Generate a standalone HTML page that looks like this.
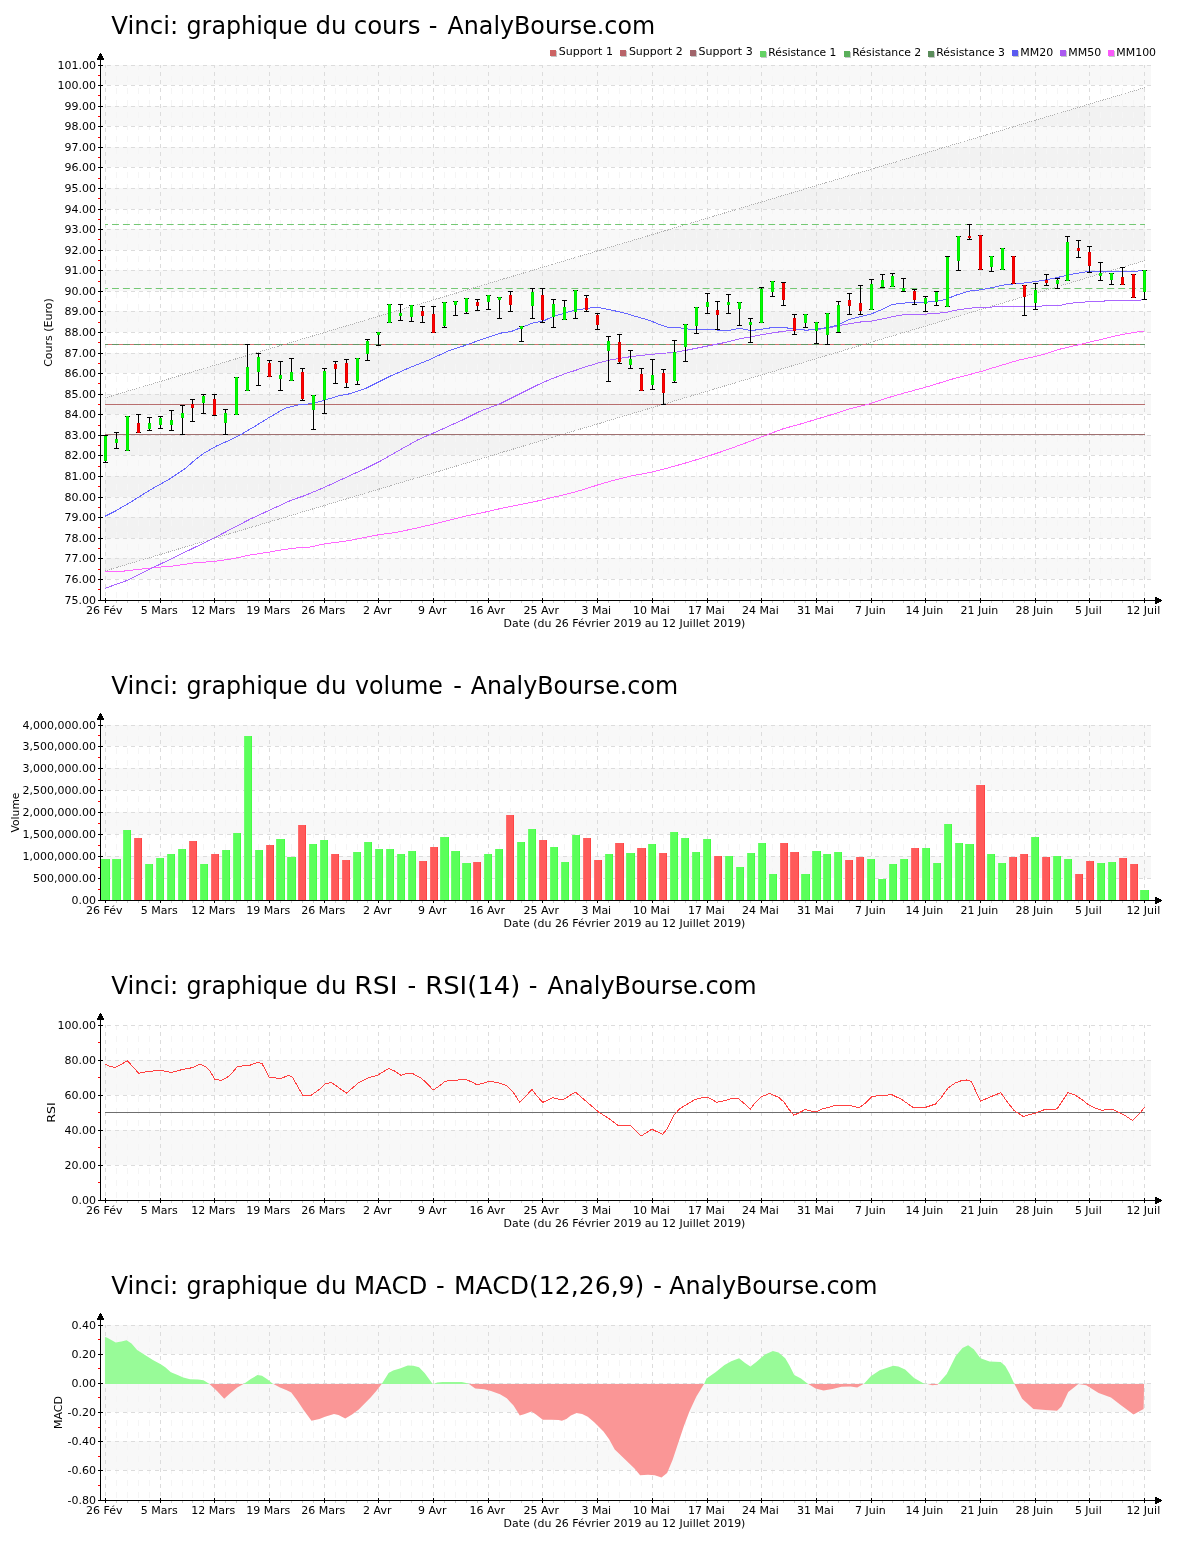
<!DOCTYPE html>
<html><head><meta charset="utf-8"><style>html,body{margin:0;padding:0;background:#fff;}svg{display:block;}</style></head><body>
<svg style="will-change:transform" width="1200" height="1550" viewBox="0 0 1200 1550" font-family="'DejaVu Sans', 'Liberation Sans', sans-serif">
<rect width="1200" height="1550" fill="#fff"/>
<text x="111.25" y="34" font-size="24" fill="#000" textLength="67.00" lengthAdjust="spacingAndGlyphs">Vinci:</text>
<text x="186.51" y="34" font-size="24" fill="#000" textLength="121.13" lengthAdjust="spacingAndGlyphs">graphique</text>
<text x="315.48" y="34" font-size="24" fill="#000" textLength="30.99" lengthAdjust="spacingAndGlyphs">du</text>
<text x="353.68" y="34" font-size="24" fill="#000" textLength="66.80" lengthAdjust="spacingAndGlyphs">cours</text>
<text x="428.75" y="34" font-size="24" fill="#000">-</text>
<text x="447.50" y="34" font-size="24" fill="#000" textLength="207.58" lengthAdjust="spacingAndGlyphs">AnalyBourse.com</text>
<rect x="101" y="558" width="1050" height="21" fill="#f8f8f8"/>
<rect x="101" y="517" width="1050" height="21" fill="#f8f8f8"/>
<rect x="101" y="476" width="1050" height="21" fill="#f8f8f8"/>
<rect x="101" y="435" width="1050" height="20" fill="#f8f8f8"/>
<rect x="101" y="394" width="1050" height="20" fill="#f8f8f8"/>
<rect x="101" y="353" width="1050" height="20" fill="#f8f8f8"/>
<rect x="101" y="311" width="1050" height="21" fill="#f8f8f8"/>
<rect x="101" y="270" width="1050" height="21" fill="#f8f8f8"/>
<rect x="101" y="229" width="1050" height="21" fill="#f8f8f8"/>
<rect x="101" y="188" width="1050" height="21" fill="#f8f8f8"/>
<rect x="101" y="147" width="1050" height="20" fill="#f8f8f8"/>
<rect x="101" y="106" width="1050" height="20" fill="#f8f8f8"/>
<rect x="101" y="65" width="1050" height="20" fill="#f8f8f8"/>
<polygon points="105,397.95 1145,87.51 1145,260.51 105,570.95" fill="#000" fill-opacity="0.025"/>
<line x1="116.5" y1="65" x2="116.5" y2="600" stroke="#f5f5f5" stroke-width="1" stroke-dasharray="6,6" stroke-dashoffset="1"/>
<line x1="127.5" y1="65" x2="127.5" y2="600" stroke="#f5f5f5" stroke-width="1" stroke-dasharray="6,6" stroke-dashoffset="1"/>
<line x1="138.5" y1="65" x2="138.5" y2="600" stroke="#f5f5f5" stroke-width="1" stroke-dasharray="6,6" stroke-dashoffset="1"/>
<line x1="149.5" y1="65" x2="149.5" y2="600" stroke="#f5f5f5" stroke-width="1" stroke-dasharray="6,6" stroke-dashoffset="1"/>
<line x1="171.5" y1="65" x2="171.5" y2="600" stroke="#f5f5f5" stroke-width="1" stroke-dasharray="6,6" stroke-dashoffset="1"/>
<line x1="182.5" y1="65" x2="182.5" y2="600" stroke="#f5f5f5" stroke-width="1" stroke-dasharray="6,6" stroke-dashoffset="1"/>
<line x1="192.5" y1="65" x2="192.5" y2="600" stroke="#f5f5f5" stroke-width="1" stroke-dasharray="6,6" stroke-dashoffset="1"/>
<line x1="203.5" y1="65" x2="203.5" y2="600" stroke="#f5f5f5" stroke-width="1" stroke-dasharray="6,6" stroke-dashoffset="1"/>
<line x1="225.5" y1="65" x2="225.5" y2="600" stroke="#f5f5f5" stroke-width="1" stroke-dasharray="6,6" stroke-dashoffset="1"/>
<line x1="236.5" y1="65" x2="236.5" y2="600" stroke="#f5f5f5" stroke-width="1" stroke-dasharray="6,6" stroke-dashoffset="1"/>
<line x1="247.5" y1="65" x2="247.5" y2="600" stroke="#f5f5f5" stroke-width="1" stroke-dasharray="6,6" stroke-dashoffset="1"/>
<line x1="258.5" y1="65" x2="258.5" y2="600" stroke="#f5f5f5" stroke-width="1" stroke-dasharray="6,6" stroke-dashoffset="1"/>
<line x1="280.5" y1="65" x2="280.5" y2="600" stroke="#f5f5f5" stroke-width="1" stroke-dasharray="6,6" stroke-dashoffset="1"/>
<line x1="291.5" y1="65" x2="291.5" y2="600" stroke="#f5f5f5" stroke-width="1" stroke-dasharray="6,6" stroke-dashoffset="1"/>
<line x1="302.5" y1="65" x2="302.5" y2="600" stroke="#f5f5f5" stroke-width="1" stroke-dasharray="6,6" stroke-dashoffset="1"/>
<line x1="313.5" y1="65" x2="313.5" y2="600" stroke="#f5f5f5" stroke-width="1" stroke-dasharray="6,6" stroke-dashoffset="1"/>
<line x1="335.5" y1="65" x2="335.5" y2="600" stroke="#f5f5f5" stroke-width="1" stroke-dasharray="6,6" stroke-dashoffset="1"/>
<line x1="346.5" y1="65" x2="346.5" y2="600" stroke="#f5f5f5" stroke-width="1" stroke-dasharray="6,6" stroke-dashoffset="1"/>
<line x1="357.5" y1="65" x2="357.5" y2="600" stroke="#f5f5f5" stroke-width="1" stroke-dasharray="6,6" stroke-dashoffset="1"/>
<line x1="367.5" y1="65" x2="367.5" y2="600" stroke="#f5f5f5" stroke-width="1" stroke-dasharray="6,6" stroke-dashoffset="1"/>
<line x1="389.5" y1="65" x2="389.5" y2="600" stroke="#f5f5f5" stroke-width="1" stroke-dasharray="6,6" stroke-dashoffset="1"/>
<line x1="400.5" y1="65" x2="400.5" y2="600" stroke="#f5f5f5" stroke-width="1" stroke-dasharray="6,6" stroke-dashoffset="1"/>
<line x1="411.5" y1="65" x2="411.5" y2="600" stroke="#f5f5f5" stroke-width="1" stroke-dasharray="6,6" stroke-dashoffset="1"/>
<line x1="422.5" y1="65" x2="422.5" y2="600" stroke="#f5f5f5" stroke-width="1" stroke-dasharray="6,6" stroke-dashoffset="1"/>
<line x1="444.5" y1="65" x2="444.5" y2="600" stroke="#f5f5f5" stroke-width="1" stroke-dasharray="6,6" stroke-dashoffset="1"/>
<line x1="455.5" y1="65" x2="455.5" y2="600" stroke="#f5f5f5" stroke-width="1" stroke-dasharray="6,6" stroke-dashoffset="1"/>
<line x1="466.5" y1="65" x2="466.5" y2="600" stroke="#f5f5f5" stroke-width="1" stroke-dasharray="6,6" stroke-dashoffset="1"/>
<line x1="477.5" y1="65" x2="477.5" y2="600" stroke="#f5f5f5" stroke-width="1" stroke-dasharray="6,6" stroke-dashoffset="1"/>
<line x1="499.5" y1="65" x2="499.5" y2="600" stroke="#f5f5f5" stroke-width="1" stroke-dasharray="6,6" stroke-dashoffset="1"/>
<line x1="510.5" y1="65" x2="510.5" y2="600" stroke="#f5f5f5" stroke-width="1" stroke-dasharray="6,6" stroke-dashoffset="1"/>
<line x1="521.5" y1="65" x2="521.5" y2="600" stroke="#f5f5f5" stroke-width="1" stroke-dasharray="6,6" stroke-dashoffset="1"/>
<line x1="532.5" y1="65" x2="532.5" y2="600" stroke="#f5f5f5" stroke-width="1" stroke-dasharray="6,6" stroke-dashoffset="1"/>
<line x1="553.5" y1="65" x2="553.5" y2="600" stroke="#f5f5f5" stroke-width="1" stroke-dasharray="6,6" stroke-dashoffset="1"/>
<line x1="564.5" y1="65" x2="564.5" y2="600" stroke="#f5f5f5" stroke-width="1" stroke-dasharray="6,6" stroke-dashoffset="1"/>
<line x1="575.5" y1="65" x2="575.5" y2="600" stroke="#f5f5f5" stroke-width="1" stroke-dasharray="6,6" stroke-dashoffset="1"/>
<line x1="586.5" y1="65" x2="586.5" y2="600" stroke="#f5f5f5" stroke-width="1" stroke-dasharray="6,6" stroke-dashoffset="1"/>
<line x1="608.5" y1="65" x2="608.5" y2="600" stroke="#f5f5f5" stroke-width="1" stroke-dasharray="6,6" stroke-dashoffset="1"/>
<line x1="619.5" y1="65" x2="619.5" y2="600" stroke="#f5f5f5" stroke-width="1" stroke-dasharray="6,6" stroke-dashoffset="1"/>
<line x1="630.5" y1="65" x2="630.5" y2="600" stroke="#f5f5f5" stroke-width="1" stroke-dasharray="6,6" stroke-dashoffset="1"/>
<line x1="641.5" y1="65" x2="641.5" y2="600" stroke="#f5f5f5" stroke-width="1" stroke-dasharray="6,6" stroke-dashoffset="1"/>
<line x1="663.5" y1="65" x2="663.5" y2="600" stroke="#f5f5f5" stroke-width="1" stroke-dasharray="6,6" stroke-dashoffset="1"/>
<line x1="674.5" y1="65" x2="674.5" y2="600" stroke="#f5f5f5" stroke-width="1" stroke-dasharray="6,6" stroke-dashoffset="1"/>
<line x1="685.5" y1="65" x2="685.5" y2="600" stroke="#f5f5f5" stroke-width="1" stroke-dasharray="6,6" stroke-dashoffset="1"/>
<line x1="696.5" y1="65" x2="696.5" y2="600" stroke="#f5f5f5" stroke-width="1" stroke-dasharray="6,6" stroke-dashoffset="1"/>
<line x1="717.5" y1="65" x2="717.5" y2="600" stroke="#f5f5f5" stroke-width="1" stroke-dasharray="6,6" stroke-dashoffset="1"/>
<line x1="728.5" y1="65" x2="728.5" y2="600" stroke="#f5f5f5" stroke-width="1" stroke-dasharray="6,6" stroke-dashoffset="1"/>
<line x1="739.5" y1="65" x2="739.5" y2="600" stroke="#f5f5f5" stroke-width="1" stroke-dasharray="6,6" stroke-dashoffset="1"/>
<line x1="750.5" y1="65" x2="750.5" y2="600" stroke="#f5f5f5" stroke-width="1" stroke-dasharray="6,6" stroke-dashoffset="1"/>
<line x1="772.5" y1="65" x2="772.5" y2="600" stroke="#f5f5f5" stroke-width="1" stroke-dasharray="6,6" stroke-dashoffset="1"/>
<line x1="783.5" y1="65" x2="783.5" y2="600" stroke="#f5f5f5" stroke-width="1" stroke-dasharray="6,6" stroke-dashoffset="1"/>
<line x1="794.5" y1="65" x2="794.5" y2="600" stroke="#f5f5f5" stroke-width="1" stroke-dasharray="6,6" stroke-dashoffset="1"/>
<line x1="805.5" y1="65" x2="805.5" y2="600" stroke="#f5f5f5" stroke-width="1" stroke-dasharray="6,6" stroke-dashoffset="1"/>
<line x1="827.5" y1="65" x2="827.5" y2="600" stroke="#f5f5f5" stroke-width="1" stroke-dasharray="6,6" stroke-dashoffset="1"/>
<line x1="838.5" y1="65" x2="838.5" y2="600" stroke="#f5f5f5" stroke-width="1" stroke-dasharray="6,6" stroke-dashoffset="1"/>
<line x1="849.5" y1="65" x2="849.5" y2="600" stroke="#f5f5f5" stroke-width="1" stroke-dasharray="6,6" stroke-dashoffset="1"/>
<line x1="860.5" y1="65" x2="860.5" y2="600" stroke="#f5f5f5" stroke-width="1" stroke-dasharray="6,6" stroke-dashoffset="1"/>
<line x1="882.5" y1="65" x2="882.5" y2="600" stroke="#f5f5f5" stroke-width="1" stroke-dasharray="6,6" stroke-dashoffset="1"/>
<line x1="892.5" y1="65" x2="892.5" y2="600" stroke="#f5f5f5" stroke-width="1" stroke-dasharray="6,6" stroke-dashoffset="1"/>
<line x1="903.5" y1="65" x2="903.5" y2="600" stroke="#f5f5f5" stroke-width="1" stroke-dasharray="6,6" stroke-dashoffset="1"/>
<line x1="914.5" y1="65" x2="914.5" y2="600" stroke="#f5f5f5" stroke-width="1" stroke-dasharray="6,6" stroke-dashoffset="1"/>
<line x1="936.5" y1="65" x2="936.5" y2="600" stroke="#f5f5f5" stroke-width="1" stroke-dasharray="6,6" stroke-dashoffset="1"/>
<line x1="947.5" y1="65" x2="947.5" y2="600" stroke="#f5f5f5" stroke-width="1" stroke-dasharray="6,6" stroke-dashoffset="1"/>
<line x1="958.5" y1="65" x2="958.5" y2="600" stroke="#f5f5f5" stroke-width="1" stroke-dasharray="6,6" stroke-dashoffset="1"/>
<line x1="969.5" y1="65" x2="969.5" y2="600" stroke="#f5f5f5" stroke-width="1" stroke-dasharray="6,6" stroke-dashoffset="1"/>
<line x1="991.5" y1="65" x2="991.5" y2="600" stroke="#f5f5f5" stroke-width="1" stroke-dasharray="6,6" stroke-dashoffset="1"/>
<line x1="1002.5" y1="65" x2="1002.5" y2="600" stroke="#f5f5f5" stroke-width="1" stroke-dasharray="6,6" stroke-dashoffset="1"/>
<line x1="1013.5" y1="65" x2="1013.5" y2="600" stroke="#f5f5f5" stroke-width="1" stroke-dasharray="6,6" stroke-dashoffset="1"/>
<line x1="1024.5" y1="65" x2="1024.5" y2="600" stroke="#f5f5f5" stroke-width="1" stroke-dasharray="6,6" stroke-dashoffset="1"/>
<line x1="1046.5" y1="65" x2="1046.5" y2="600" stroke="#f5f5f5" stroke-width="1" stroke-dasharray="6,6" stroke-dashoffset="1"/>
<line x1="1057.5" y1="65" x2="1057.5" y2="600" stroke="#f5f5f5" stroke-width="1" stroke-dasharray="6,6" stroke-dashoffset="1"/>
<line x1="1067.5" y1="65" x2="1067.5" y2="600" stroke="#f5f5f5" stroke-width="1" stroke-dasharray="6,6" stroke-dashoffset="1"/>
<line x1="1078.5" y1="65" x2="1078.5" y2="600" stroke="#f5f5f5" stroke-width="1" stroke-dasharray="6,6" stroke-dashoffset="1"/>
<line x1="1100.5" y1="65" x2="1100.5" y2="600" stroke="#f5f5f5" stroke-width="1" stroke-dasharray="6,6" stroke-dashoffset="1"/>
<line x1="1111.5" y1="65" x2="1111.5" y2="600" stroke="#f5f5f5" stroke-width="1" stroke-dasharray="6,6" stroke-dashoffset="1"/>
<line x1="1122.5" y1="65" x2="1122.5" y2="600" stroke="#f5f5f5" stroke-width="1" stroke-dasharray="6,6" stroke-dashoffset="1"/>
<line x1="1133.5" y1="65" x2="1133.5" y2="600" stroke="#f5f5f5" stroke-width="1" stroke-dasharray="6,6" stroke-dashoffset="1"/>
<line x1="105.5" y1="65" x2="105.5" y2="600" stroke="#dcdcdc" stroke-width="1" stroke-dasharray="4,4" stroke-dashoffset="1"/>
<line x1="160.5" y1="65" x2="160.5" y2="600" stroke="#dcdcdc" stroke-width="1" stroke-dasharray="4,4" stroke-dashoffset="1"/>
<line x1="214.5" y1="65" x2="214.5" y2="600" stroke="#dcdcdc" stroke-width="1" stroke-dasharray="4,4" stroke-dashoffset="1"/>
<line x1="269.5" y1="65" x2="269.5" y2="600" stroke="#dcdcdc" stroke-width="1" stroke-dasharray="4,4" stroke-dashoffset="1"/>
<line x1="324.5" y1="65" x2="324.5" y2="600" stroke="#dcdcdc" stroke-width="1" stroke-dasharray="4,4" stroke-dashoffset="1"/>
<line x1="378.5" y1="65" x2="378.5" y2="600" stroke="#dcdcdc" stroke-width="1" stroke-dasharray="4,4" stroke-dashoffset="1"/>
<line x1="433.5" y1="65" x2="433.5" y2="600" stroke="#dcdcdc" stroke-width="1" stroke-dasharray="4,4" stroke-dashoffset="1"/>
<line x1="488.5" y1="65" x2="488.5" y2="600" stroke="#dcdcdc" stroke-width="1" stroke-dasharray="4,4" stroke-dashoffset="1"/>
<line x1="542.5" y1="65" x2="542.5" y2="600" stroke="#dcdcdc" stroke-width="1" stroke-dasharray="4,4" stroke-dashoffset="1"/>
<line x1="597.5" y1="65" x2="597.5" y2="600" stroke="#dcdcdc" stroke-width="1" stroke-dasharray="4,4" stroke-dashoffset="1"/>
<line x1="652.5" y1="65" x2="652.5" y2="600" stroke="#dcdcdc" stroke-width="1" stroke-dasharray="4,4" stroke-dashoffset="1"/>
<line x1="707.5" y1="65" x2="707.5" y2="600" stroke="#dcdcdc" stroke-width="1" stroke-dasharray="4,4" stroke-dashoffset="1"/>
<line x1="761.5" y1="65" x2="761.5" y2="600" stroke="#dcdcdc" stroke-width="1" stroke-dasharray="4,4" stroke-dashoffset="1"/>
<line x1="816.5" y1="65" x2="816.5" y2="600" stroke="#dcdcdc" stroke-width="1" stroke-dasharray="4,4" stroke-dashoffset="1"/>
<line x1="871.5" y1="65" x2="871.5" y2="600" stroke="#dcdcdc" stroke-width="1" stroke-dasharray="4,4" stroke-dashoffset="1"/>
<line x1="925.5" y1="65" x2="925.5" y2="600" stroke="#dcdcdc" stroke-width="1" stroke-dasharray="4,4" stroke-dashoffset="1"/>
<line x1="980.5" y1="65" x2="980.5" y2="600" stroke="#dcdcdc" stroke-width="1" stroke-dasharray="4,4" stroke-dashoffset="1"/>
<line x1="1035.5" y1="65" x2="1035.5" y2="600" stroke="#dcdcdc" stroke-width="1" stroke-dasharray="4,4" stroke-dashoffset="1"/>
<line x1="1089.5" y1="65" x2="1089.5" y2="600" stroke="#dcdcdc" stroke-width="1" stroke-dasharray="4,4" stroke-dashoffset="1"/>
<line x1="1144.5" y1="65" x2="1144.5" y2="600" stroke="#dcdcdc" stroke-width="1" stroke-dasharray="4,4" stroke-dashoffset="1"/>
<line x1="101" y1="600.5" x2="1151" y2="600.5" stroke="#dcdcdc" stroke-width="1" stroke-dasharray="4,4" stroke-dashoffset="2"/>
<line x1="101" y1="579.5" x2="1151" y2="579.5" stroke="#dcdcdc" stroke-width="1" stroke-dasharray="4,4" stroke-dashoffset="2"/>
<line x1="101" y1="558.5" x2="1151" y2="558.5" stroke="#dcdcdc" stroke-width="1" stroke-dasharray="4,4" stroke-dashoffset="2"/>
<line x1="101" y1="538.5" x2="1151" y2="538.5" stroke="#dcdcdc" stroke-width="1" stroke-dasharray="4,4" stroke-dashoffset="2"/>
<line x1="101" y1="517.5" x2="1151" y2="517.5" stroke="#dcdcdc" stroke-width="1" stroke-dasharray="4,4" stroke-dashoffset="2"/>
<line x1="101" y1="497.5" x2="1151" y2="497.5" stroke="#dcdcdc" stroke-width="1" stroke-dasharray="4,4" stroke-dashoffset="2"/>
<line x1="101" y1="476.5" x2="1151" y2="476.5" stroke="#dcdcdc" stroke-width="1" stroke-dasharray="4,4" stroke-dashoffset="2"/>
<line x1="101" y1="455.5" x2="1151" y2="455.5" stroke="#dcdcdc" stroke-width="1" stroke-dasharray="4,4" stroke-dashoffset="2"/>
<line x1="101" y1="435.5" x2="1151" y2="435.5" stroke="#dcdcdc" stroke-width="1" stroke-dasharray="4,4" stroke-dashoffset="2"/>
<line x1="101" y1="414.5" x2="1151" y2="414.5" stroke="#dcdcdc" stroke-width="1" stroke-dasharray="4,4" stroke-dashoffset="2"/>
<line x1="101" y1="394.5" x2="1151" y2="394.5" stroke="#dcdcdc" stroke-width="1" stroke-dasharray="4,4" stroke-dashoffset="2"/>
<line x1="101" y1="373.5" x2="1151" y2="373.5" stroke="#dcdcdc" stroke-width="1" stroke-dasharray="4,4" stroke-dashoffset="2"/>
<line x1="101" y1="353.5" x2="1151" y2="353.5" stroke="#dcdcdc" stroke-width="1" stroke-dasharray="4,4" stroke-dashoffset="2"/>
<line x1="101" y1="332.5" x2="1151" y2="332.5" stroke="#dcdcdc" stroke-width="1" stroke-dasharray="4,4" stroke-dashoffset="2"/>
<line x1="101" y1="311.5" x2="1151" y2="311.5" stroke="#dcdcdc" stroke-width="1" stroke-dasharray="4,4" stroke-dashoffset="2"/>
<line x1="101" y1="291.5" x2="1151" y2="291.5" stroke="#dcdcdc" stroke-width="1" stroke-dasharray="4,4" stroke-dashoffset="2"/>
<line x1="101" y1="270.5" x2="1151" y2="270.5" stroke="#dcdcdc" stroke-width="1" stroke-dasharray="4,4" stroke-dashoffset="2"/>
<line x1="101" y1="250.5" x2="1151" y2="250.5" stroke="#dcdcdc" stroke-width="1" stroke-dasharray="4,4" stroke-dashoffset="2"/>
<line x1="101" y1="229.5" x2="1151" y2="229.5" stroke="#dcdcdc" stroke-width="1" stroke-dasharray="4,4" stroke-dashoffset="2"/>
<line x1="101" y1="209.5" x2="1151" y2="209.5" stroke="#dcdcdc" stroke-width="1" stroke-dasharray="4,4" stroke-dashoffset="2"/>
<line x1="101" y1="188.5" x2="1151" y2="188.5" stroke="#dcdcdc" stroke-width="1" stroke-dasharray="4,4" stroke-dashoffset="2"/>
<line x1="101" y1="167.5" x2="1151" y2="167.5" stroke="#dcdcdc" stroke-width="1" stroke-dasharray="4,4" stroke-dashoffset="2"/>
<line x1="101" y1="147.5" x2="1151" y2="147.5" stroke="#dcdcdc" stroke-width="1" stroke-dasharray="4,4" stroke-dashoffset="2"/>
<line x1="101" y1="126.5" x2="1151" y2="126.5" stroke="#dcdcdc" stroke-width="1" stroke-dasharray="4,4" stroke-dashoffset="2"/>
<line x1="101" y1="106.5" x2="1151" y2="106.5" stroke="#dcdcdc" stroke-width="1" stroke-dasharray="4,4" stroke-dashoffset="2"/>
<line x1="101" y1="85.5" x2="1151" y2="85.5" stroke="#dcdcdc" stroke-width="1" stroke-dasharray="4,4" stroke-dashoffset="2"/>
<line x1="101" y1="65.5" x2="1151" y2="65.5" stroke="#dcdcdc" stroke-width="1" stroke-dasharray="4,4" stroke-dashoffset="2"/>
<line x1="105" y1="397.95" x2="1145" y2="87.51" stroke="#b0b0b0" stroke-width="1" stroke-dasharray="1,1" shape-rendering="crispEdges"/>
<line x1="105" y1="570.95" x2="1145" y2="260.51" stroke="#b0b0b0" stroke-width="1" stroke-dasharray="1,1" shape-rendering="crispEdges"/>
<line x1="105" y1="344.5" x2="1145" y2="344.5" stroke="#d87070" stroke-width="1"/>
<line x1="105" y1="344.5" x2="1145" y2="344.5" stroke="#649664" stroke-width="1" stroke-dasharray="6.937,4" stroke-dashoffset="3.937"/>
<line x1="105" y1="404.5" x2="1145" y2="404.5" stroke="#b86e6e" stroke-width="1"/>
<line x1="105" y1="434.5" x2="1145" y2="434.5" stroke="#a07070" stroke-width="1"/>
<line x1="105" y1="224.5" x2="1145" y2="224.5" stroke="#74c874" stroke-width="1" stroke-dasharray="6.937,4" stroke-dashoffset="3.937"/>
<line x1="105" y1="288.5" x2="1145" y2="288.5" stroke="#74c874" stroke-width="1" stroke-dasharray="6.937,4" stroke-dashoffset="3.937"/>
<polyline points="105.00,571.33 121.67,571.33 133.33,570.00 155.00,567.50 175.00,565.83 193.33,563.00 215.00,561.33 233.33,558.67 250.00,555.00 266.67,552.50 283.33,549.67 300.00,547.50 310.00,547.00 325.00,543.75 345.00,541.25 365.00,537.50 380.00,534.50 390.00,533.30 400.00,531.67 416.67,528.00 433.33,524.17 450.00,520.00 466.67,515.83 483.33,512.50 500.00,508.67 516.67,505.33 533.33,502.00 550.00,498.00 566.67,494.17 583.33,489.67 600.00,484.17 616.67,479.50 633.33,475.50 650.00,472.50 666.67,468.33 683.33,463.67 700.00,458.67 716.67,453.33 733.33,447.50 750.00,441.33 766.67,435.00 783.33,428.67 800.00,424.17 816.67,419.17 833.33,414.17 850.00,408.67 866.67,404.67 883.33,399.17 900.00,394.17 916.67,389.67 933.33,385.00 950.00,379.67 966.67,375.33 983.33,370.83 990.00,368.71 1004.17,364.46 1018.33,360.21 1032.50,357.09 1046.67,353.55 1060.83,348.88 1075.00,345.62 1089.17,342.22 1103.33,338.96 1117.50,335.42 1131.67,332.87 1144.42,330.88" fill="none" stroke="#ff66ff" stroke-width="1" shape-rendering="crispEdges"/>
<polyline points="105.00,588.33 128.33,580.00 155.00,566.67 183.33,553.00 213.33,538.33 250.00,519.17 291.67,500.00 305.00,495.50 320.00,489.25 335.00,482.50 350.00,475.50 365.00,468.75 380.00,461.25 417.50,440.00 437.50,431.25 462.50,420.00 480.00,411.25 500.00,403.75 512.50,397.50 525.00,391.25 537.50,385.00 550.00,379.50 565.00,373.75 575.00,370.50 587.50,366.25 600.00,362.50 612.50,359.50 625.00,357.50 637.50,355.75 650.00,354.50 662.50,353.25 675.00,352.50 687.50,350.00 700.00,347.50 712.50,345.00 725.00,342.50 737.50,339.25 750.00,337.00 762.50,334.50 775.00,332.50 787.50,330.75 800.00,329.25 806.00,330.17 817.00,329.43 828.00,328.33 839.00,325.58 850.00,323.75 861.00,321.92 872.00,321.00 883.00,318.80 894.00,316.42 905.00,314.58 916.00,314.03 927.00,314.03 945.00,312.58 956.00,310.20 968.83,308.37 981.67,307.08 990.00,307.08 1004.17,306.38 1039.58,306.38 1046.67,305.38 1060.83,305.38 1067.92,303.54 1082.08,302.12 1103.33,301.42 1106.17,300.43 1138.75,300.43 1144.80,299.40" fill="none" stroke="#aa66ff" stroke-width="1" shape-rendering="crispEdges"/>
<polyline points="105.00,516.25 115.00,511.25 130.00,502.50 150.00,490.00 170.00,478.75 185.00,468.75 195.00,460.00 205.00,452.50 217.50,445.50 230.00,440.00 240.00,435.00 255.00,426.25 270.00,417.00 285.00,408.25 300.00,404.50 312.50,403.75 325.00,400.00 340.00,395.50 350.00,393.75 365.00,388.75 380.00,381.25 390.00,376.25 410.00,367.50 430.00,359.50 447.50,351.25 465.00,345.50 480.00,340.00 500.00,333.25 511.67,331.33 532.33,323.17 543.33,320.97 552.50,316.75 561.67,314.00 572.67,310.70 583.67,308.87 596.50,307.22 603.83,308.50 616.67,311.25 627.67,314.00 638.67,317.30 649.67,320.42 660.67,325.00 668.00,327.20 679.00,327.75 690.00,329.22 701.00,329.58 712.00,329.58 723.00,330.50 730.33,330.13 740.00,328.33 751.00,330.53 762.00,329.25 773.00,327.42 784.00,327.42 795.00,329.25 806.00,330.17 817.00,329.25 828.00,327.42 839.00,324.67 850.00,319.17 861.00,316.42 872.00,313.67 883.00,309.08 892.17,304.50 905.00,303.03 916.00,302.67 927.00,302.12 945.00,299.75 956.00,295.17 968.83,291.13 981.67,289.67 992.67,287.47 1003.67,285.08 1014.67,283.80 1025.67,282.88 1036.67,281.42 1047.67,279.58 1058.67,277.20 1069.67,274.63 1080.67,272.80 1088.00,271.33 1100.83,271.33 1113.67,271.33 1124.67,271.33 1135.67,271.33 1144.83,270.05" fill="none" stroke="#6666ff" stroke-width="1" shape-rendering="crispEdges"/>
<rect x="105" y="435" width="1" height="28" fill="#000"/>
<rect x="103" y="435" width="5" height="1" fill="#000"/>
<rect x="103" y="462" width="5" height="1" fill="#000"/>
<rect x="104" y="436" width="3" height="25" fill="#00e600"/>
<rect x="105" y="437" width="1" height="23" fill="#00ff00"/>
<rect x="116" y="432" width="1" height="17" fill="#000"/>
<rect x="114" y="432" width="5" height="1" fill="#000"/>
<rect x="114" y="448" width="5" height="1" fill="#000"/>
<rect x="115" y="439" width="3" height="4" fill="#00e600"/>
<rect x="116" y="440" width="1" height="2" fill="#00ff00"/>
<rect x="127" y="416" width="1" height="35" fill="#000"/>
<rect x="125" y="416" width="5" height="1" fill="#000"/>
<rect x="125" y="450" width="5" height="1" fill="#000"/>
<rect x="126" y="416" width="3" height="35" fill="#00e600"/>
<rect x="127" y="417" width="1" height="33" fill="#00ff00"/>
<rect x="138" y="414" width="1" height="19" fill="#000"/>
<rect x="136" y="414" width="5" height="1" fill="#000"/>
<rect x="136" y="432" width="5" height="1" fill="#000"/>
<rect x="137" y="423" width="3" height="10" fill="#e60000"/>
<rect x="138" y="424" width="1" height="8" fill="#ff0000"/>
<rect x="149" y="417" width="1" height="14" fill="#000"/>
<rect x="147" y="417" width="5" height="1" fill="#000"/>
<rect x="147" y="430" width="5" height="1" fill="#000"/>
<rect x="148" y="423" width="3" height="6" fill="#00e600"/>
<rect x="149" y="424" width="1" height="4" fill="#00ff00"/>
<rect x="160" y="416" width="1" height="13" fill="#000"/>
<rect x="158" y="416" width="5" height="1" fill="#000"/>
<rect x="158" y="428" width="5" height="1" fill="#000"/>
<rect x="159" y="418" width="3" height="7" fill="#00e600"/>
<rect x="160" y="419" width="1" height="5" fill="#00ff00"/>
<rect x="171" y="410" width="1" height="21" fill="#000"/>
<rect x="169" y="410" width="5" height="1" fill="#000"/>
<rect x="169" y="430" width="5" height="1" fill="#000"/>
<rect x="170" y="420" width="3" height="5" fill="#00e600"/>
<rect x="171" y="421" width="1" height="3" fill="#00ff00"/>
<rect x="182" y="405" width="1" height="30" fill="#000"/>
<rect x="180" y="405" width="5" height="1" fill="#000"/>
<rect x="180" y="434" width="5" height="1" fill="#000"/>
<rect x="181" y="413" width="3" height="5" fill="#00e600"/>
<rect x="182" y="414" width="1" height="3" fill="#00ff00"/>
<rect x="192" y="399" width="1" height="23" fill="#000"/>
<rect x="190" y="399" width="5" height="1" fill="#000"/>
<rect x="190" y="421" width="5" height="1" fill="#000"/>
<rect x="191" y="404" width="3" height="4" fill="#e60000"/>
<rect x="192" y="405" width="1" height="2" fill="#ff0000"/>
<rect x="203" y="394" width="1" height="20" fill="#000"/>
<rect x="201" y="394" width="5" height="1" fill="#000"/>
<rect x="201" y="413" width="5" height="1" fill="#000"/>
<rect x="202" y="396" width="3" height="7" fill="#00e600"/>
<rect x="203" y="397" width="1" height="5" fill="#00ff00"/>
<rect x="214" y="394" width="1" height="22" fill="#000"/>
<rect x="212" y="394" width="5" height="1" fill="#000"/>
<rect x="212" y="415" width="5" height="1" fill="#000"/>
<rect x="213" y="399" width="3" height="16" fill="#e60000"/>
<rect x="214" y="400" width="1" height="14" fill="#ff0000"/>
<rect x="225" y="409" width="1" height="26" fill="#000"/>
<rect x="223" y="409" width="5" height="1" fill="#000"/>
<rect x="223" y="434" width="5" height="1" fill="#000"/>
<rect x="224" y="413" width="3" height="10" fill="#00e600"/>
<rect x="225" y="414" width="1" height="8" fill="#00ff00"/>
<rect x="236" y="377" width="1" height="38" fill="#000"/>
<rect x="234" y="377" width="5" height="1" fill="#000"/>
<rect x="234" y="414" width="5" height="1" fill="#000"/>
<rect x="235" y="377" width="3" height="38" fill="#00e600"/>
<rect x="236" y="378" width="1" height="36" fill="#00ff00"/>
<rect x="247" y="344" width="1" height="47" fill="#000"/>
<rect x="245" y="344" width="5" height="1" fill="#000"/>
<rect x="245" y="390" width="5" height="1" fill="#000"/>
<rect x="246" y="367" width="3" height="24" fill="#00e600"/>
<rect x="247" y="368" width="1" height="22" fill="#00ff00"/>
<rect x="258" y="353" width="1" height="33" fill="#000"/>
<rect x="256" y="353" width="5" height="1" fill="#000"/>
<rect x="256" y="385" width="5" height="1" fill="#000"/>
<rect x="257" y="357" width="3" height="15" fill="#00e600"/>
<rect x="258" y="358" width="1" height="13" fill="#00ff00"/>
<rect x="269" y="360" width="1" height="17" fill="#000"/>
<rect x="267" y="360" width="5" height="1" fill="#000"/>
<rect x="267" y="376" width="5" height="1" fill="#000"/>
<rect x="268" y="363" width="3" height="14" fill="#e60000"/>
<rect x="269" y="364" width="1" height="12" fill="#ff0000"/>
<rect x="280" y="361" width="1" height="30" fill="#000"/>
<rect x="278" y="361" width="5" height="1" fill="#000"/>
<rect x="278" y="390" width="5" height="1" fill="#000"/>
<rect x="279" y="375" width="3" height="4" fill="#00e600"/>
<rect x="280" y="376" width="1" height="2" fill="#00ff00"/>
<rect x="291" y="358" width="1" height="23" fill="#000"/>
<rect x="289" y="358" width="5" height="1" fill="#000"/>
<rect x="289" y="380" width="5" height="1" fill="#000"/>
<rect x="290" y="372" width="3" height="9" fill="#00e600"/>
<rect x="291" y="373" width="1" height="7" fill="#00ff00"/>
<rect x="302" y="368" width="1" height="33" fill="#000"/>
<rect x="300" y="368" width="5" height="1" fill="#000"/>
<rect x="300" y="400" width="5" height="1" fill="#000"/>
<rect x="301" y="372" width="3" height="27" fill="#e60000"/>
<rect x="302" y="373" width="1" height="25" fill="#ff0000"/>
<rect x="313" y="395" width="1" height="35" fill="#000"/>
<rect x="311" y="395" width="5" height="1" fill="#000"/>
<rect x="311" y="429" width="5" height="1" fill="#000"/>
<rect x="312" y="395" width="3" height="15" fill="#00e600"/>
<rect x="313" y="396" width="1" height="13" fill="#00ff00"/>
<rect x="324" y="368" width="1" height="46" fill="#000"/>
<rect x="322" y="368" width="5" height="1" fill="#000"/>
<rect x="322" y="413" width="5" height="1" fill="#000"/>
<rect x="323" y="371" width="3" height="29" fill="#00e600"/>
<rect x="324" y="372" width="1" height="27" fill="#00ff00"/>
<rect x="335" y="361" width="1" height="23" fill="#000"/>
<rect x="333" y="361" width="5" height="1" fill="#000"/>
<rect x="333" y="383" width="5" height="1" fill="#000"/>
<rect x="334" y="364" width="3" height="5" fill="#e60000"/>
<rect x="335" y="365" width="1" height="3" fill="#ff0000"/>
<rect x="346" y="359" width="1" height="29" fill="#000"/>
<rect x="344" y="359" width="5" height="1" fill="#000"/>
<rect x="344" y="387" width="5" height="1" fill="#000"/>
<rect x="345" y="363" width="3" height="20" fill="#e60000"/>
<rect x="346" y="364" width="1" height="18" fill="#ff0000"/>
<rect x="357" y="358" width="1" height="27" fill="#000"/>
<rect x="355" y="358" width="5" height="1" fill="#000"/>
<rect x="355" y="384" width="5" height="1" fill="#000"/>
<rect x="356" y="358" width="3" height="23" fill="#00e600"/>
<rect x="357" y="359" width="1" height="21" fill="#00ff00"/>
<rect x="367" y="339" width="1" height="22" fill="#000"/>
<rect x="365" y="339" width="5" height="1" fill="#000"/>
<rect x="365" y="360" width="5" height="1" fill="#000"/>
<rect x="366" y="341" width="3" height="13" fill="#00e600"/>
<rect x="367" y="342" width="1" height="11" fill="#00ff00"/>
<rect x="378" y="332" width="1" height="14" fill="#000"/>
<rect x="376" y="332" width="5" height="1" fill="#000"/>
<rect x="376" y="345" width="5" height="1" fill="#000"/>
<rect x="377" y="332" width="3" height="3" fill="#00e600"/>
<rect x="378" y="333" width="1" height="1" fill="#00ff00"/>
<rect x="389" y="304" width="1" height="19" fill="#000"/>
<rect x="387" y="304" width="5" height="1" fill="#000"/>
<rect x="387" y="322" width="5" height="1" fill="#000"/>
<rect x="388" y="304" width="3" height="19" fill="#00e600"/>
<rect x="389" y="305" width="1" height="17" fill="#00ff00"/>
<rect x="400" y="304" width="1" height="17" fill="#000"/>
<rect x="398" y="304" width="5" height="1" fill="#000"/>
<rect x="398" y="320" width="5" height="1" fill="#000"/>
<rect x="399" y="313" width="3" height="3" fill="#00e600"/>
<rect x="400" y="314" width="1" height="1" fill="#00ff00"/>
<rect x="411" y="305" width="1" height="17" fill="#000"/>
<rect x="409" y="305" width="5" height="1" fill="#000"/>
<rect x="409" y="321" width="5" height="1" fill="#000"/>
<rect x="410" y="305" width="3" height="12" fill="#00e600"/>
<rect x="411" y="306" width="1" height="10" fill="#00ff00"/>
<rect x="422" y="306" width="1" height="17" fill="#000"/>
<rect x="420" y="306" width="5" height="1" fill="#000"/>
<rect x="420" y="322" width="5" height="1" fill="#000"/>
<rect x="421" y="311" width="3" height="5" fill="#e60000"/>
<rect x="422" y="312" width="1" height="3" fill="#ff0000"/>
<rect x="433" y="306" width="1" height="27" fill="#000"/>
<rect x="431" y="306" width="5" height="1" fill="#000"/>
<rect x="431" y="332" width="5" height="1" fill="#000"/>
<rect x="432" y="314" width="3" height="19" fill="#e60000"/>
<rect x="433" y="315" width="1" height="17" fill="#ff0000"/>
<rect x="444" y="302" width="1" height="26" fill="#000"/>
<rect x="442" y="302" width="5" height="1" fill="#000"/>
<rect x="442" y="327" width="5" height="1" fill="#000"/>
<rect x="443" y="302" width="3" height="24" fill="#00e600"/>
<rect x="444" y="303" width="1" height="22" fill="#00ff00"/>
<rect x="455" y="301" width="1" height="15" fill="#000"/>
<rect x="453" y="301" width="5" height="1" fill="#000"/>
<rect x="453" y="315" width="5" height="1" fill="#000"/>
<rect x="454" y="301" width="3" height="4" fill="#00e600"/>
<rect x="455" y="302" width="1" height="2" fill="#00ff00"/>
<rect x="466" y="298" width="1" height="16" fill="#000"/>
<rect x="464" y="298" width="5" height="1" fill="#000"/>
<rect x="464" y="313" width="5" height="1" fill="#000"/>
<rect x="465" y="298" width="3" height="14" fill="#00e600"/>
<rect x="466" y="299" width="1" height="12" fill="#00ff00"/>
<rect x="477" y="299" width="1" height="12" fill="#000"/>
<rect x="475" y="299" width="5" height="1" fill="#000"/>
<rect x="475" y="310" width="5" height="1" fill="#000"/>
<rect x="476" y="302" width="3" height="4" fill="#e60000"/>
<rect x="477" y="303" width="1" height="2" fill="#ff0000"/>
<rect x="488" y="295" width="1" height="15" fill="#000"/>
<rect x="486" y="295" width="5" height="1" fill="#000"/>
<rect x="486" y="309" width="5" height="1" fill="#000"/>
<rect x="487" y="295" width="3" height="7" fill="#00e600"/>
<rect x="488" y="296" width="1" height="5" fill="#00ff00"/>
<rect x="499" y="297" width="1" height="22" fill="#000"/>
<rect x="497" y="297" width="5" height="1" fill="#000"/>
<rect x="497" y="318" width="5" height="1" fill="#000"/>
<rect x="498" y="297" width="3" height="3" fill="#00e600"/>
<rect x="499" y="298" width="1" height="1" fill="#00ff00"/>
<rect x="510" y="291" width="1" height="21" fill="#000"/>
<rect x="508" y="291" width="5" height="1" fill="#000"/>
<rect x="508" y="311" width="5" height="1" fill="#000"/>
<rect x="509" y="295" width="3" height="10" fill="#e60000"/>
<rect x="510" y="296" width="1" height="8" fill="#ff0000"/>
<rect x="521" y="326" width="1" height="16" fill="#000"/>
<rect x="519" y="326" width="5" height="1" fill="#000"/>
<rect x="519" y="341" width="5" height="1" fill="#000"/>
<rect x="520" y="326" width="3" height="3" fill="#00e600"/>
<rect x="521" y="327" width="1" height="1" fill="#00ff00"/>
<rect x="532" y="288" width="1" height="31" fill="#000"/>
<rect x="530" y="288" width="5" height="1" fill="#000"/>
<rect x="530" y="318" width="5" height="1" fill="#000"/>
<rect x="531" y="292" width="3" height="14" fill="#00e600"/>
<rect x="532" y="293" width="1" height="12" fill="#00ff00"/>
<rect x="542" y="288" width="1" height="35" fill="#000"/>
<rect x="540" y="288" width="5" height="1" fill="#000"/>
<rect x="540" y="322" width="5" height="1" fill="#000"/>
<rect x="541" y="295" width="3" height="25" fill="#e60000"/>
<rect x="542" y="296" width="1" height="23" fill="#ff0000"/>
<rect x="553" y="299" width="1" height="29" fill="#000"/>
<rect x="551" y="299" width="5" height="1" fill="#000"/>
<rect x="551" y="327" width="5" height="1" fill="#000"/>
<rect x="552" y="304" width="3" height="13" fill="#00e600"/>
<rect x="553" y="305" width="1" height="11" fill="#00ff00"/>
<rect x="564" y="300" width="1" height="20" fill="#000"/>
<rect x="562" y="300" width="5" height="1" fill="#000"/>
<rect x="562" y="319" width="5" height="1" fill="#000"/>
<rect x="563" y="307" width="3" height="13" fill="#00e600"/>
<rect x="564" y="308" width="1" height="11" fill="#00ff00"/>
<rect x="575" y="290" width="1" height="29" fill="#000"/>
<rect x="573" y="290" width="5" height="1" fill="#000"/>
<rect x="573" y="318" width="5" height="1" fill="#000"/>
<rect x="574" y="290" width="3" height="22" fill="#00e600"/>
<rect x="575" y="291" width="1" height="20" fill="#00ff00"/>
<rect x="586" y="295" width="1" height="17" fill="#000"/>
<rect x="584" y="295" width="5" height="1" fill="#000"/>
<rect x="584" y="311" width="5" height="1" fill="#000"/>
<rect x="585" y="298" width="3" height="12" fill="#e60000"/>
<rect x="586" y="299" width="1" height="10" fill="#ff0000"/>
<rect x="597" y="313" width="1" height="17" fill="#000"/>
<rect x="595" y="313" width="5" height="1" fill="#000"/>
<rect x="595" y="329" width="5" height="1" fill="#000"/>
<rect x="596" y="315" width="3" height="10" fill="#e60000"/>
<rect x="597" y="316" width="1" height="8" fill="#ff0000"/>
<rect x="608" y="336" width="1" height="46" fill="#000"/>
<rect x="606" y="336" width="5" height="1" fill="#000"/>
<rect x="606" y="381" width="5" height="1" fill="#000"/>
<rect x="607" y="341" width="3" height="10" fill="#00e600"/>
<rect x="608" y="342" width="1" height="8" fill="#00ff00"/>
<rect x="619" y="334" width="1" height="30" fill="#000"/>
<rect x="617" y="334" width="5" height="1" fill="#000"/>
<rect x="617" y="363" width="5" height="1" fill="#000"/>
<rect x="618" y="342" width="3" height="20" fill="#e60000"/>
<rect x="619" y="343" width="1" height="18" fill="#ff0000"/>
<rect x="630" y="350" width="1" height="19" fill="#000"/>
<rect x="628" y="350" width="5" height="1" fill="#000"/>
<rect x="628" y="368" width="5" height="1" fill="#000"/>
<rect x="629" y="359" width="3" height="6" fill="#00e600"/>
<rect x="630" y="360" width="1" height="4" fill="#00ff00"/>
<rect x="641" y="368" width="1" height="23" fill="#000"/>
<rect x="639" y="368" width="5" height="1" fill="#000"/>
<rect x="639" y="390" width="5" height="1" fill="#000"/>
<rect x="640" y="374" width="3" height="17" fill="#e60000"/>
<rect x="641" y="375" width="1" height="15" fill="#ff0000"/>
<rect x="652" y="359" width="1" height="31" fill="#000"/>
<rect x="650" y="359" width="5" height="1" fill="#000"/>
<rect x="650" y="389" width="5" height="1" fill="#000"/>
<rect x="651" y="375" width="3" height="10" fill="#00e600"/>
<rect x="652" y="376" width="1" height="8" fill="#00ff00"/>
<rect x="663" y="369" width="1" height="36" fill="#000"/>
<rect x="661" y="369" width="5" height="1" fill="#000"/>
<rect x="661" y="404" width="5" height="1" fill="#000"/>
<rect x="662" y="373" width="3" height="20" fill="#e60000"/>
<rect x="663" y="374" width="1" height="18" fill="#ff0000"/>
<rect x="674" y="340" width="1" height="43" fill="#000"/>
<rect x="672" y="340" width="5" height="1" fill="#000"/>
<rect x="672" y="382" width="5" height="1" fill="#000"/>
<rect x="673" y="352" width="3" height="29" fill="#00e600"/>
<rect x="674" y="353" width="1" height="27" fill="#00ff00"/>
<rect x="685" y="324" width="1" height="38" fill="#000"/>
<rect x="683" y="324" width="5" height="1" fill="#000"/>
<rect x="683" y="361" width="5" height="1" fill="#000"/>
<rect x="684" y="324" width="3" height="23" fill="#00e600"/>
<rect x="685" y="325" width="1" height="21" fill="#00ff00"/>
<rect x="696" y="307" width="1" height="27" fill="#000"/>
<rect x="694" y="307" width="5" height="1" fill="#000"/>
<rect x="694" y="333" width="5" height="1" fill="#000"/>
<rect x="695" y="307" width="3" height="19" fill="#00e600"/>
<rect x="696" y="308" width="1" height="17" fill="#00ff00"/>
<rect x="707" y="293" width="1" height="21" fill="#000"/>
<rect x="705" y="293" width="5" height="1" fill="#000"/>
<rect x="705" y="313" width="5" height="1" fill="#000"/>
<rect x="706" y="302" width="3" height="5" fill="#00e600"/>
<rect x="707" y="303" width="1" height="3" fill="#00ff00"/>
<rect x="717" y="301" width="1" height="29" fill="#000"/>
<rect x="715" y="301" width="5" height="1" fill="#000"/>
<rect x="715" y="329" width="5" height="1" fill="#000"/>
<rect x="716" y="310" width="3" height="5" fill="#e60000"/>
<rect x="717" y="311" width="1" height="3" fill="#ff0000"/>
<rect x="728" y="294" width="1" height="20" fill="#000"/>
<rect x="726" y="294" width="5" height="1" fill="#000"/>
<rect x="726" y="313" width="5" height="1" fill="#000"/>
<rect x="727" y="302" width="3" height="3" fill="#00e600"/>
<rect x="728" y="303" width="1" height="1" fill="#00ff00"/>
<rect x="739" y="302" width="1" height="24" fill="#000"/>
<rect x="737" y="302" width="5" height="1" fill="#000"/>
<rect x="737" y="325" width="5" height="1" fill="#000"/>
<rect x="738" y="302" width="3" height="7" fill="#00e600"/>
<rect x="739" y="303" width="1" height="5" fill="#00ff00"/>
<rect x="750" y="318" width="1" height="25" fill="#000"/>
<rect x="748" y="318" width="5" height="1" fill="#000"/>
<rect x="748" y="342" width="5" height="1" fill="#000"/>
<rect x="749" y="322" width="3" height="3" fill="#00e600"/>
<rect x="750" y="323" width="1" height="1" fill="#00ff00"/>
<rect x="761" y="287" width="1" height="36" fill="#000"/>
<rect x="759" y="287" width="5" height="1" fill="#000"/>
<rect x="759" y="322" width="5" height="1" fill="#000"/>
<rect x="760" y="289" width="3" height="34" fill="#00e600"/>
<rect x="761" y="290" width="1" height="32" fill="#00ff00"/>
<rect x="772" y="281" width="1" height="16" fill="#000"/>
<rect x="770" y="281" width="5" height="1" fill="#000"/>
<rect x="770" y="296" width="5" height="1" fill="#000"/>
<rect x="771" y="281" width="3" height="11" fill="#00e600"/>
<rect x="772" y="282" width="1" height="9" fill="#00ff00"/>
<rect x="783" y="282" width="1" height="24" fill="#000"/>
<rect x="781" y="282" width="5" height="1" fill="#000"/>
<rect x="781" y="305" width="5" height="1" fill="#000"/>
<rect x="782" y="283" width="3" height="17" fill="#e60000"/>
<rect x="783" y="284" width="1" height="15" fill="#ff0000"/>
<rect x="794" y="314" width="1" height="21" fill="#000"/>
<rect x="792" y="314" width="5" height="1" fill="#000"/>
<rect x="792" y="334" width="5" height="1" fill="#000"/>
<rect x="793" y="318" width="3" height="13" fill="#e60000"/>
<rect x="794" y="319" width="1" height="11" fill="#ff0000"/>
<rect x="805" y="314" width="1" height="14" fill="#000"/>
<rect x="803" y="314" width="5" height="1" fill="#000"/>
<rect x="803" y="327" width="5" height="1" fill="#000"/>
<rect x="804" y="314" width="3" height="9" fill="#00e600"/>
<rect x="805" y="315" width="1" height="7" fill="#00ff00"/>
<rect x="816" y="322" width="1" height="22" fill="#000"/>
<rect x="814" y="322" width="5" height="1" fill="#000"/>
<rect x="814" y="343" width="5" height="1" fill="#000"/>
<rect x="815" y="322" width="3" height="9" fill="#00e600"/>
<rect x="816" y="323" width="1" height="7" fill="#00ff00"/>
<rect x="827" y="313" width="1" height="32" fill="#000"/>
<rect x="825" y="313" width="5" height="1" fill="#000"/>
<rect x="825" y="344" width="5" height="1" fill="#000"/>
<rect x="826" y="313" width="3" height="22" fill="#00e600"/>
<rect x="827" y="314" width="1" height="20" fill="#00ff00"/>
<rect x="838" y="301" width="1" height="32" fill="#000"/>
<rect x="836" y="301" width="5" height="1" fill="#000"/>
<rect x="836" y="332" width="5" height="1" fill="#000"/>
<rect x="837" y="305" width="3" height="27" fill="#00e600"/>
<rect x="838" y="306" width="1" height="25" fill="#00ff00"/>
<rect x="849" y="293" width="1" height="22" fill="#000"/>
<rect x="847" y="293" width="5" height="1" fill="#000"/>
<rect x="847" y="314" width="5" height="1" fill="#000"/>
<rect x="848" y="300" width="3" height="6" fill="#e60000"/>
<rect x="849" y="301" width="1" height="4" fill="#ff0000"/>
<rect x="860" y="285" width="1" height="30" fill="#000"/>
<rect x="858" y="285" width="5" height="1" fill="#000"/>
<rect x="858" y="314" width="5" height="1" fill="#000"/>
<rect x="859" y="303" width="3" height="8" fill="#e60000"/>
<rect x="860" y="304" width="1" height="6" fill="#ff0000"/>
<rect x="871" y="279" width="1" height="31" fill="#000"/>
<rect x="869" y="279" width="5" height="1" fill="#000"/>
<rect x="869" y="309" width="5" height="1" fill="#000"/>
<rect x="870" y="284" width="3" height="26" fill="#00e600"/>
<rect x="871" y="285" width="1" height="24" fill="#00ff00"/>
<rect x="882" y="274" width="1" height="14" fill="#000"/>
<rect x="880" y="274" width="5" height="1" fill="#000"/>
<rect x="880" y="287" width="5" height="1" fill="#000"/>
<rect x="881" y="280" width="3" height="7" fill="#00e600"/>
<rect x="882" y="281" width="1" height="5" fill="#00ff00"/>
<rect x="892" y="273" width="1" height="14" fill="#000"/>
<rect x="890" y="273" width="5" height="1" fill="#000"/>
<rect x="890" y="286" width="5" height="1" fill="#000"/>
<rect x="891" y="276" width="3" height="11" fill="#00e600"/>
<rect x="892" y="277" width="1" height="9" fill="#00ff00"/>
<rect x="903" y="278" width="1" height="14" fill="#000"/>
<rect x="901" y="278" width="5" height="1" fill="#000"/>
<rect x="901" y="291" width="5" height="1" fill="#000"/>
<rect x="902" y="288" width="3" height="3" fill="#00e600"/>
<rect x="903" y="289" width="1" height="1" fill="#00ff00"/>
<rect x="914" y="289" width="1" height="16" fill="#000"/>
<rect x="912" y="289" width="5" height="1" fill="#000"/>
<rect x="912" y="304" width="5" height="1" fill="#000"/>
<rect x="913" y="291" width="3" height="9" fill="#e60000"/>
<rect x="914" y="292" width="1" height="7" fill="#ff0000"/>
<rect x="925" y="296" width="1" height="16" fill="#000"/>
<rect x="923" y="296" width="5" height="1" fill="#000"/>
<rect x="923" y="311" width="5" height="1" fill="#000"/>
<rect x="924" y="298" width="3" height="6" fill="#00e600"/>
<rect x="925" y="299" width="1" height="4" fill="#00ff00"/>
<rect x="936" y="291" width="1" height="15" fill="#000"/>
<rect x="934" y="291" width="5" height="1" fill="#000"/>
<rect x="934" y="305" width="5" height="1" fill="#000"/>
<rect x="935" y="292" width="3" height="10" fill="#00e600"/>
<rect x="936" y="293" width="1" height="8" fill="#00ff00"/>
<rect x="947" y="256" width="1" height="51" fill="#000"/>
<rect x="945" y="256" width="5" height="1" fill="#000"/>
<rect x="945" y="306" width="5" height="1" fill="#000"/>
<rect x="946" y="257" width="3" height="50" fill="#00e600"/>
<rect x="947" y="258" width="1" height="48" fill="#00ff00"/>
<rect x="958" y="236" width="1" height="35" fill="#000"/>
<rect x="956" y="236" width="5" height="1" fill="#000"/>
<rect x="956" y="270" width="5" height="1" fill="#000"/>
<rect x="957" y="236" width="3" height="25" fill="#00e600"/>
<rect x="958" y="237" width="1" height="23" fill="#00ff00"/>
<rect x="969" y="224" width="1" height="16" fill="#000"/>
<rect x="967" y="224" width="5" height="1" fill="#000"/>
<rect x="967" y="239" width="5" height="1" fill="#000"/>
<rect x="968" y="236" width="3" height="2" fill="#e60000"/>
<rect x="980" y="235" width="1" height="35" fill="#000"/>
<rect x="978" y="235" width="5" height="1" fill="#000"/>
<rect x="978" y="269" width="5" height="1" fill="#000"/>
<rect x="979" y="235" width="3" height="35" fill="#e60000"/>
<rect x="980" y="236" width="1" height="33" fill="#ff0000"/>
<rect x="991" y="256" width="1" height="16" fill="#000"/>
<rect x="989" y="256" width="5" height="1" fill="#000"/>
<rect x="989" y="271" width="5" height="1" fill="#000"/>
<rect x="990" y="256" width="3" height="11" fill="#00e600"/>
<rect x="991" y="257" width="1" height="9" fill="#00ff00"/>
<rect x="1002" y="248" width="1" height="22" fill="#000"/>
<rect x="1000" y="248" width="5" height="1" fill="#000"/>
<rect x="1000" y="269" width="5" height="1" fill="#000"/>
<rect x="1001" y="248" width="3" height="22" fill="#00e600"/>
<rect x="1002" y="249" width="1" height="20" fill="#00ff00"/>
<rect x="1013" y="256" width="1" height="28" fill="#000"/>
<rect x="1011" y="256" width="5" height="1" fill="#000"/>
<rect x="1011" y="283" width="5" height="1" fill="#000"/>
<rect x="1012" y="256" width="3" height="28" fill="#e60000"/>
<rect x="1013" y="257" width="1" height="26" fill="#ff0000"/>
<rect x="1024" y="285" width="1" height="31" fill="#000"/>
<rect x="1022" y="285" width="5" height="1" fill="#000"/>
<rect x="1022" y="315" width="5" height="1" fill="#000"/>
<rect x="1023" y="285" width="3" height="12" fill="#e60000"/>
<rect x="1024" y="286" width="1" height="10" fill="#ff0000"/>
<rect x="1035" y="283" width="1" height="27" fill="#000"/>
<rect x="1033" y="283" width="5" height="1" fill="#000"/>
<rect x="1033" y="309" width="5" height="1" fill="#000"/>
<rect x="1034" y="290" width="3" height="13" fill="#00e600"/>
<rect x="1035" y="291" width="1" height="11" fill="#00ff00"/>
<rect x="1046" y="274" width="1" height="12" fill="#000"/>
<rect x="1044" y="274" width="5" height="1" fill="#000"/>
<rect x="1044" y="285" width="5" height="1" fill="#000"/>
<rect x="1045" y="280" width="3" height="3" fill="#e60000"/>
<rect x="1046" y="281" width="1" height="1" fill="#ff0000"/>
<rect x="1057" y="278" width="1" height="11" fill="#000"/>
<rect x="1055" y="278" width="5" height="1" fill="#000"/>
<rect x="1055" y="288" width="5" height="1" fill="#000"/>
<rect x="1056" y="280" width="3" height="4" fill="#00e600"/>
<rect x="1057" y="281" width="1" height="2" fill="#00ff00"/>
<rect x="1067" y="236" width="1" height="45" fill="#000"/>
<rect x="1065" y="236" width="5" height="1" fill="#000"/>
<rect x="1065" y="280" width="5" height="1" fill="#000"/>
<rect x="1066" y="242" width="3" height="39" fill="#00e600"/>
<rect x="1067" y="243" width="1" height="37" fill="#00ff00"/>
<rect x="1078" y="240" width="1" height="18" fill="#000"/>
<rect x="1076" y="240" width="5" height="1" fill="#000"/>
<rect x="1076" y="257" width="5" height="1" fill="#000"/>
<rect x="1077" y="248" width="3" height="3" fill="#e60000"/>
<rect x="1078" y="249" width="1" height="1" fill="#ff0000"/>
<rect x="1089" y="246" width="1" height="27" fill="#000"/>
<rect x="1087" y="246" width="5" height="1" fill="#000"/>
<rect x="1087" y="272" width="5" height="1" fill="#000"/>
<rect x="1088" y="252" width="3" height="14" fill="#e60000"/>
<rect x="1089" y="253" width="1" height="12" fill="#ff0000"/>
<rect x="1100" y="262" width="1" height="19" fill="#000"/>
<rect x="1098" y="262" width="5" height="1" fill="#000"/>
<rect x="1098" y="280" width="5" height="1" fill="#000"/>
<rect x="1099" y="273" width="3" height="3" fill="#00e600"/>
<rect x="1100" y="274" width="1" height="1" fill="#00ff00"/>
<rect x="1111" y="273" width="1" height="12" fill="#000"/>
<rect x="1109" y="273" width="5" height="1" fill="#000"/>
<rect x="1109" y="284" width="5" height="1" fill="#000"/>
<rect x="1110" y="273" width="3" height="7" fill="#00e600"/>
<rect x="1111" y="274" width="1" height="5" fill="#00ff00"/>
<rect x="1122" y="267" width="1" height="18" fill="#000"/>
<rect x="1120" y="267" width="5" height="1" fill="#000"/>
<rect x="1120" y="284" width="5" height="1" fill="#000"/>
<rect x="1121" y="277" width="3" height="8" fill="#e60000"/>
<rect x="1122" y="278" width="1" height="6" fill="#ff0000"/>
<rect x="1133" y="274" width="1" height="24" fill="#000"/>
<rect x="1131" y="274" width="5" height="1" fill="#000"/>
<rect x="1131" y="297" width="5" height="1" fill="#000"/>
<rect x="1132" y="274" width="3" height="24" fill="#e60000"/>
<rect x="1133" y="275" width="1" height="22" fill="#ff0000"/>
<rect x="1144" y="270" width="1" height="30" fill="#000"/>
<rect x="1142" y="270" width="5" height="1" fill="#000"/>
<rect x="1142" y="299" width="5" height="1" fill="#000"/>
<rect x="1143" y="270" width="3" height="22" fill="#00e600"/>
<rect x="1144" y="271" width="1" height="20" fill="#00ff00"/>
<rect x="100" y="58" width="1" height="543" fill="#000"/>
<path d="M100 53h1v1h1v2h1v2h1v2h-7v-2h1v-2h1v-2h1z" fill="#000"/>
<rect x="100" y="600" width="1062" height="1" fill="#000"/>
<path d="M1155 597h2v1h2v1h2v1h1v1h-1v1h-2v1h-2v1h-2z" fill="#000"/>
<rect x="98" y="600" width="5" height="1" fill="#000"/>
<text x="96" y="604" font-size="11" text-anchor="end" fill="#000">75.00</text>
<rect x="98" y="589" width="2" height="1" fill="#f00"/>
<rect x="98" y="579" width="5" height="1" fill="#000"/>
<text x="96" y="583" font-size="11" text-anchor="end" fill="#000">76.00</text>
<rect x="98" y="569" width="2" height="1" fill="#f00"/>
<rect x="98" y="558" width="5" height="1" fill="#000"/>
<text x="96" y="562" font-size="11" text-anchor="end" fill="#000">77.00</text>
<rect x="98" y="548" width="2" height="1" fill="#f00"/>
<rect x="98" y="538" width="5" height="1" fill="#000"/>
<text x="96" y="542" font-size="11" text-anchor="end" fill="#000">78.00</text>
<rect x="98" y="527" width="2" height="1" fill="#f00"/>
<rect x="98" y="517" width="5" height="1" fill="#000"/>
<text x="96" y="521" font-size="11" text-anchor="end" fill="#000">79.00</text>
<rect x="98" y="507" width="2" height="1" fill="#f00"/>
<rect x="98" y="497" width="5" height="1" fill="#000"/>
<text x="96" y="501" font-size="11" text-anchor="end" fill="#000">80.00</text>
<rect x="98" y="486" width="2" height="1" fill="#f00"/>
<rect x="98" y="476" width="5" height="1" fill="#000"/>
<text x="96" y="480" font-size="11" text-anchor="end" fill="#000">81.00</text>
<rect x="98" y="466" width="2" height="1" fill="#f00"/>
<rect x="98" y="455" width="5" height="1" fill="#000"/>
<text x="96" y="459" font-size="11" text-anchor="end" fill="#000">82.00</text>
<rect x="98" y="445" width="2" height="1" fill="#f00"/>
<rect x="98" y="435" width="5" height="1" fill="#000"/>
<text x="96" y="439" font-size="11" text-anchor="end" fill="#000">83.00</text>
<rect x="98" y="425" width="2" height="1" fill="#f00"/>
<rect x="98" y="414" width="5" height="1" fill="#000"/>
<text x="96" y="418" font-size="11" text-anchor="end" fill="#000">84.00</text>
<rect x="98" y="404" width="2" height="1" fill="#f00"/>
<rect x="98" y="394" width="5" height="1" fill="#000"/>
<text x="96" y="398" font-size="11" text-anchor="end" fill="#000">85.00</text>
<rect x="98" y="383" width="2" height="1" fill="#f00"/>
<rect x="98" y="373" width="5" height="1" fill="#000"/>
<text x="96" y="377" font-size="11" text-anchor="end" fill="#000">86.00</text>
<rect x="98" y="363" width="2" height="1" fill="#f00"/>
<rect x="98" y="353" width="5" height="1" fill="#000"/>
<text x="96" y="357" font-size="11" text-anchor="end" fill="#000">87.00</text>
<rect x="98" y="342" width="2" height="1" fill="#f00"/>
<rect x="98" y="332" width="5" height="1" fill="#000"/>
<text x="96" y="336" font-size="11" text-anchor="end" fill="#000">88.00</text>
<rect x="98" y="322" width="2" height="1" fill="#f00"/>
<rect x="98" y="311" width="5" height="1" fill="#000"/>
<text x="96" y="315" font-size="11" text-anchor="end" fill="#000">89.00</text>
<rect x="98" y="301" width="2" height="1" fill="#f00"/>
<rect x="98" y="291" width="5" height="1" fill="#000"/>
<text x="96" y="295" font-size="11" text-anchor="end" fill="#000">90.00</text>
<rect x="98" y="281" width="2" height="1" fill="#f00"/>
<rect x="98" y="270" width="5" height="1" fill="#000"/>
<text x="96" y="274" font-size="11" text-anchor="end" fill="#000">91.00</text>
<rect x="98" y="260" width="2" height="1" fill="#f00"/>
<rect x="98" y="250" width="5" height="1" fill="#000"/>
<text x="96" y="254" font-size="11" text-anchor="end" fill="#000">92.00</text>
<rect x="98" y="239" width="2" height="1" fill="#f00"/>
<rect x="98" y="229" width="5" height="1" fill="#000"/>
<text x="96" y="233" font-size="11" text-anchor="end" fill="#000">93.00</text>
<rect x="98" y="219" width="2" height="1" fill="#f00"/>
<rect x="98" y="209" width="5" height="1" fill="#000"/>
<text x="96" y="213" font-size="11" text-anchor="end" fill="#000">94.00</text>
<rect x="98" y="198" width="2" height="1" fill="#f00"/>
<rect x="98" y="188" width="5" height="1" fill="#000"/>
<text x="96" y="192" font-size="11" text-anchor="end" fill="#000">95.00</text>
<rect x="98" y="178" width="2" height="1" fill="#f00"/>
<rect x="98" y="167" width="5" height="1" fill="#000"/>
<text x="96" y="171" font-size="11" text-anchor="end" fill="#000">96.00</text>
<rect x="98" y="157" width="2" height="1" fill="#f00"/>
<rect x="98" y="147" width="5" height="1" fill="#000"/>
<text x="96" y="151" font-size="11" text-anchor="end" fill="#000">97.00</text>
<rect x="98" y="137" width="2" height="1" fill="#f00"/>
<rect x="98" y="126" width="5" height="1" fill="#000"/>
<text x="96" y="130" font-size="11" text-anchor="end" fill="#000">98.00</text>
<rect x="98" y="116" width="2" height="1" fill="#f00"/>
<rect x="98" y="106" width="5" height="1" fill="#000"/>
<text x="96" y="110" font-size="11" text-anchor="end" fill="#000">99.00</text>
<rect x="98" y="95" width="2" height="1" fill="#f00"/>
<rect x="98" y="85" width="5" height="1" fill="#000"/>
<text x="96" y="89" font-size="11" text-anchor="end" fill="#000">100.00</text>
<rect x="98" y="75" width="2" height="1" fill="#f00"/>
<rect x="98" y="65" width="5" height="1" fill="#000"/>
<text x="96" y="69" font-size="11" text-anchor="end" fill="#000">101.00</text>
<rect x="105" y="598" width="1" height="5" fill="#000"/>
<text x="104.3" y="613.5" font-size="11" text-anchor="middle" fill="#000">26 Fév</text>
<rect x="116" y="601" width="1" height="2" fill="#c8c8c8"/>
<rect x="127" y="601" width="1" height="2" fill="#c8c8c8"/>
<rect x="138" y="601" width="1" height="2" fill="#c8c8c8"/>
<rect x="149" y="601" width="1" height="2" fill="#c8c8c8"/>
<rect x="160" y="598" width="1" height="5" fill="#000"/>
<text x="159.3" y="613.5" font-size="11" text-anchor="middle" fill="#000">5 Mars</text>
<rect x="171" y="601" width="1" height="2" fill="#c8c8c8"/>
<rect x="182" y="601" width="1" height="2" fill="#c8c8c8"/>
<rect x="192" y="601" width="1" height="2" fill="#c8c8c8"/>
<rect x="203" y="601" width="1" height="2" fill="#c8c8c8"/>
<rect x="214" y="598" width="1" height="5" fill="#000"/>
<text x="213.3" y="613.5" font-size="11" text-anchor="middle" fill="#000">12 Mars</text>
<rect x="225" y="601" width="1" height="2" fill="#c8c8c8"/>
<rect x="236" y="601" width="1" height="2" fill="#c8c8c8"/>
<rect x="247" y="601" width="1" height="2" fill="#c8c8c8"/>
<rect x="258" y="601" width="1" height="2" fill="#c8c8c8"/>
<rect x="269" y="598" width="1" height="5" fill="#000"/>
<text x="268.3" y="613.5" font-size="11" text-anchor="middle" fill="#000">19 Mars</text>
<rect x="280" y="601" width="1" height="2" fill="#c8c8c8"/>
<rect x="291" y="601" width="1" height="2" fill="#c8c8c8"/>
<rect x="302" y="601" width="1" height="2" fill="#c8c8c8"/>
<rect x="313" y="601" width="1" height="2" fill="#c8c8c8"/>
<rect x="324" y="598" width="1" height="5" fill="#000"/>
<text x="323.3" y="613.5" font-size="11" text-anchor="middle" fill="#000">26 Mars</text>
<rect x="335" y="601" width="1" height="2" fill="#c8c8c8"/>
<rect x="346" y="601" width="1" height="2" fill="#c8c8c8"/>
<rect x="357" y="601" width="1" height="2" fill="#c8c8c8"/>
<rect x="367" y="601" width="1" height="2" fill="#c8c8c8"/>
<rect x="378" y="598" width="1" height="5" fill="#000"/>
<text x="377.3" y="613.5" font-size="11" text-anchor="middle" fill="#000">2 Avr</text>
<rect x="389" y="601" width="1" height="2" fill="#c8c8c8"/>
<rect x="400" y="601" width="1" height="2" fill="#c8c8c8"/>
<rect x="411" y="601" width="1" height="2" fill="#c8c8c8"/>
<rect x="422" y="601" width="1" height="2" fill="#c8c8c8"/>
<rect x="433" y="598" width="1" height="5" fill="#000"/>
<text x="432.3" y="613.5" font-size="11" text-anchor="middle" fill="#000">9 Avr</text>
<rect x="444" y="601" width="1" height="2" fill="#c8c8c8"/>
<rect x="455" y="601" width="1" height="2" fill="#c8c8c8"/>
<rect x="466" y="601" width="1" height="2" fill="#c8c8c8"/>
<rect x="477" y="601" width="1" height="2" fill="#c8c8c8"/>
<rect x="488" y="598" width="1" height="5" fill="#000"/>
<text x="487.3" y="613.5" font-size="11" text-anchor="middle" fill="#000">16 Avr</text>
<rect x="499" y="601" width="1" height="2" fill="#c8c8c8"/>
<rect x="510" y="601" width="1" height="2" fill="#c8c8c8"/>
<rect x="521" y="601" width="1" height="2" fill="#c8c8c8"/>
<rect x="532" y="601" width="1" height="2" fill="#c8c8c8"/>
<rect x="542" y="598" width="1" height="5" fill="#000"/>
<text x="541.3" y="613.5" font-size="11" text-anchor="middle" fill="#000">25 Avr</text>
<rect x="553" y="601" width="1" height="2" fill="#c8c8c8"/>
<rect x="564" y="601" width="1" height="2" fill="#c8c8c8"/>
<rect x="575" y="601" width="1" height="2" fill="#c8c8c8"/>
<rect x="586" y="601" width="1" height="2" fill="#c8c8c8"/>
<rect x="597" y="598" width="1" height="5" fill="#000"/>
<text x="596.3" y="613.5" font-size="11" text-anchor="middle" fill="#000">3 Mai</text>
<rect x="608" y="601" width="1" height="2" fill="#c8c8c8"/>
<rect x="619" y="601" width="1" height="2" fill="#c8c8c8"/>
<rect x="630" y="601" width="1" height="2" fill="#c8c8c8"/>
<rect x="641" y="601" width="1" height="2" fill="#c8c8c8"/>
<rect x="652" y="598" width="1" height="5" fill="#000"/>
<text x="651.3" y="613.5" font-size="11" text-anchor="middle" fill="#000">10 Mai</text>
<rect x="663" y="601" width="1" height="2" fill="#c8c8c8"/>
<rect x="674" y="601" width="1" height="2" fill="#c8c8c8"/>
<rect x="685" y="601" width="1" height="2" fill="#c8c8c8"/>
<rect x="696" y="601" width="1" height="2" fill="#c8c8c8"/>
<rect x="707" y="598" width="1" height="5" fill="#000"/>
<text x="706.3" y="613.5" font-size="11" text-anchor="middle" fill="#000">17 Mai</text>
<rect x="717" y="601" width="1" height="2" fill="#c8c8c8"/>
<rect x="728" y="601" width="1" height="2" fill="#c8c8c8"/>
<rect x="739" y="601" width="1" height="2" fill="#c8c8c8"/>
<rect x="750" y="601" width="1" height="2" fill="#c8c8c8"/>
<rect x="761" y="598" width="1" height="5" fill="#000"/>
<text x="760.3" y="613.5" font-size="11" text-anchor="middle" fill="#000">24 Mai</text>
<rect x="772" y="601" width="1" height="2" fill="#c8c8c8"/>
<rect x="783" y="601" width="1" height="2" fill="#c8c8c8"/>
<rect x="794" y="601" width="1" height="2" fill="#c8c8c8"/>
<rect x="805" y="601" width="1" height="2" fill="#c8c8c8"/>
<rect x="816" y="598" width="1" height="5" fill="#000"/>
<text x="815.3" y="613.5" font-size="11" text-anchor="middle" fill="#000">31 Mai</text>
<rect x="827" y="601" width="1" height="2" fill="#c8c8c8"/>
<rect x="838" y="601" width="1" height="2" fill="#c8c8c8"/>
<rect x="849" y="601" width="1" height="2" fill="#c8c8c8"/>
<rect x="860" y="601" width="1" height="2" fill="#c8c8c8"/>
<rect x="871" y="598" width="1" height="5" fill="#000"/>
<text x="870.3" y="613.5" font-size="11" text-anchor="middle" fill="#000">7 Juin</text>
<rect x="882" y="601" width="1" height="2" fill="#c8c8c8"/>
<rect x="892" y="601" width="1" height="2" fill="#c8c8c8"/>
<rect x="903" y="601" width="1" height="2" fill="#c8c8c8"/>
<rect x="914" y="601" width="1" height="2" fill="#c8c8c8"/>
<rect x="925" y="598" width="1" height="5" fill="#000"/>
<text x="924.3" y="613.5" font-size="11" text-anchor="middle" fill="#000">14 Juin</text>
<rect x="936" y="601" width="1" height="2" fill="#c8c8c8"/>
<rect x="947" y="601" width="1" height="2" fill="#c8c8c8"/>
<rect x="958" y="601" width="1" height="2" fill="#c8c8c8"/>
<rect x="969" y="601" width="1" height="2" fill="#c8c8c8"/>
<rect x="980" y="598" width="1" height="5" fill="#000"/>
<text x="979.3" y="613.5" font-size="11" text-anchor="middle" fill="#000">21 Juin</text>
<rect x="991" y="601" width="1" height="2" fill="#c8c8c8"/>
<rect x="1002" y="601" width="1" height="2" fill="#c8c8c8"/>
<rect x="1013" y="601" width="1" height="2" fill="#c8c8c8"/>
<rect x="1024" y="601" width="1" height="2" fill="#c8c8c8"/>
<rect x="1035" y="598" width="1" height="5" fill="#000"/>
<text x="1034.3" y="613.5" font-size="11" text-anchor="middle" fill="#000">28 Juin</text>
<rect x="1046" y="601" width="1" height="2" fill="#c8c8c8"/>
<rect x="1057" y="601" width="1" height="2" fill="#c8c8c8"/>
<rect x="1067" y="601" width="1" height="2" fill="#c8c8c8"/>
<rect x="1078" y="601" width="1" height="2" fill="#c8c8c8"/>
<rect x="1089" y="598" width="1" height="5" fill="#000"/>
<text x="1088.3" y="613.5" font-size="11" text-anchor="middle" fill="#000">5 Juil</text>
<rect x="1100" y="601" width="1" height="2" fill="#c8c8c8"/>
<rect x="1111" y="601" width="1" height="2" fill="#c8c8c8"/>
<rect x="1122" y="601" width="1" height="2" fill="#c8c8c8"/>
<rect x="1133" y="601" width="1" height="2" fill="#c8c8c8"/>
<rect x="1144" y="598" width="1" height="5" fill="#000"/>
<text x="1143.3" y="613.5" font-size="11" text-anchor="middle" fill="#000">12 Juil</text>
<text x="503.6" y="626.5" font-size="11" fill="#000" textLength="241.8" lengthAdjust="spacingAndGlyphs">Date (du 26 Février 2019 au 12 Juillet 2019)</text>
<text transform="translate(52,332.5) rotate(-90)" font-size="11" text-anchor="middle" fill="#000">Cours (Euro)</text>
<rect x="551" y="51" width="6" height="6" fill="#c4c8c8"/>
<rect x="550" y="50" width="6" height="6" fill="#cd6464"/>
<text x="558.80" y="54.6" font-size="11" fill="#000" textLength="54.19" lengthAdjust="spacingAndGlyphs">Support 1</text>
<rect x="621" y="51" width="6" height="6" fill="#c4c8c8"/>
<rect x="620" y="50" width="6" height="6" fill="#b96469"/>
<text x="628.90" y="54.6" font-size="11" fill="#000" textLength="53.88" lengthAdjust="spacingAndGlyphs">Support 2</text>
<rect x="691" y="51" width="6" height="6" fill="#c4c8c8"/>
<rect x="690" y="50" width="6" height="6" fill="#a0646a"/>
<text x="698.50" y="54.6" font-size="11" fill="#000" textLength="54.19" lengthAdjust="spacingAndGlyphs">Support 3</text>
<rect x="761" y="52" width="6" height="6" fill="#c4c8c8"/>
<rect x="760" y="51" width="6" height="6" fill="#64d264"/>
<text x="768.32" y="56.3" font-size="11" fill="#000" textLength="68.14" lengthAdjust="spacingAndGlyphs">Résistance 1</text>
<rect x="845" y="52" width="6" height="6" fill="#c4c8c8"/>
<rect x="844" y="51" width="6" height="6" fill="#5aaf5a"/>
<text x="852.31" y="56.3" font-size="11" fill="#000" textLength="68.96" lengthAdjust="spacingAndGlyphs">Résistance 2</text>
<rect x="929" y="52" width="6" height="6" fill="#c4c8c8"/>
<rect x="928" y="51" width="6" height="6" fill="#5a8c5a"/>
<text x="936.32" y="56.3" font-size="11" fill="#000" textLength="68.65" lengthAdjust="spacingAndGlyphs">Résistance 3</text>
<rect x="1013" y="51" width="6" height="6" fill="#c4c8c8"/>
<rect x="1012" y="50" width="6" height="6" fill="#5a5af0"/>
<text x="1020.30" y="55.5" font-size="11" fill="#000" textLength="32.88" lengthAdjust="spacingAndGlyphs">MM20</text>
<rect x="1061" y="51" width="6" height="6" fill="#c4c8c8"/>
<rect x="1060" y="50" width="6" height="6" fill="#aa5af0"/>
<text x="1068.30" y="55.5" font-size="11" fill="#000" textLength="32.88" lengthAdjust="spacingAndGlyphs">MM50</text>
<rect x="1109" y="51" width="6" height="6" fill="#c4c8c8"/>
<rect x="1108" y="50" width="6" height="6" fill="#fa5afa"/>
<text x="1116.31" y="55.5" font-size="11" fill="#000" textLength="39.77" lengthAdjust="spacingAndGlyphs">MM100</text>
<text x="111.25" y="694" font-size="24" fill="#000" textLength="67.00" lengthAdjust="spacingAndGlyphs">Vinci:</text>
<text x="186.51" y="694" font-size="24" fill="#000" textLength="121.13" lengthAdjust="spacingAndGlyphs">graphique</text>
<text x="315.48" y="694" font-size="24" fill="#000" textLength="30.99" lengthAdjust="spacingAndGlyphs">du</text>
<text x="355.00" y="694" font-size="24" fill="#000" textLength="87.92" lengthAdjust="spacingAndGlyphs">volume</text>
<text x="453.30" y="694" font-size="24" fill="#000">-</text>
<text x="470.70" y="694" font-size="24" fill="#000" textLength="207.38" lengthAdjust="spacingAndGlyphs">AnalyBourse.com</text>
<rect x="101" y="856" width="1050" height="22" fill="#f8f8f8"/>
<rect x="101" y="812" width="1050" height="22" fill="#f8f8f8"/>
<rect x="101" y="768" width="1050" height="22" fill="#f8f8f8"/>
<rect x="101" y="725" width="1050" height="21" fill="#f8f8f8"/>
<line x1="116.5" y1="725" x2="116.5" y2="900" stroke="#f5f5f5" stroke-width="1" stroke-dasharray="6,6" stroke-dashoffset="1"/>
<line x1="127.5" y1="725" x2="127.5" y2="900" stroke="#f5f5f5" stroke-width="1" stroke-dasharray="6,6" stroke-dashoffset="1"/>
<line x1="138.5" y1="725" x2="138.5" y2="900" stroke="#f5f5f5" stroke-width="1" stroke-dasharray="6,6" stroke-dashoffset="1"/>
<line x1="149.5" y1="725" x2="149.5" y2="900" stroke="#f5f5f5" stroke-width="1" stroke-dasharray="6,6" stroke-dashoffset="1"/>
<line x1="171.5" y1="725" x2="171.5" y2="900" stroke="#f5f5f5" stroke-width="1" stroke-dasharray="6,6" stroke-dashoffset="1"/>
<line x1="182.5" y1="725" x2="182.5" y2="900" stroke="#f5f5f5" stroke-width="1" stroke-dasharray="6,6" stroke-dashoffset="1"/>
<line x1="192.5" y1="725" x2="192.5" y2="900" stroke="#f5f5f5" stroke-width="1" stroke-dasharray="6,6" stroke-dashoffset="1"/>
<line x1="203.5" y1="725" x2="203.5" y2="900" stroke="#f5f5f5" stroke-width="1" stroke-dasharray="6,6" stroke-dashoffset="1"/>
<line x1="225.5" y1="725" x2="225.5" y2="900" stroke="#f5f5f5" stroke-width="1" stroke-dasharray="6,6" stroke-dashoffset="1"/>
<line x1="236.5" y1="725" x2="236.5" y2="900" stroke="#f5f5f5" stroke-width="1" stroke-dasharray="6,6" stroke-dashoffset="1"/>
<line x1="247.5" y1="725" x2="247.5" y2="900" stroke="#f5f5f5" stroke-width="1" stroke-dasharray="6,6" stroke-dashoffset="1"/>
<line x1="258.5" y1="725" x2="258.5" y2="900" stroke="#f5f5f5" stroke-width="1" stroke-dasharray="6,6" stroke-dashoffset="1"/>
<line x1="280.5" y1="725" x2="280.5" y2="900" stroke="#f5f5f5" stroke-width="1" stroke-dasharray="6,6" stroke-dashoffset="1"/>
<line x1="291.5" y1="725" x2="291.5" y2="900" stroke="#f5f5f5" stroke-width="1" stroke-dasharray="6,6" stroke-dashoffset="1"/>
<line x1="302.5" y1="725" x2="302.5" y2="900" stroke="#f5f5f5" stroke-width="1" stroke-dasharray="6,6" stroke-dashoffset="1"/>
<line x1="313.5" y1="725" x2="313.5" y2="900" stroke="#f5f5f5" stroke-width="1" stroke-dasharray="6,6" stroke-dashoffset="1"/>
<line x1="335.5" y1="725" x2="335.5" y2="900" stroke="#f5f5f5" stroke-width="1" stroke-dasharray="6,6" stroke-dashoffset="1"/>
<line x1="346.5" y1="725" x2="346.5" y2="900" stroke="#f5f5f5" stroke-width="1" stroke-dasharray="6,6" stroke-dashoffset="1"/>
<line x1="357.5" y1="725" x2="357.5" y2="900" stroke="#f5f5f5" stroke-width="1" stroke-dasharray="6,6" stroke-dashoffset="1"/>
<line x1="367.5" y1="725" x2="367.5" y2="900" stroke="#f5f5f5" stroke-width="1" stroke-dasharray="6,6" stroke-dashoffset="1"/>
<line x1="389.5" y1="725" x2="389.5" y2="900" stroke="#f5f5f5" stroke-width="1" stroke-dasharray="6,6" stroke-dashoffset="1"/>
<line x1="400.5" y1="725" x2="400.5" y2="900" stroke="#f5f5f5" stroke-width="1" stroke-dasharray="6,6" stroke-dashoffset="1"/>
<line x1="411.5" y1="725" x2="411.5" y2="900" stroke="#f5f5f5" stroke-width="1" stroke-dasharray="6,6" stroke-dashoffset="1"/>
<line x1="422.5" y1="725" x2="422.5" y2="900" stroke="#f5f5f5" stroke-width="1" stroke-dasharray="6,6" stroke-dashoffset="1"/>
<line x1="444.5" y1="725" x2="444.5" y2="900" stroke="#f5f5f5" stroke-width="1" stroke-dasharray="6,6" stroke-dashoffset="1"/>
<line x1="455.5" y1="725" x2="455.5" y2="900" stroke="#f5f5f5" stroke-width="1" stroke-dasharray="6,6" stroke-dashoffset="1"/>
<line x1="466.5" y1="725" x2="466.5" y2="900" stroke="#f5f5f5" stroke-width="1" stroke-dasharray="6,6" stroke-dashoffset="1"/>
<line x1="477.5" y1="725" x2="477.5" y2="900" stroke="#f5f5f5" stroke-width="1" stroke-dasharray="6,6" stroke-dashoffset="1"/>
<line x1="499.5" y1="725" x2="499.5" y2="900" stroke="#f5f5f5" stroke-width="1" stroke-dasharray="6,6" stroke-dashoffset="1"/>
<line x1="510.5" y1="725" x2="510.5" y2="900" stroke="#f5f5f5" stroke-width="1" stroke-dasharray="6,6" stroke-dashoffset="1"/>
<line x1="521.5" y1="725" x2="521.5" y2="900" stroke="#f5f5f5" stroke-width="1" stroke-dasharray="6,6" stroke-dashoffset="1"/>
<line x1="532.5" y1="725" x2="532.5" y2="900" stroke="#f5f5f5" stroke-width="1" stroke-dasharray="6,6" stroke-dashoffset="1"/>
<line x1="553.5" y1="725" x2="553.5" y2="900" stroke="#f5f5f5" stroke-width="1" stroke-dasharray="6,6" stroke-dashoffset="1"/>
<line x1="564.5" y1="725" x2="564.5" y2="900" stroke="#f5f5f5" stroke-width="1" stroke-dasharray="6,6" stroke-dashoffset="1"/>
<line x1="575.5" y1="725" x2="575.5" y2="900" stroke="#f5f5f5" stroke-width="1" stroke-dasharray="6,6" stroke-dashoffset="1"/>
<line x1="586.5" y1="725" x2="586.5" y2="900" stroke="#f5f5f5" stroke-width="1" stroke-dasharray="6,6" stroke-dashoffset="1"/>
<line x1="608.5" y1="725" x2="608.5" y2="900" stroke="#f5f5f5" stroke-width="1" stroke-dasharray="6,6" stroke-dashoffset="1"/>
<line x1="619.5" y1="725" x2="619.5" y2="900" stroke="#f5f5f5" stroke-width="1" stroke-dasharray="6,6" stroke-dashoffset="1"/>
<line x1="630.5" y1="725" x2="630.5" y2="900" stroke="#f5f5f5" stroke-width="1" stroke-dasharray="6,6" stroke-dashoffset="1"/>
<line x1="641.5" y1="725" x2="641.5" y2="900" stroke="#f5f5f5" stroke-width="1" stroke-dasharray="6,6" stroke-dashoffset="1"/>
<line x1="663.5" y1="725" x2="663.5" y2="900" stroke="#f5f5f5" stroke-width="1" stroke-dasharray="6,6" stroke-dashoffset="1"/>
<line x1="674.5" y1="725" x2="674.5" y2="900" stroke="#f5f5f5" stroke-width="1" stroke-dasharray="6,6" stroke-dashoffset="1"/>
<line x1="685.5" y1="725" x2="685.5" y2="900" stroke="#f5f5f5" stroke-width="1" stroke-dasharray="6,6" stroke-dashoffset="1"/>
<line x1="696.5" y1="725" x2="696.5" y2="900" stroke="#f5f5f5" stroke-width="1" stroke-dasharray="6,6" stroke-dashoffset="1"/>
<line x1="717.5" y1="725" x2="717.5" y2="900" stroke="#f5f5f5" stroke-width="1" stroke-dasharray="6,6" stroke-dashoffset="1"/>
<line x1="728.5" y1="725" x2="728.5" y2="900" stroke="#f5f5f5" stroke-width="1" stroke-dasharray="6,6" stroke-dashoffset="1"/>
<line x1="739.5" y1="725" x2="739.5" y2="900" stroke="#f5f5f5" stroke-width="1" stroke-dasharray="6,6" stroke-dashoffset="1"/>
<line x1="750.5" y1="725" x2="750.5" y2="900" stroke="#f5f5f5" stroke-width="1" stroke-dasharray="6,6" stroke-dashoffset="1"/>
<line x1="772.5" y1="725" x2="772.5" y2="900" stroke="#f5f5f5" stroke-width="1" stroke-dasharray="6,6" stroke-dashoffset="1"/>
<line x1="783.5" y1="725" x2="783.5" y2="900" stroke="#f5f5f5" stroke-width="1" stroke-dasharray="6,6" stroke-dashoffset="1"/>
<line x1="794.5" y1="725" x2="794.5" y2="900" stroke="#f5f5f5" stroke-width="1" stroke-dasharray="6,6" stroke-dashoffset="1"/>
<line x1="805.5" y1="725" x2="805.5" y2="900" stroke="#f5f5f5" stroke-width="1" stroke-dasharray="6,6" stroke-dashoffset="1"/>
<line x1="827.5" y1="725" x2="827.5" y2="900" stroke="#f5f5f5" stroke-width="1" stroke-dasharray="6,6" stroke-dashoffset="1"/>
<line x1="838.5" y1="725" x2="838.5" y2="900" stroke="#f5f5f5" stroke-width="1" stroke-dasharray="6,6" stroke-dashoffset="1"/>
<line x1="849.5" y1="725" x2="849.5" y2="900" stroke="#f5f5f5" stroke-width="1" stroke-dasharray="6,6" stroke-dashoffset="1"/>
<line x1="860.5" y1="725" x2="860.5" y2="900" stroke="#f5f5f5" stroke-width="1" stroke-dasharray="6,6" stroke-dashoffset="1"/>
<line x1="882.5" y1="725" x2="882.5" y2="900" stroke="#f5f5f5" stroke-width="1" stroke-dasharray="6,6" stroke-dashoffset="1"/>
<line x1="892.5" y1="725" x2="892.5" y2="900" stroke="#f5f5f5" stroke-width="1" stroke-dasharray="6,6" stroke-dashoffset="1"/>
<line x1="903.5" y1="725" x2="903.5" y2="900" stroke="#f5f5f5" stroke-width="1" stroke-dasharray="6,6" stroke-dashoffset="1"/>
<line x1="914.5" y1="725" x2="914.5" y2="900" stroke="#f5f5f5" stroke-width="1" stroke-dasharray="6,6" stroke-dashoffset="1"/>
<line x1="936.5" y1="725" x2="936.5" y2="900" stroke="#f5f5f5" stroke-width="1" stroke-dasharray="6,6" stroke-dashoffset="1"/>
<line x1="947.5" y1="725" x2="947.5" y2="900" stroke="#f5f5f5" stroke-width="1" stroke-dasharray="6,6" stroke-dashoffset="1"/>
<line x1="958.5" y1="725" x2="958.5" y2="900" stroke="#f5f5f5" stroke-width="1" stroke-dasharray="6,6" stroke-dashoffset="1"/>
<line x1="969.5" y1="725" x2="969.5" y2="900" stroke="#f5f5f5" stroke-width="1" stroke-dasharray="6,6" stroke-dashoffset="1"/>
<line x1="991.5" y1="725" x2="991.5" y2="900" stroke="#f5f5f5" stroke-width="1" stroke-dasharray="6,6" stroke-dashoffset="1"/>
<line x1="1002.5" y1="725" x2="1002.5" y2="900" stroke="#f5f5f5" stroke-width="1" stroke-dasharray="6,6" stroke-dashoffset="1"/>
<line x1="1013.5" y1="725" x2="1013.5" y2="900" stroke="#f5f5f5" stroke-width="1" stroke-dasharray="6,6" stroke-dashoffset="1"/>
<line x1="1024.5" y1="725" x2="1024.5" y2="900" stroke="#f5f5f5" stroke-width="1" stroke-dasharray="6,6" stroke-dashoffset="1"/>
<line x1="1046.5" y1="725" x2="1046.5" y2="900" stroke="#f5f5f5" stroke-width="1" stroke-dasharray="6,6" stroke-dashoffset="1"/>
<line x1="1057.5" y1="725" x2="1057.5" y2="900" stroke="#f5f5f5" stroke-width="1" stroke-dasharray="6,6" stroke-dashoffset="1"/>
<line x1="1067.5" y1="725" x2="1067.5" y2="900" stroke="#f5f5f5" stroke-width="1" stroke-dasharray="6,6" stroke-dashoffset="1"/>
<line x1="1078.5" y1="725" x2="1078.5" y2="900" stroke="#f5f5f5" stroke-width="1" stroke-dasharray="6,6" stroke-dashoffset="1"/>
<line x1="1100.5" y1="725" x2="1100.5" y2="900" stroke="#f5f5f5" stroke-width="1" stroke-dasharray="6,6" stroke-dashoffset="1"/>
<line x1="1111.5" y1="725" x2="1111.5" y2="900" stroke="#f5f5f5" stroke-width="1" stroke-dasharray="6,6" stroke-dashoffset="1"/>
<line x1="1122.5" y1="725" x2="1122.5" y2="900" stroke="#f5f5f5" stroke-width="1" stroke-dasharray="6,6" stroke-dashoffset="1"/>
<line x1="1133.5" y1="725" x2="1133.5" y2="900" stroke="#f5f5f5" stroke-width="1" stroke-dasharray="6,6" stroke-dashoffset="1"/>
<line x1="105.5" y1="725" x2="105.5" y2="900" stroke="#dcdcdc" stroke-width="1" stroke-dasharray="4,4" stroke-dashoffset="1"/>
<line x1="160.5" y1="725" x2="160.5" y2="900" stroke="#dcdcdc" stroke-width="1" stroke-dasharray="4,4" stroke-dashoffset="1"/>
<line x1="214.5" y1="725" x2="214.5" y2="900" stroke="#dcdcdc" stroke-width="1" stroke-dasharray="4,4" stroke-dashoffset="1"/>
<line x1="269.5" y1="725" x2="269.5" y2="900" stroke="#dcdcdc" stroke-width="1" stroke-dasharray="4,4" stroke-dashoffset="1"/>
<line x1="324.5" y1="725" x2="324.5" y2="900" stroke="#dcdcdc" stroke-width="1" stroke-dasharray="4,4" stroke-dashoffset="1"/>
<line x1="378.5" y1="725" x2="378.5" y2="900" stroke="#dcdcdc" stroke-width="1" stroke-dasharray="4,4" stroke-dashoffset="1"/>
<line x1="433.5" y1="725" x2="433.5" y2="900" stroke="#dcdcdc" stroke-width="1" stroke-dasharray="4,4" stroke-dashoffset="1"/>
<line x1="488.5" y1="725" x2="488.5" y2="900" stroke="#dcdcdc" stroke-width="1" stroke-dasharray="4,4" stroke-dashoffset="1"/>
<line x1="542.5" y1="725" x2="542.5" y2="900" stroke="#dcdcdc" stroke-width="1" stroke-dasharray="4,4" stroke-dashoffset="1"/>
<line x1="597.5" y1="725" x2="597.5" y2="900" stroke="#dcdcdc" stroke-width="1" stroke-dasharray="4,4" stroke-dashoffset="1"/>
<line x1="652.5" y1="725" x2="652.5" y2="900" stroke="#dcdcdc" stroke-width="1" stroke-dasharray="4,4" stroke-dashoffset="1"/>
<line x1="707.5" y1="725" x2="707.5" y2="900" stroke="#dcdcdc" stroke-width="1" stroke-dasharray="4,4" stroke-dashoffset="1"/>
<line x1="761.5" y1="725" x2="761.5" y2="900" stroke="#dcdcdc" stroke-width="1" stroke-dasharray="4,4" stroke-dashoffset="1"/>
<line x1="816.5" y1="725" x2="816.5" y2="900" stroke="#dcdcdc" stroke-width="1" stroke-dasharray="4,4" stroke-dashoffset="1"/>
<line x1="871.5" y1="725" x2="871.5" y2="900" stroke="#dcdcdc" stroke-width="1" stroke-dasharray="4,4" stroke-dashoffset="1"/>
<line x1="925.5" y1="725" x2="925.5" y2="900" stroke="#dcdcdc" stroke-width="1" stroke-dasharray="4,4" stroke-dashoffset="1"/>
<line x1="980.5" y1="725" x2="980.5" y2="900" stroke="#dcdcdc" stroke-width="1" stroke-dasharray="4,4" stroke-dashoffset="1"/>
<line x1="1035.5" y1="725" x2="1035.5" y2="900" stroke="#dcdcdc" stroke-width="1" stroke-dasharray="4,4" stroke-dashoffset="1"/>
<line x1="1089.5" y1="725" x2="1089.5" y2="900" stroke="#dcdcdc" stroke-width="1" stroke-dasharray="4,4" stroke-dashoffset="1"/>
<line x1="1144.5" y1="725" x2="1144.5" y2="900" stroke="#dcdcdc" stroke-width="1" stroke-dasharray="4,4" stroke-dashoffset="1"/>
<line x1="101" y1="900.5" x2="1151" y2="900.5" stroke="#dcdcdc" stroke-width="1" stroke-dasharray="4,4" stroke-dashoffset="2"/>
<line x1="101" y1="878.5" x2="1151" y2="878.5" stroke="#dcdcdc" stroke-width="1" stroke-dasharray="4,4" stroke-dashoffset="2"/>
<line x1="101" y1="856.5" x2="1151" y2="856.5" stroke="#dcdcdc" stroke-width="1" stroke-dasharray="4,4" stroke-dashoffset="2"/>
<line x1="101" y1="834.5" x2="1151" y2="834.5" stroke="#dcdcdc" stroke-width="1" stroke-dasharray="4,4" stroke-dashoffset="2"/>
<line x1="101" y1="812.5" x2="1151" y2="812.5" stroke="#dcdcdc" stroke-width="1" stroke-dasharray="4,4" stroke-dashoffset="2"/>
<line x1="101" y1="790.5" x2="1151" y2="790.5" stroke="#dcdcdc" stroke-width="1" stroke-dasharray="4,4" stroke-dashoffset="2"/>
<line x1="101" y1="768.5" x2="1151" y2="768.5" stroke="#dcdcdc" stroke-width="1" stroke-dasharray="4,4" stroke-dashoffset="2"/>
<line x1="101" y1="746.5" x2="1151" y2="746.5" stroke="#dcdcdc" stroke-width="1" stroke-dasharray="4,4" stroke-dashoffset="2"/>
<line x1="101" y1="725.5" x2="1151" y2="725.5" stroke="#dcdcdc" stroke-width="1" stroke-dasharray="4,4" stroke-dashoffset="2"/>
<rect x="100" y="718" width="1" height="183" fill="#000"/>
<path d="M100 713h1v1h1v2h1v2h1v2h-7v-2h1v-2h1v-2h1z" fill="#000"/>
<rect x="100" y="900" width="1062" height="1" fill="#000"/>
<path d="M1155 897h2v1h2v1h2v1h1v1h-1v1h-2v1h-2v1h-2z" fill="#000"/>
<rect x="98" y="900" width="5" height="1" fill="#000"/>
<text x="96" y="904" font-size="11" text-anchor="end" fill="#000">0.00</text>
<rect x="98" y="889" width="2" height="1" fill="#f00"/>
<rect x="98" y="878" width="5" height="1" fill="#000"/>
<text x="96" y="882" font-size="11" text-anchor="end" fill="#000">500,000.00</text>
<rect x="98" y="867" width="2" height="1" fill="#f00"/>
<rect x="98" y="856" width="5" height="1" fill="#000"/>
<text x="96" y="860" font-size="11" text-anchor="end" fill="#000">1,000,000.00</text>
<rect x="98" y="845" width="2" height="1" fill="#f00"/>
<rect x="98" y="834" width="5" height="1" fill="#000"/>
<text x="96" y="838" font-size="11" text-anchor="end" fill="#000">1,500,000.00</text>
<rect x="98" y="823" width="2" height="1" fill="#f00"/>
<rect x="98" y="812" width="5" height="1" fill="#000"/>
<text x="96" y="816" font-size="11" text-anchor="end" fill="#000">2,000,000.00</text>
<rect x="98" y="801" width="2" height="1" fill="#f00"/>
<rect x="98" y="790" width="5" height="1" fill="#000"/>
<text x="96" y="794" font-size="11" text-anchor="end" fill="#000">2,500,000.00</text>
<rect x="98" y="779" width="2" height="1" fill="#f00"/>
<rect x="98" y="768" width="5" height="1" fill="#000"/>
<text x="96" y="772" font-size="11" text-anchor="end" fill="#000">3,000,000.00</text>
<rect x="98" y="757" width="2" height="1" fill="#f00"/>
<rect x="98" y="746" width="5" height="1" fill="#000"/>
<text x="96" y="750" font-size="11" text-anchor="end" fill="#000">3,500,000.00</text>
<rect x="98" y="735" width="2" height="1" fill="#f00"/>
<rect x="98" y="725" width="5" height="1" fill="#000"/>
<text x="96" y="729" font-size="11" text-anchor="end" fill="#000">4,000,000.00</text>
<rect x="105" y="898" width="1" height="5" fill="#000"/>
<text x="104.3" y="913.5" font-size="11" text-anchor="middle" fill="#000">26 Fév</text>
<rect x="116" y="901" width="1" height="2" fill="#c8c8c8"/>
<rect x="127" y="901" width="1" height="2" fill="#c8c8c8"/>
<rect x="138" y="901" width="1" height="2" fill="#c8c8c8"/>
<rect x="149" y="901" width="1" height="2" fill="#c8c8c8"/>
<rect x="160" y="898" width="1" height="5" fill="#000"/>
<text x="159.3" y="913.5" font-size="11" text-anchor="middle" fill="#000">5 Mars</text>
<rect x="171" y="901" width="1" height="2" fill="#c8c8c8"/>
<rect x="182" y="901" width="1" height="2" fill="#c8c8c8"/>
<rect x="192" y="901" width="1" height="2" fill="#c8c8c8"/>
<rect x="203" y="901" width="1" height="2" fill="#c8c8c8"/>
<rect x="214" y="898" width="1" height="5" fill="#000"/>
<text x="213.3" y="913.5" font-size="11" text-anchor="middle" fill="#000">12 Mars</text>
<rect x="225" y="901" width="1" height="2" fill="#c8c8c8"/>
<rect x="236" y="901" width="1" height="2" fill="#c8c8c8"/>
<rect x="247" y="901" width="1" height="2" fill="#c8c8c8"/>
<rect x="258" y="901" width="1" height="2" fill="#c8c8c8"/>
<rect x="269" y="898" width="1" height="5" fill="#000"/>
<text x="268.3" y="913.5" font-size="11" text-anchor="middle" fill="#000">19 Mars</text>
<rect x="280" y="901" width="1" height="2" fill="#c8c8c8"/>
<rect x="291" y="901" width="1" height="2" fill="#c8c8c8"/>
<rect x="302" y="901" width="1" height="2" fill="#c8c8c8"/>
<rect x="313" y="901" width="1" height="2" fill="#c8c8c8"/>
<rect x="324" y="898" width="1" height="5" fill="#000"/>
<text x="323.3" y="913.5" font-size="11" text-anchor="middle" fill="#000">26 Mars</text>
<rect x="335" y="901" width="1" height="2" fill="#c8c8c8"/>
<rect x="346" y="901" width="1" height="2" fill="#c8c8c8"/>
<rect x="357" y="901" width="1" height="2" fill="#c8c8c8"/>
<rect x="367" y="901" width="1" height="2" fill="#c8c8c8"/>
<rect x="378" y="898" width="1" height="5" fill="#000"/>
<text x="377.3" y="913.5" font-size="11" text-anchor="middle" fill="#000">2 Avr</text>
<rect x="389" y="901" width="1" height="2" fill="#c8c8c8"/>
<rect x="400" y="901" width="1" height="2" fill="#c8c8c8"/>
<rect x="411" y="901" width="1" height="2" fill="#c8c8c8"/>
<rect x="422" y="901" width="1" height="2" fill="#c8c8c8"/>
<rect x="433" y="898" width="1" height="5" fill="#000"/>
<text x="432.3" y="913.5" font-size="11" text-anchor="middle" fill="#000">9 Avr</text>
<rect x="444" y="901" width="1" height="2" fill="#c8c8c8"/>
<rect x="455" y="901" width="1" height="2" fill="#c8c8c8"/>
<rect x="466" y="901" width="1" height="2" fill="#c8c8c8"/>
<rect x="477" y="901" width="1" height="2" fill="#c8c8c8"/>
<rect x="488" y="898" width="1" height="5" fill="#000"/>
<text x="487.3" y="913.5" font-size="11" text-anchor="middle" fill="#000">16 Avr</text>
<rect x="499" y="901" width="1" height="2" fill="#c8c8c8"/>
<rect x="510" y="901" width="1" height="2" fill="#c8c8c8"/>
<rect x="521" y="901" width="1" height="2" fill="#c8c8c8"/>
<rect x="532" y="901" width="1" height="2" fill="#c8c8c8"/>
<rect x="542" y="898" width="1" height="5" fill="#000"/>
<text x="541.3" y="913.5" font-size="11" text-anchor="middle" fill="#000">25 Avr</text>
<rect x="553" y="901" width="1" height="2" fill="#c8c8c8"/>
<rect x="564" y="901" width="1" height="2" fill="#c8c8c8"/>
<rect x="575" y="901" width="1" height="2" fill="#c8c8c8"/>
<rect x="586" y="901" width="1" height="2" fill="#c8c8c8"/>
<rect x="597" y="898" width="1" height="5" fill="#000"/>
<text x="596.3" y="913.5" font-size="11" text-anchor="middle" fill="#000">3 Mai</text>
<rect x="608" y="901" width="1" height="2" fill="#c8c8c8"/>
<rect x="619" y="901" width="1" height="2" fill="#c8c8c8"/>
<rect x="630" y="901" width="1" height="2" fill="#c8c8c8"/>
<rect x="641" y="901" width="1" height="2" fill="#c8c8c8"/>
<rect x="652" y="898" width="1" height="5" fill="#000"/>
<text x="651.3" y="913.5" font-size="11" text-anchor="middle" fill="#000">10 Mai</text>
<rect x="663" y="901" width="1" height="2" fill="#c8c8c8"/>
<rect x="674" y="901" width="1" height="2" fill="#c8c8c8"/>
<rect x="685" y="901" width="1" height="2" fill="#c8c8c8"/>
<rect x="696" y="901" width="1" height="2" fill="#c8c8c8"/>
<rect x="707" y="898" width="1" height="5" fill="#000"/>
<text x="706.3" y="913.5" font-size="11" text-anchor="middle" fill="#000">17 Mai</text>
<rect x="717" y="901" width="1" height="2" fill="#c8c8c8"/>
<rect x="728" y="901" width="1" height="2" fill="#c8c8c8"/>
<rect x="739" y="901" width="1" height="2" fill="#c8c8c8"/>
<rect x="750" y="901" width="1" height="2" fill="#c8c8c8"/>
<rect x="761" y="898" width="1" height="5" fill="#000"/>
<text x="760.3" y="913.5" font-size="11" text-anchor="middle" fill="#000">24 Mai</text>
<rect x="772" y="901" width="1" height="2" fill="#c8c8c8"/>
<rect x="783" y="901" width="1" height="2" fill="#c8c8c8"/>
<rect x="794" y="901" width="1" height="2" fill="#c8c8c8"/>
<rect x="805" y="901" width="1" height="2" fill="#c8c8c8"/>
<rect x="816" y="898" width="1" height="5" fill="#000"/>
<text x="815.3" y="913.5" font-size="11" text-anchor="middle" fill="#000">31 Mai</text>
<rect x="827" y="901" width="1" height="2" fill="#c8c8c8"/>
<rect x="838" y="901" width="1" height="2" fill="#c8c8c8"/>
<rect x="849" y="901" width="1" height="2" fill="#c8c8c8"/>
<rect x="860" y="901" width="1" height="2" fill="#c8c8c8"/>
<rect x="871" y="898" width="1" height="5" fill="#000"/>
<text x="870.3" y="913.5" font-size="11" text-anchor="middle" fill="#000">7 Juin</text>
<rect x="882" y="901" width="1" height="2" fill="#c8c8c8"/>
<rect x="892" y="901" width="1" height="2" fill="#c8c8c8"/>
<rect x="903" y="901" width="1" height="2" fill="#c8c8c8"/>
<rect x="914" y="901" width="1" height="2" fill="#c8c8c8"/>
<rect x="925" y="898" width="1" height="5" fill="#000"/>
<text x="924.3" y="913.5" font-size="11" text-anchor="middle" fill="#000">14 Juin</text>
<rect x="936" y="901" width="1" height="2" fill="#c8c8c8"/>
<rect x="947" y="901" width="1" height="2" fill="#c8c8c8"/>
<rect x="958" y="901" width="1" height="2" fill="#c8c8c8"/>
<rect x="969" y="901" width="1" height="2" fill="#c8c8c8"/>
<rect x="980" y="898" width="1" height="5" fill="#000"/>
<text x="979.3" y="913.5" font-size="11" text-anchor="middle" fill="#000">21 Juin</text>
<rect x="991" y="901" width="1" height="2" fill="#c8c8c8"/>
<rect x="1002" y="901" width="1" height="2" fill="#c8c8c8"/>
<rect x="1013" y="901" width="1" height="2" fill="#c8c8c8"/>
<rect x="1024" y="901" width="1" height="2" fill="#c8c8c8"/>
<rect x="1035" y="898" width="1" height="5" fill="#000"/>
<text x="1034.3" y="913.5" font-size="11" text-anchor="middle" fill="#000">28 Juin</text>
<rect x="1046" y="901" width="1" height="2" fill="#c8c8c8"/>
<rect x="1057" y="901" width="1" height="2" fill="#c8c8c8"/>
<rect x="1067" y="901" width="1" height="2" fill="#c8c8c8"/>
<rect x="1078" y="901" width="1" height="2" fill="#c8c8c8"/>
<rect x="1089" y="898" width="1" height="5" fill="#000"/>
<text x="1088.3" y="913.5" font-size="11" text-anchor="middle" fill="#000">5 Juil</text>
<rect x="1100" y="901" width="1" height="2" fill="#c8c8c8"/>
<rect x="1111" y="901" width="1" height="2" fill="#c8c8c8"/>
<rect x="1122" y="901" width="1" height="2" fill="#c8c8c8"/>
<rect x="1133" y="901" width="1" height="2" fill="#c8c8c8"/>
<rect x="1144" y="898" width="1" height="5" fill="#000"/>
<text x="1143.3" y="913.5" font-size="11" text-anchor="middle" fill="#000">12 Juil</text>
<text x="503.6" y="926.5" font-size="11" fill="#000" textLength="241.8" lengthAdjust="spacingAndGlyphs">Date (du 26 Février 2019 au 12 Juillet 2019)</text>
<text transform="translate(18.7,812.5) rotate(-90)" font-size="11" text-anchor="middle" fill="#000" textLength="40" lengthAdjust="spacingAndGlyphs">Volume</text>
<rect x="101" y="859" width="9" height="41" fill="#5aff5a"/>
<rect x="109" y="859" width="1" height="41" fill="#44ff44"/>
<rect x="112" y="859" width="9" height="41" fill="#5aff5a"/>
<rect x="112" y="859" width="1" height="41" fill="#6eff6e"/>
<rect x="120" y="859" width="1" height="41" fill="#44ff44"/>
<rect x="123" y="830" width="8" height="70" fill="#5aff5a"/>
<rect x="123" y="830" width="1" height="70" fill="#6eff6e"/>
<rect x="130" y="830" width="1" height="70" fill="#44ff44"/>
<rect x="134" y="838" width="8" height="62" fill="#ff5a5a"/>
<rect x="134" y="838" width="1" height="62" fill="#ff6e6e"/>
<rect x="141" y="838" width="1" height="62" fill="#ff4444"/>
<rect x="145" y="864" width="8" height="36" fill="#5aff5a"/>
<rect x="145" y="864" width="1" height="36" fill="#6eff6e"/>
<rect x="152" y="864" width="1" height="36" fill="#44ff44"/>
<rect x="156" y="858" width="8" height="42" fill="#5aff5a"/>
<rect x="156" y="858" width="1" height="42" fill="#6eff6e"/>
<rect x="163" y="858" width="1" height="42" fill="#44ff44"/>
<rect x="167" y="854" width="8" height="46" fill="#5aff5a"/>
<rect x="167" y="854" width="1" height="46" fill="#6eff6e"/>
<rect x="174" y="854" width="1" height="46" fill="#44ff44"/>
<rect x="178" y="849" width="8" height="51" fill="#5aff5a"/>
<rect x="178" y="849" width="1" height="51" fill="#6eff6e"/>
<rect x="185" y="849" width="1" height="51" fill="#44ff44"/>
<rect x="189" y="841" width="8" height="59" fill="#ff5a5a"/>
<rect x="189" y="841" width="1" height="59" fill="#ff6e6e"/>
<rect x="196" y="841" width="1" height="59" fill="#ff4444"/>
<rect x="200" y="864" width="8" height="36" fill="#5aff5a"/>
<rect x="200" y="864" width="1" height="36" fill="#6eff6e"/>
<rect x="207" y="864" width="1" height="36" fill="#44ff44"/>
<rect x="211" y="854" width="8" height="46" fill="#ff5a5a"/>
<rect x="211" y="854" width="1" height="46" fill="#ff6e6e"/>
<rect x="218" y="854" width="1" height="46" fill="#ff4444"/>
<rect x="222" y="850" width="8" height="50" fill="#5aff5a"/>
<rect x="222" y="850" width="1" height="50" fill="#6eff6e"/>
<rect x="229" y="850" width="1" height="50" fill="#44ff44"/>
<rect x="233" y="833" width="8" height="67" fill="#5aff5a"/>
<rect x="233" y="833" width="1" height="67" fill="#6eff6e"/>
<rect x="240" y="833" width="1" height="67" fill="#44ff44"/>
<rect x="244" y="736" width="8" height="164" fill="#5aff5a"/>
<rect x="244" y="736" width="1" height="164" fill="#6eff6e"/>
<rect x="251" y="736" width="1" height="164" fill="#44ff44"/>
<rect x="255" y="850" width="8" height="50" fill="#5aff5a"/>
<rect x="255" y="850" width="1" height="50" fill="#6eff6e"/>
<rect x="262" y="850" width="1" height="50" fill="#44ff44"/>
<rect x="266" y="845" width="8" height="55" fill="#ff5a5a"/>
<rect x="266" y="845" width="1" height="55" fill="#ff6e6e"/>
<rect x="273" y="845" width="1" height="55" fill="#ff4444"/>
<rect x="276" y="839" width="9" height="61" fill="#5aff5a"/>
<rect x="276" y="839" width="1" height="61" fill="#6eff6e"/>
<rect x="284" y="839" width="1" height="61" fill="#44ff44"/>
<rect x="287" y="857" width="9" height="43" fill="#5aff5a"/>
<rect x="287" y="857" width="1" height="43" fill="#6eff6e"/>
<rect x="295" y="857" width="1" height="43" fill="#44ff44"/>
<rect x="298" y="825" width="8" height="75" fill="#ff5a5a"/>
<rect x="298" y="825" width="1" height="75" fill="#ff6e6e"/>
<rect x="305" y="825" width="1" height="75" fill="#ff4444"/>
<rect x="309" y="844" width="8" height="56" fill="#5aff5a"/>
<rect x="309" y="844" width="1" height="56" fill="#6eff6e"/>
<rect x="316" y="844" width="1" height="56" fill="#44ff44"/>
<rect x="320" y="840" width="8" height="60" fill="#5aff5a"/>
<rect x="320" y="840" width="1" height="60" fill="#6eff6e"/>
<rect x="327" y="840" width="1" height="60" fill="#44ff44"/>
<rect x="331" y="854" width="8" height="46" fill="#ff5a5a"/>
<rect x="331" y="854" width="1" height="46" fill="#ff6e6e"/>
<rect x="338" y="854" width="1" height="46" fill="#ff4444"/>
<rect x="342" y="860" width="8" height="40" fill="#ff5a5a"/>
<rect x="342" y="860" width="1" height="40" fill="#ff6e6e"/>
<rect x="349" y="860" width="1" height="40" fill="#ff4444"/>
<rect x="353" y="852" width="8" height="48" fill="#5aff5a"/>
<rect x="353" y="852" width="1" height="48" fill="#6eff6e"/>
<rect x="360" y="852" width="1" height="48" fill="#44ff44"/>
<rect x="364" y="842" width="8" height="58" fill="#5aff5a"/>
<rect x="364" y="842" width="1" height="58" fill="#6eff6e"/>
<rect x="371" y="842" width="1" height="58" fill="#44ff44"/>
<rect x="375" y="849" width="8" height="51" fill="#5aff5a"/>
<rect x="375" y="849" width="1" height="51" fill="#6eff6e"/>
<rect x="382" y="849" width="1" height="51" fill="#44ff44"/>
<rect x="386" y="849" width="8" height="51" fill="#5aff5a"/>
<rect x="386" y="849" width="1" height="51" fill="#6eff6e"/>
<rect x="393" y="849" width="1" height="51" fill="#44ff44"/>
<rect x="397" y="854" width="8" height="46" fill="#5aff5a"/>
<rect x="397" y="854" width="1" height="46" fill="#6eff6e"/>
<rect x="404" y="854" width="1" height="46" fill="#44ff44"/>
<rect x="408" y="851" width="8" height="49" fill="#5aff5a"/>
<rect x="408" y="851" width="1" height="49" fill="#6eff6e"/>
<rect x="415" y="851" width="1" height="49" fill="#44ff44"/>
<rect x="419" y="861" width="8" height="39" fill="#ff5a5a"/>
<rect x="419" y="861" width="1" height="39" fill="#ff6e6e"/>
<rect x="426" y="861" width="1" height="39" fill="#ff4444"/>
<rect x="430" y="847" width="8" height="53" fill="#ff5a5a"/>
<rect x="430" y="847" width="1" height="53" fill="#ff6e6e"/>
<rect x="437" y="847" width="1" height="53" fill="#ff4444"/>
<rect x="440" y="837" width="9" height="63" fill="#5aff5a"/>
<rect x="440" y="837" width="1" height="63" fill="#6eff6e"/>
<rect x="448" y="837" width="1" height="63" fill="#44ff44"/>
<rect x="451" y="851" width="9" height="49" fill="#5aff5a"/>
<rect x="451" y="851" width="1" height="49" fill="#6eff6e"/>
<rect x="459" y="851" width="1" height="49" fill="#44ff44"/>
<rect x="462" y="863" width="9" height="37" fill="#5aff5a"/>
<rect x="462" y="863" width="1" height="37" fill="#6eff6e"/>
<rect x="470" y="863" width="1" height="37" fill="#44ff44"/>
<rect x="473" y="862" width="8" height="38" fill="#ff5a5a"/>
<rect x="473" y="862" width="1" height="38" fill="#ff6e6e"/>
<rect x="480" y="862" width="1" height="38" fill="#ff4444"/>
<rect x="484" y="854" width="8" height="46" fill="#5aff5a"/>
<rect x="484" y="854" width="1" height="46" fill="#6eff6e"/>
<rect x="491" y="854" width="1" height="46" fill="#44ff44"/>
<rect x="495" y="849" width="8" height="51" fill="#5aff5a"/>
<rect x="495" y="849" width="1" height="51" fill="#6eff6e"/>
<rect x="502" y="849" width="1" height="51" fill="#44ff44"/>
<rect x="506" y="815" width="8" height="85" fill="#ff5a5a"/>
<rect x="506" y="815" width="1" height="85" fill="#ff6e6e"/>
<rect x="513" y="815" width="1" height="85" fill="#ff4444"/>
<rect x="517" y="842" width="8" height="58" fill="#5aff5a"/>
<rect x="517" y="842" width="1" height="58" fill="#6eff6e"/>
<rect x="524" y="842" width="1" height="58" fill="#44ff44"/>
<rect x="528" y="829" width="8" height="71" fill="#5aff5a"/>
<rect x="528" y="829" width="1" height="71" fill="#6eff6e"/>
<rect x="535" y="829" width="1" height="71" fill="#44ff44"/>
<rect x="539" y="840" width="8" height="60" fill="#ff5a5a"/>
<rect x="539" y="840" width="1" height="60" fill="#ff6e6e"/>
<rect x="546" y="840" width="1" height="60" fill="#ff4444"/>
<rect x="550" y="847" width="8" height="53" fill="#5aff5a"/>
<rect x="550" y="847" width="1" height="53" fill="#6eff6e"/>
<rect x="557" y="847" width="1" height="53" fill="#44ff44"/>
<rect x="561" y="862" width="8" height="38" fill="#5aff5a"/>
<rect x="561" y="862" width="1" height="38" fill="#6eff6e"/>
<rect x="568" y="862" width="1" height="38" fill="#44ff44"/>
<rect x="572" y="835" width="8" height="65" fill="#5aff5a"/>
<rect x="572" y="835" width="1" height="65" fill="#6eff6e"/>
<rect x="579" y="835" width="1" height="65" fill="#44ff44"/>
<rect x="583" y="838" width="8" height="62" fill="#ff5a5a"/>
<rect x="583" y="838" width="1" height="62" fill="#ff6e6e"/>
<rect x="590" y="838" width="1" height="62" fill="#ff4444"/>
<rect x="594" y="860" width="8" height="40" fill="#ff5a5a"/>
<rect x="594" y="860" width="1" height="40" fill="#ff6e6e"/>
<rect x="601" y="860" width="1" height="40" fill="#ff4444"/>
<rect x="605" y="854" width="8" height="46" fill="#5aff5a"/>
<rect x="605" y="854" width="1" height="46" fill="#6eff6e"/>
<rect x="612" y="854" width="1" height="46" fill="#44ff44"/>
<rect x="615" y="843" width="9" height="57" fill="#ff5a5a"/>
<rect x="615" y="843" width="1" height="57" fill="#ff6e6e"/>
<rect x="623" y="843" width="1" height="57" fill="#ff4444"/>
<rect x="626" y="853" width="9" height="47" fill="#5aff5a"/>
<rect x="626" y="853" width="1" height="47" fill="#6eff6e"/>
<rect x="634" y="853" width="1" height="47" fill="#44ff44"/>
<rect x="637" y="848" width="9" height="52" fill="#ff5a5a"/>
<rect x="637" y="848" width="1" height="52" fill="#ff6e6e"/>
<rect x="645" y="848" width="1" height="52" fill="#ff4444"/>
<rect x="648" y="844" width="8" height="56" fill="#5aff5a"/>
<rect x="648" y="844" width="1" height="56" fill="#6eff6e"/>
<rect x="655" y="844" width="1" height="56" fill="#44ff44"/>
<rect x="659" y="853" width="8" height="47" fill="#ff5a5a"/>
<rect x="659" y="853" width="1" height="47" fill="#ff6e6e"/>
<rect x="666" y="853" width="1" height="47" fill="#ff4444"/>
<rect x="670" y="832" width="8" height="68" fill="#5aff5a"/>
<rect x="670" y="832" width="1" height="68" fill="#6eff6e"/>
<rect x="677" y="832" width="1" height="68" fill="#44ff44"/>
<rect x="681" y="838" width="8" height="62" fill="#5aff5a"/>
<rect x="681" y="838" width="1" height="62" fill="#6eff6e"/>
<rect x="688" y="838" width="1" height="62" fill="#44ff44"/>
<rect x="692" y="852" width="8" height="48" fill="#5aff5a"/>
<rect x="692" y="852" width="1" height="48" fill="#6eff6e"/>
<rect x="699" y="852" width="1" height="48" fill="#44ff44"/>
<rect x="703" y="839" width="8" height="61" fill="#5aff5a"/>
<rect x="703" y="839" width="1" height="61" fill="#6eff6e"/>
<rect x="710" y="839" width="1" height="61" fill="#44ff44"/>
<rect x="714" y="856" width="8" height="44" fill="#ff5a5a"/>
<rect x="714" y="856" width="1" height="44" fill="#ff6e6e"/>
<rect x="721" y="856" width="1" height="44" fill="#ff4444"/>
<rect x="725" y="856" width="8" height="44" fill="#5aff5a"/>
<rect x="725" y="856" width="1" height="44" fill="#6eff6e"/>
<rect x="732" y="856" width="1" height="44" fill="#44ff44"/>
<rect x="736" y="867" width="8" height="33" fill="#5aff5a"/>
<rect x="736" y="867" width="1" height="33" fill="#6eff6e"/>
<rect x="743" y="867" width="1" height="33" fill="#44ff44"/>
<rect x="747" y="853" width="8" height="47" fill="#5aff5a"/>
<rect x="747" y="853" width="1" height="47" fill="#6eff6e"/>
<rect x="754" y="853" width="1" height="47" fill="#44ff44"/>
<rect x="758" y="843" width="8" height="57" fill="#5aff5a"/>
<rect x="758" y="843" width="1" height="57" fill="#6eff6e"/>
<rect x="765" y="843" width="1" height="57" fill="#44ff44"/>
<rect x="769" y="874" width="8" height="26" fill="#5aff5a"/>
<rect x="769" y="874" width="1" height="26" fill="#6eff6e"/>
<rect x="776" y="874" width="1" height="26" fill="#44ff44"/>
<rect x="780" y="843" width="8" height="57" fill="#ff5a5a"/>
<rect x="780" y="843" width="1" height="57" fill="#ff6e6e"/>
<rect x="787" y="843" width="1" height="57" fill="#ff4444"/>
<rect x="790" y="852" width="9" height="48" fill="#ff5a5a"/>
<rect x="790" y="852" width="1" height="48" fill="#ff6e6e"/>
<rect x="798" y="852" width="1" height="48" fill="#ff4444"/>
<rect x="801" y="874" width="9" height="26" fill="#5aff5a"/>
<rect x="801" y="874" width="1" height="26" fill="#6eff6e"/>
<rect x="809" y="874" width="1" height="26" fill="#44ff44"/>
<rect x="812" y="851" width="9" height="49" fill="#5aff5a"/>
<rect x="812" y="851" width="1" height="49" fill="#6eff6e"/>
<rect x="820" y="851" width="1" height="49" fill="#44ff44"/>
<rect x="823" y="854" width="8" height="46" fill="#5aff5a"/>
<rect x="823" y="854" width="1" height="46" fill="#6eff6e"/>
<rect x="830" y="854" width="1" height="46" fill="#44ff44"/>
<rect x="834" y="852" width="8" height="48" fill="#5aff5a"/>
<rect x="834" y="852" width="1" height="48" fill="#6eff6e"/>
<rect x="841" y="852" width="1" height="48" fill="#44ff44"/>
<rect x="845" y="860" width="8" height="40" fill="#ff5a5a"/>
<rect x="845" y="860" width="1" height="40" fill="#ff6e6e"/>
<rect x="852" y="860" width="1" height="40" fill="#ff4444"/>
<rect x="856" y="857" width="8" height="43" fill="#ff5a5a"/>
<rect x="856" y="857" width="1" height="43" fill="#ff6e6e"/>
<rect x="863" y="857" width="1" height="43" fill="#ff4444"/>
<rect x="867" y="859" width="8" height="41" fill="#5aff5a"/>
<rect x="867" y="859" width="1" height="41" fill="#6eff6e"/>
<rect x="874" y="859" width="1" height="41" fill="#44ff44"/>
<rect x="878" y="879" width="8" height="21" fill="#5aff5a"/>
<rect x="878" y="879" width="1" height="21" fill="#6eff6e"/>
<rect x="885" y="879" width="1" height="21" fill="#44ff44"/>
<rect x="889" y="864" width="8" height="36" fill="#5aff5a"/>
<rect x="889" y="864" width="1" height="36" fill="#6eff6e"/>
<rect x="896" y="864" width="1" height="36" fill="#44ff44"/>
<rect x="900" y="859" width="8" height="41" fill="#5aff5a"/>
<rect x="900" y="859" width="1" height="41" fill="#6eff6e"/>
<rect x="907" y="859" width="1" height="41" fill="#44ff44"/>
<rect x="911" y="848" width="8" height="52" fill="#ff5a5a"/>
<rect x="911" y="848" width="1" height="52" fill="#ff6e6e"/>
<rect x="918" y="848" width="1" height="52" fill="#ff4444"/>
<rect x="922" y="848" width="8" height="52" fill="#5aff5a"/>
<rect x="922" y="848" width="1" height="52" fill="#6eff6e"/>
<rect x="929" y="848" width="1" height="52" fill="#44ff44"/>
<rect x="933" y="863" width="8" height="37" fill="#5aff5a"/>
<rect x="933" y="863" width="1" height="37" fill="#6eff6e"/>
<rect x="940" y="863" width="1" height="37" fill="#44ff44"/>
<rect x="944" y="824" width="8" height="76" fill="#5aff5a"/>
<rect x="944" y="824" width="1" height="76" fill="#6eff6e"/>
<rect x="951" y="824" width="1" height="76" fill="#44ff44"/>
<rect x="955" y="843" width="8" height="57" fill="#5aff5a"/>
<rect x="955" y="843" width="1" height="57" fill="#6eff6e"/>
<rect x="962" y="843" width="1" height="57" fill="#44ff44"/>
<rect x="965" y="844" width="9" height="56" fill="#5aff5a"/>
<rect x="965" y="844" width="1" height="56" fill="#6eff6e"/>
<rect x="973" y="844" width="1" height="56" fill="#44ff44"/>
<rect x="976" y="785" width="9" height="115" fill="#ff5a5a"/>
<rect x="976" y="785" width="1" height="115" fill="#ff6e6e"/>
<rect x="984" y="785" width="1" height="115" fill="#ff4444"/>
<rect x="987" y="854" width="8" height="46" fill="#5aff5a"/>
<rect x="987" y="854" width="1" height="46" fill="#6eff6e"/>
<rect x="994" y="854" width="1" height="46" fill="#44ff44"/>
<rect x="998" y="863" width="8" height="37" fill="#5aff5a"/>
<rect x="998" y="863" width="1" height="37" fill="#6eff6e"/>
<rect x="1005" y="863" width="1" height="37" fill="#44ff44"/>
<rect x="1009" y="857" width="8" height="43" fill="#ff5a5a"/>
<rect x="1009" y="857" width="1" height="43" fill="#ff6e6e"/>
<rect x="1016" y="857" width="1" height="43" fill="#ff4444"/>
<rect x="1020" y="854" width="8" height="46" fill="#ff5a5a"/>
<rect x="1020" y="854" width="1" height="46" fill="#ff6e6e"/>
<rect x="1027" y="854" width="1" height="46" fill="#ff4444"/>
<rect x="1031" y="837" width="8" height="63" fill="#5aff5a"/>
<rect x="1031" y="837" width="1" height="63" fill="#6eff6e"/>
<rect x="1038" y="837" width="1" height="63" fill="#44ff44"/>
<rect x="1042" y="857" width="8" height="43" fill="#ff5a5a"/>
<rect x="1042" y="857" width="1" height="43" fill="#ff6e6e"/>
<rect x="1049" y="857" width="1" height="43" fill="#ff4444"/>
<rect x="1053" y="856" width="8" height="44" fill="#5aff5a"/>
<rect x="1053" y="856" width="1" height="44" fill="#6eff6e"/>
<rect x="1060" y="856" width="1" height="44" fill="#44ff44"/>
<rect x="1064" y="859" width="8" height="41" fill="#5aff5a"/>
<rect x="1064" y="859" width="1" height="41" fill="#6eff6e"/>
<rect x="1071" y="859" width="1" height="41" fill="#44ff44"/>
<rect x="1075" y="874" width="8" height="26" fill="#ff5a5a"/>
<rect x="1075" y="874" width="1" height="26" fill="#ff6e6e"/>
<rect x="1082" y="874" width="1" height="26" fill="#ff4444"/>
<rect x="1086" y="861" width="8" height="39" fill="#ff5a5a"/>
<rect x="1086" y="861" width="1" height="39" fill="#ff6e6e"/>
<rect x="1093" y="861" width="1" height="39" fill="#ff4444"/>
<rect x="1097" y="863" width="8" height="37" fill="#5aff5a"/>
<rect x="1097" y="863" width="1" height="37" fill="#6eff6e"/>
<rect x="1104" y="863" width="1" height="37" fill="#44ff44"/>
<rect x="1108" y="862" width="8" height="38" fill="#5aff5a"/>
<rect x="1108" y="862" width="1" height="38" fill="#6eff6e"/>
<rect x="1115" y="862" width="1" height="38" fill="#44ff44"/>
<rect x="1119" y="858" width="8" height="42" fill="#ff5a5a"/>
<rect x="1119" y="858" width="1" height="42" fill="#ff6e6e"/>
<rect x="1126" y="858" width="1" height="42" fill="#ff4444"/>
<rect x="1130" y="864" width="8" height="36" fill="#ff5a5a"/>
<rect x="1130" y="864" width="1" height="36" fill="#ff6e6e"/>
<rect x="1137" y="864" width="1" height="36" fill="#ff4444"/>
<rect x="1140" y="890" width="9" height="10" fill="#5aff5a"/>
<rect x="1140" y="890" width="1" height="10" fill="#6eff6e"/>
<rect x="1148" y="890" width="1" height="10" fill="#44ff44"/>
<text x="111.25" y="994" font-size="24" fill="#000" textLength="67.00" lengthAdjust="spacingAndGlyphs">Vinci:</text>
<text x="186.51" y="994" font-size="24" fill="#000" textLength="121.13" lengthAdjust="spacingAndGlyphs">graphique</text>
<text x="315.48" y="994" font-size="24" fill="#000" textLength="30.99" lengthAdjust="spacingAndGlyphs">du</text>
<text x="354.39" y="994" font-size="24" fill="#000" textLength="43.22" lengthAdjust="spacingAndGlyphs">RSI</text>
<text x="407.50" y="994" font-size="24" fill="#000">-</text>
<text x="425.17" y="994" font-size="24" fill="#000" textLength="95.20" lengthAdjust="spacingAndGlyphs">RSI(14)</text>
<text x="528.75" y="994" font-size="24" fill="#000">-</text>
<text x="547.50" y="994" font-size="24" fill="#000" textLength="209.09" lengthAdjust="spacingAndGlyphs">AnalyBourse.com</text>
<rect x="101" y="1130" width="1050" height="35" fill="#f8f8f8"/>
<rect x="101" y="1060" width="1050" height="35" fill="#f8f8f8"/>
<line x1="116.5" y1="1025" x2="116.5" y2="1200" stroke="#f5f5f5" stroke-width="1" stroke-dasharray="6,6" stroke-dashoffset="1"/>
<line x1="127.5" y1="1025" x2="127.5" y2="1200" stroke="#f5f5f5" stroke-width="1" stroke-dasharray="6,6" stroke-dashoffset="1"/>
<line x1="138.5" y1="1025" x2="138.5" y2="1200" stroke="#f5f5f5" stroke-width="1" stroke-dasharray="6,6" stroke-dashoffset="1"/>
<line x1="149.5" y1="1025" x2="149.5" y2="1200" stroke="#f5f5f5" stroke-width="1" stroke-dasharray="6,6" stroke-dashoffset="1"/>
<line x1="171.5" y1="1025" x2="171.5" y2="1200" stroke="#f5f5f5" stroke-width="1" stroke-dasharray="6,6" stroke-dashoffset="1"/>
<line x1="182.5" y1="1025" x2="182.5" y2="1200" stroke="#f5f5f5" stroke-width="1" stroke-dasharray="6,6" stroke-dashoffset="1"/>
<line x1="192.5" y1="1025" x2="192.5" y2="1200" stroke="#f5f5f5" stroke-width="1" stroke-dasharray="6,6" stroke-dashoffset="1"/>
<line x1="203.5" y1="1025" x2="203.5" y2="1200" stroke="#f5f5f5" stroke-width="1" stroke-dasharray="6,6" stroke-dashoffset="1"/>
<line x1="225.5" y1="1025" x2="225.5" y2="1200" stroke="#f5f5f5" stroke-width="1" stroke-dasharray="6,6" stroke-dashoffset="1"/>
<line x1="236.5" y1="1025" x2="236.5" y2="1200" stroke="#f5f5f5" stroke-width="1" stroke-dasharray="6,6" stroke-dashoffset="1"/>
<line x1="247.5" y1="1025" x2="247.5" y2="1200" stroke="#f5f5f5" stroke-width="1" stroke-dasharray="6,6" stroke-dashoffset="1"/>
<line x1="258.5" y1="1025" x2="258.5" y2="1200" stroke="#f5f5f5" stroke-width="1" stroke-dasharray="6,6" stroke-dashoffset="1"/>
<line x1="280.5" y1="1025" x2="280.5" y2="1200" stroke="#f5f5f5" stroke-width="1" stroke-dasharray="6,6" stroke-dashoffset="1"/>
<line x1="291.5" y1="1025" x2="291.5" y2="1200" stroke="#f5f5f5" stroke-width="1" stroke-dasharray="6,6" stroke-dashoffset="1"/>
<line x1="302.5" y1="1025" x2="302.5" y2="1200" stroke="#f5f5f5" stroke-width="1" stroke-dasharray="6,6" stroke-dashoffset="1"/>
<line x1="313.5" y1="1025" x2="313.5" y2="1200" stroke="#f5f5f5" stroke-width="1" stroke-dasharray="6,6" stroke-dashoffset="1"/>
<line x1="335.5" y1="1025" x2="335.5" y2="1200" stroke="#f5f5f5" stroke-width="1" stroke-dasharray="6,6" stroke-dashoffset="1"/>
<line x1="346.5" y1="1025" x2="346.5" y2="1200" stroke="#f5f5f5" stroke-width="1" stroke-dasharray="6,6" stroke-dashoffset="1"/>
<line x1="357.5" y1="1025" x2="357.5" y2="1200" stroke="#f5f5f5" stroke-width="1" stroke-dasharray="6,6" stroke-dashoffset="1"/>
<line x1="367.5" y1="1025" x2="367.5" y2="1200" stroke="#f5f5f5" stroke-width="1" stroke-dasharray="6,6" stroke-dashoffset="1"/>
<line x1="389.5" y1="1025" x2="389.5" y2="1200" stroke="#f5f5f5" stroke-width="1" stroke-dasharray="6,6" stroke-dashoffset="1"/>
<line x1="400.5" y1="1025" x2="400.5" y2="1200" stroke="#f5f5f5" stroke-width="1" stroke-dasharray="6,6" stroke-dashoffset="1"/>
<line x1="411.5" y1="1025" x2="411.5" y2="1200" stroke="#f5f5f5" stroke-width="1" stroke-dasharray="6,6" stroke-dashoffset="1"/>
<line x1="422.5" y1="1025" x2="422.5" y2="1200" stroke="#f5f5f5" stroke-width="1" stroke-dasharray="6,6" stroke-dashoffset="1"/>
<line x1="444.5" y1="1025" x2="444.5" y2="1200" stroke="#f5f5f5" stroke-width="1" stroke-dasharray="6,6" stroke-dashoffset="1"/>
<line x1="455.5" y1="1025" x2="455.5" y2="1200" stroke="#f5f5f5" stroke-width="1" stroke-dasharray="6,6" stroke-dashoffset="1"/>
<line x1="466.5" y1="1025" x2="466.5" y2="1200" stroke="#f5f5f5" stroke-width="1" stroke-dasharray="6,6" stroke-dashoffset="1"/>
<line x1="477.5" y1="1025" x2="477.5" y2="1200" stroke="#f5f5f5" stroke-width="1" stroke-dasharray="6,6" stroke-dashoffset="1"/>
<line x1="499.5" y1="1025" x2="499.5" y2="1200" stroke="#f5f5f5" stroke-width="1" stroke-dasharray="6,6" stroke-dashoffset="1"/>
<line x1="510.5" y1="1025" x2="510.5" y2="1200" stroke="#f5f5f5" stroke-width="1" stroke-dasharray="6,6" stroke-dashoffset="1"/>
<line x1="521.5" y1="1025" x2="521.5" y2="1200" stroke="#f5f5f5" stroke-width="1" stroke-dasharray="6,6" stroke-dashoffset="1"/>
<line x1="532.5" y1="1025" x2="532.5" y2="1200" stroke="#f5f5f5" stroke-width="1" stroke-dasharray="6,6" stroke-dashoffset="1"/>
<line x1="553.5" y1="1025" x2="553.5" y2="1200" stroke="#f5f5f5" stroke-width="1" stroke-dasharray="6,6" stroke-dashoffset="1"/>
<line x1="564.5" y1="1025" x2="564.5" y2="1200" stroke="#f5f5f5" stroke-width="1" stroke-dasharray="6,6" stroke-dashoffset="1"/>
<line x1="575.5" y1="1025" x2="575.5" y2="1200" stroke="#f5f5f5" stroke-width="1" stroke-dasharray="6,6" stroke-dashoffset="1"/>
<line x1="586.5" y1="1025" x2="586.5" y2="1200" stroke="#f5f5f5" stroke-width="1" stroke-dasharray="6,6" stroke-dashoffset="1"/>
<line x1="608.5" y1="1025" x2="608.5" y2="1200" stroke="#f5f5f5" stroke-width="1" stroke-dasharray="6,6" stroke-dashoffset="1"/>
<line x1="619.5" y1="1025" x2="619.5" y2="1200" stroke="#f5f5f5" stroke-width="1" stroke-dasharray="6,6" stroke-dashoffset="1"/>
<line x1="630.5" y1="1025" x2="630.5" y2="1200" stroke="#f5f5f5" stroke-width="1" stroke-dasharray="6,6" stroke-dashoffset="1"/>
<line x1="641.5" y1="1025" x2="641.5" y2="1200" stroke="#f5f5f5" stroke-width="1" stroke-dasharray="6,6" stroke-dashoffset="1"/>
<line x1="663.5" y1="1025" x2="663.5" y2="1200" stroke="#f5f5f5" stroke-width="1" stroke-dasharray="6,6" stroke-dashoffset="1"/>
<line x1="674.5" y1="1025" x2="674.5" y2="1200" stroke="#f5f5f5" stroke-width="1" stroke-dasharray="6,6" stroke-dashoffset="1"/>
<line x1="685.5" y1="1025" x2="685.5" y2="1200" stroke="#f5f5f5" stroke-width="1" stroke-dasharray="6,6" stroke-dashoffset="1"/>
<line x1="696.5" y1="1025" x2="696.5" y2="1200" stroke="#f5f5f5" stroke-width="1" stroke-dasharray="6,6" stroke-dashoffset="1"/>
<line x1="717.5" y1="1025" x2="717.5" y2="1200" stroke="#f5f5f5" stroke-width="1" stroke-dasharray="6,6" stroke-dashoffset="1"/>
<line x1="728.5" y1="1025" x2="728.5" y2="1200" stroke="#f5f5f5" stroke-width="1" stroke-dasharray="6,6" stroke-dashoffset="1"/>
<line x1="739.5" y1="1025" x2="739.5" y2="1200" stroke="#f5f5f5" stroke-width="1" stroke-dasharray="6,6" stroke-dashoffset="1"/>
<line x1="750.5" y1="1025" x2="750.5" y2="1200" stroke="#f5f5f5" stroke-width="1" stroke-dasharray="6,6" stroke-dashoffset="1"/>
<line x1="772.5" y1="1025" x2="772.5" y2="1200" stroke="#f5f5f5" stroke-width="1" stroke-dasharray="6,6" stroke-dashoffset="1"/>
<line x1="783.5" y1="1025" x2="783.5" y2="1200" stroke="#f5f5f5" stroke-width="1" stroke-dasharray="6,6" stroke-dashoffset="1"/>
<line x1="794.5" y1="1025" x2="794.5" y2="1200" stroke="#f5f5f5" stroke-width="1" stroke-dasharray="6,6" stroke-dashoffset="1"/>
<line x1="805.5" y1="1025" x2="805.5" y2="1200" stroke="#f5f5f5" stroke-width="1" stroke-dasharray="6,6" stroke-dashoffset="1"/>
<line x1="827.5" y1="1025" x2="827.5" y2="1200" stroke="#f5f5f5" stroke-width="1" stroke-dasharray="6,6" stroke-dashoffset="1"/>
<line x1="838.5" y1="1025" x2="838.5" y2="1200" stroke="#f5f5f5" stroke-width="1" stroke-dasharray="6,6" stroke-dashoffset="1"/>
<line x1="849.5" y1="1025" x2="849.5" y2="1200" stroke="#f5f5f5" stroke-width="1" stroke-dasharray="6,6" stroke-dashoffset="1"/>
<line x1="860.5" y1="1025" x2="860.5" y2="1200" stroke="#f5f5f5" stroke-width="1" stroke-dasharray="6,6" stroke-dashoffset="1"/>
<line x1="882.5" y1="1025" x2="882.5" y2="1200" stroke="#f5f5f5" stroke-width="1" stroke-dasharray="6,6" stroke-dashoffset="1"/>
<line x1="892.5" y1="1025" x2="892.5" y2="1200" stroke="#f5f5f5" stroke-width="1" stroke-dasharray="6,6" stroke-dashoffset="1"/>
<line x1="903.5" y1="1025" x2="903.5" y2="1200" stroke="#f5f5f5" stroke-width="1" stroke-dasharray="6,6" stroke-dashoffset="1"/>
<line x1="914.5" y1="1025" x2="914.5" y2="1200" stroke="#f5f5f5" stroke-width="1" stroke-dasharray="6,6" stroke-dashoffset="1"/>
<line x1="936.5" y1="1025" x2="936.5" y2="1200" stroke="#f5f5f5" stroke-width="1" stroke-dasharray="6,6" stroke-dashoffset="1"/>
<line x1="947.5" y1="1025" x2="947.5" y2="1200" stroke="#f5f5f5" stroke-width="1" stroke-dasharray="6,6" stroke-dashoffset="1"/>
<line x1="958.5" y1="1025" x2="958.5" y2="1200" stroke="#f5f5f5" stroke-width="1" stroke-dasharray="6,6" stroke-dashoffset="1"/>
<line x1="969.5" y1="1025" x2="969.5" y2="1200" stroke="#f5f5f5" stroke-width="1" stroke-dasharray="6,6" stroke-dashoffset="1"/>
<line x1="991.5" y1="1025" x2="991.5" y2="1200" stroke="#f5f5f5" stroke-width="1" stroke-dasharray="6,6" stroke-dashoffset="1"/>
<line x1="1002.5" y1="1025" x2="1002.5" y2="1200" stroke="#f5f5f5" stroke-width="1" stroke-dasharray="6,6" stroke-dashoffset="1"/>
<line x1="1013.5" y1="1025" x2="1013.5" y2="1200" stroke="#f5f5f5" stroke-width="1" stroke-dasharray="6,6" stroke-dashoffset="1"/>
<line x1="1024.5" y1="1025" x2="1024.5" y2="1200" stroke="#f5f5f5" stroke-width="1" stroke-dasharray="6,6" stroke-dashoffset="1"/>
<line x1="1046.5" y1="1025" x2="1046.5" y2="1200" stroke="#f5f5f5" stroke-width="1" stroke-dasharray="6,6" stroke-dashoffset="1"/>
<line x1="1057.5" y1="1025" x2="1057.5" y2="1200" stroke="#f5f5f5" stroke-width="1" stroke-dasharray="6,6" stroke-dashoffset="1"/>
<line x1="1067.5" y1="1025" x2="1067.5" y2="1200" stroke="#f5f5f5" stroke-width="1" stroke-dasharray="6,6" stroke-dashoffset="1"/>
<line x1="1078.5" y1="1025" x2="1078.5" y2="1200" stroke="#f5f5f5" stroke-width="1" stroke-dasharray="6,6" stroke-dashoffset="1"/>
<line x1="1100.5" y1="1025" x2="1100.5" y2="1200" stroke="#f5f5f5" stroke-width="1" stroke-dasharray="6,6" stroke-dashoffset="1"/>
<line x1="1111.5" y1="1025" x2="1111.5" y2="1200" stroke="#f5f5f5" stroke-width="1" stroke-dasharray="6,6" stroke-dashoffset="1"/>
<line x1="1122.5" y1="1025" x2="1122.5" y2="1200" stroke="#f5f5f5" stroke-width="1" stroke-dasharray="6,6" stroke-dashoffset="1"/>
<line x1="1133.5" y1="1025" x2="1133.5" y2="1200" stroke="#f5f5f5" stroke-width="1" stroke-dasharray="6,6" stroke-dashoffset="1"/>
<line x1="105.5" y1="1025" x2="105.5" y2="1200" stroke="#dcdcdc" stroke-width="1" stroke-dasharray="4,4" stroke-dashoffset="1"/>
<line x1="160.5" y1="1025" x2="160.5" y2="1200" stroke="#dcdcdc" stroke-width="1" stroke-dasharray="4,4" stroke-dashoffset="1"/>
<line x1="214.5" y1="1025" x2="214.5" y2="1200" stroke="#dcdcdc" stroke-width="1" stroke-dasharray="4,4" stroke-dashoffset="1"/>
<line x1="269.5" y1="1025" x2="269.5" y2="1200" stroke="#dcdcdc" stroke-width="1" stroke-dasharray="4,4" stroke-dashoffset="1"/>
<line x1="324.5" y1="1025" x2="324.5" y2="1200" stroke="#dcdcdc" stroke-width="1" stroke-dasharray="4,4" stroke-dashoffset="1"/>
<line x1="378.5" y1="1025" x2="378.5" y2="1200" stroke="#dcdcdc" stroke-width="1" stroke-dasharray="4,4" stroke-dashoffset="1"/>
<line x1="433.5" y1="1025" x2="433.5" y2="1200" stroke="#dcdcdc" stroke-width="1" stroke-dasharray="4,4" stroke-dashoffset="1"/>
<line x1="488.5" y1="1025" x2="488.5" y2="1200" stroke="#dcdcdc" stroke-width="1" stroke-dasharray="4,4" stroke-dashoffset="1"/>
<line x1="542.5" y1="1025" x2="542.5" y2="1200" stroke="#dcdcdc" stroke-width="1" stroke-dasharray="4,4" stroke-dashoffset="1"/>
<line x1="597.5" y1="1025" x2="597.5" y2="1200" stroke="#dcdcdc" stroke-width="1" stroke-dasharray="4,4" stroke-dashoffset="1"/>
<line x1="652.5" y1="1025" x2="652.5" y2="1200" stroke="#dcdcdc" stroke-width="1" stroke-dasharray="4,4" stroke-dashoffset="1"/>
<line x1="707.5" y1="1025" x2="707.5" y2="1200" stroke="#dcdcdc" stroke-width="1" stroke-dasharray="4,4" stroke-dashoffset="1"/>
<line x1="761.5" y1="1025" x2="761.5" y2="1200" stroke="#dcdcdc" stroke-width="1" stroke-dasharray="4,4" stroke-dashoffset="1"/>
<line x1="816.5" y1="1025" x2="816.5" y2="1200" stroke="#dcdcdc" stroke-width="1" stroke-dasharray="4,4" stroke-dashoffset="1"/>
<line x1="871.5" y1="1025" x2="871.5" y2="1200" stroke="#dcdcdc" stroke-width="1" stroke-dasharray="4,4" stroke-dashoffset="1"/>
<line x1="925.5" y1="1025" x2="925.5" y2="1200" stroke="#dcdcdc" stroke-width="1" stroke-dasharray="4,4" stroke-dashoffset="1"/>
<line x1="980.5" y1="1025" x2="980.5" y2="1200" stroke="#dcdcdc" stroke-width="1" stroke-dasharray="4,4" stroke-dashoffset="1"/>
<line x1="1035.5" y1="1025" x2="1035.5" y2="1200" stroke="#dcdcdc" stroke-width="1" stroke-dasharray="4,4" stroke-dashoffset="1"/>
<line x1="1089.5" y1="1025" x2="1089.5" y2="1200" stroke="#dcdcdc" stroke-width="1" stroke-dasharray="4,4" stroke-dashoffset="1"/>
<line x1="1144.5" y1="1025" x2="1144.5" y2="1200" stroke="#dcdcdc" stroke-width="1" stroke-dasharray="4,4" stroke-dashoffset="1"/>
<line x1="101" y1="1200.5" x2="1151" y2="1200.5" stroke="#dcdcdc" stroke-width="1" stroke-dasharray="4,4" stroke-dashoffset="2"/>
<line x1="101" y1="1165.5" x2="1151" y2="1165.5" stroke="#dcdcdc" stroke-width="1" stroke-dasharray="4,4" stroke-dashoffset="2"/>
<line x1="101" y1="1130.5" x2="1151" y2="1130.5" stroke="#dcdcdc" stroke-width="1" stroke-dasharray="4,4" stroke-dashoffset="2"/>
<line x1="101" y1="1095.5" x2="1151" y2="1095.5" stroke="#dcdcdc" stroke-width="1" stroke-dasharray="4,4" stroke-dashoffset="2"/>
<line x1="101" y1="1060.5" x2="1151" y2="1060.5" stroke="#dcdcdc" stroke-width="1" stroke-dasharray="4,4" stroke-dashoffset="2"/>
<line x1="101" y1="1025.5" x2="1151" y2="1025.5" stroke="#dcdcdc" stroke-width="1" stroke-dasharray="4,4" stroke-dashoffset="2"/>
<line x1="105" y1="1112.5" x2="1145" y2="1112.5" stroke="#6e6e6e" stroke-width="1"/>
<polyline points="105.40,1064.17 111.25,1066.88 115.75,1067.33 127.45,1060.80 138.70,1073.17 145.00,1072.05 149.28,1071.38 160.07,1070.25 171.10,1072.50 182.12,1069.58 192.93,1067.55 200.12,1064.17 205.75,1066.88 210.25,1071.38 214.75,1079.25 221.50,1080.38 229.38,1075.88 237.25,1066.88 244.00,1065.75 248.50,1065.75 257.50,1062.38 262.00,1063.50 269.20,1077.00 280.00,1078.58 289.00,1075.42 292.38,1077.00 302.50,1095.00 311.50,1095.00 319.38,1089.38 325.00,1083.75 331.75,1082.62 346.38,1093.20 358.75,1082.62 369.50,1077.45 377.38,1075.42 388.62,1068.45 394.25,1070.92 401.00,1075.42 406.62,1073.62 412.25,1073.40 420.12,1077.45 425.75,1082.17 433.18,1090.05 439.25,1086.00 444.88,1081.50 450.50,1080.38 459.50,1079.92 465.12,1079.25 470.75,1081.50 476.38,1084.42 482.00,1083.75 488.75,1081.50 495.50,1082.17 500.00,1083.30 506.75,1085.55 513.50,1092.75 519.80,1102.42 525.88,1096.12 531.95,1089.38 537.12,1096.12 542.75,1102.42 552.88,1097.70 558.50,1099.05 564.12,1099.05 575.38,1092.08 586.62,1101.75 599.00,1112.33 608.00,1117.95 618.12,1125.38 630.50,1125.38 641.25,1135.95 651.83,1129.20 662.62,1134.38 667.12,1128.75 673.88,1115.25 679.50,1108.95 686.25,1104.67 695.25,1099.50 704.25,1097.25 708.75,1097.70 716.62,1102.20 724.50,1100.62 733.50,1098.15 738.00,1098.38 744.75,1104.00 750.38,1109.17 754.88,1102.88 760.50,1097.25 769.50,1093.42 778.50,1097.25 784.12,1102.20 788.62,1108.95 793.80,1115.25 798.75,1113.00 805.05,1109.62 810.00,1110.75 815.62,1111.88 822.38,1108.95 828.00,1107.60 835.88,1105.12 848.25,1105.12 855.00,1106.92 859.50,1107.38 865.12,1103.33 871.88,1096.80 877.50,1095.67 885.38,1095.67 891.00,1094.33 901.75,1099.50 913.00,1107.38 925.38,1107.38 935.50,1104.00 941.12,1097.70 947.88,1088.25 954.62,1083.30 960.25,1081.05 967.00,1079.92 971.50,1081.50 976.00,1091.62 980.50,1101.30 989.50,1097.25 1000.75,1092.75 1007.50,1102.20 1014.25,1110.75 1023.25,1116.38 1030.00,1114.58 1035.62,1113.00 1044.62,1109.62 1050.25,1109.62 1057.00,1108.95 1062.62,1100.62 1067.80,1092.75 1075.00,1095.00 1081.75,1099.50 1088.50,1104.67 1095.25,1108.05 1102.00,1110.30 1106.50,1109.62 1112.12,1109.17 1117.75,1111.88 1124.50,1115.25 1132.38,1120.42 1139.12,1114.12 1144.75,1106.92" fill="none" stroke="#ff4040" stroke-width="1" shape-rendering="crispEdges"/>
<rect x="100" y="1018" width="1" height="183" fill="#000"/>
<path d="M100 1013h1v1h1v2h1v2h1v2h-7v-2h1v-2h1v-2h1z" fill="#000"/>
<rect x="100" y="1200" width="1062" height="1" fill="#000"/>
<path d="M1155 1197h2v1h2v1h2v1h1v1h-1v1h-2v1h-2v1h-2z" fill="#000"/>
<rect x="98" y="1200" width="5" height="1" fill="#000"/>
<text x="96" y="1204" font-size="11" text-anchor="end" fill="#000">0.00</text>
<rect x="98" y="1182" width="2" height="1" fill="#f00"/>
<rect x="98" y="1165" width="5" height="1" fill="#000"/>
<text x="96" y="1169" font-size="11" text-anchor="end" fill="#000">20.00</text>
<rect x="98" y="1147" width="2" height="1" fill="#f00"/>
<rect x="98" y="1130" width="5" height="1" fill="#000"/>
<text x="96" y="1134" font-size="11" text-anchor="end" fill="#000">40.00</text>
<rect x="98" y="1112" width="2" height="1" fill="#f00"/>
<rect x="98" y="1095" width="5" height="1" fill="#000"/>
<text x="96" y="1099" font-size="11" text-anchor="end" fill="#000">60.00</text>
<rect x="98" y="1077" width="2" height="1" fill="#f00"/>
<rect x="98" y="1060" width="5" height="1" fill="#000"/>
<text x="96" y="1064" font-size="11" text-anchor="end" fill="#000">80.00</text>
<rect x="98" y="1042" width="2" height="1" fill="#f00"/>
<rect x="98" y="1025" width="5" height="1" fill="#000"/>
<text x="96" y="1029" font-size="11" text-anchor="end" fill="#000">100.00</text>
<rect x="105" y="1198" width="1" height="5" fill="#000"/>
<text x="104.3" y="1213.5" font-size="11" text-anchor="middle" fill="#000">26 Fév</text>
<rect x="116" y="1201" width="1" height="2" fill="#c8c8c8"/>
<rect x="127" y="1201" width="1" height="2" fill="#c8c8c8"/>
<rect x="138" y="1201" width="1" height="2" fill="#c8c8c8"/>
<rect x="149" y="1201" width="1" height="2" fill="#c8c8c8"/>
<rect x="160" y="1198" width="1" height="5" fill="#000"/>
<text x="159.3" y="1213.5" font-size="11" text-anchor="middle" fill="#000">5 Mars</text>
<rect x="171" y="1201" width="1" height="2" fill="#c8c8c8"/>
<rect x="182" y="1201" width="1" height="2" fill="#c8c8c8"/>
<rect x="192" y="1201" width="1" height="2" fill="#c8c8c8"/>
<rect x="203" y="1201" width="1" height="2" fill="#c8c8c8"/>
<rect x="214" y="1198" width="1" height="5" fill="#000"/>
<text x="213.3" y="1213.5" font-size="11" text-anchor="middle" fill="#000">12 Mars</text>
<rect x="225" y="1201" width="1" height="2" fill="#c8c8c8"/>
<rect x="236" y="1201" width="1" height="2" fill="#c8c8c8"/>
<rect x="247" y="1201" width="1" height="2" fill="#c8c8c8"/>
<rect x="258" y="1201" width="1" height="2" fill="#c8c8c8"/>
<rect x="269" y="1198" width="1" height="5" fill="#000"/>
<text x="268.3" y="1213.5" font-size="11" text-anchor="middle" fill="#000">19 Mars</text>
<rect x="280" y="1201" width="1" height="2" fill="#c8c8c8"/>
<rect x="291" y="1201" width="1" height="2" fill="#c8c8c8"/>
<rect x="302" y="1201" width="1" height="2" fill="#c8c8c8"/>
<rect x="313" y="1201" width="1" height="2" fill="#c8c8c8"/>
<rect x="324" y="1198" width="1" height="5" fill="#000"/>
<text x="323.3" y="1213.5" font-size="11" text-anchor="middle" fill="#000">26 Mars</text>
<rect x="335" y="1201" width="1" height="2" fill="#c8c8c8"/>
<rect x="346" y="1201" width="1" height="2" fill="#c8c8c8"/>
<rect x="357" y="1201" width="1" height="2" fill="#c8c8c8"/>
<rect x="367" y="1201" width="1" height="2" fill="#c8c8c8"/>
<rect x="378" y="1198" width="1" height="5" fill="#000"/>
<text x="377.3" y="1213.5" font-size="11" text-anchor="middle" fill="#000">2 Avr</text>
<rect x="389" y="1201" width="1" height="2" fill="#c8c8c8"/>
<rect x="400" y="1201" width="1" height="2" fill="#c8c8c8"/>
<rect x="411" y="1201" width="1" height="2" fill="#c8c8c8"/>
<rect x="422" y="1201" width="1" height="2" fill="#c8c8c8"/>
<rect x="433" y="1198" width="1" height="5" fill="#000"/>
<text x="432.3" y="1213.5" font-size="11" text-anchor="middle" fill="#000">9 Avr</text>
<rect x="444" y="1201" width="1" height="2" fill="#c8c8c8"/>
<rect x="455" y="1201" width="1" height="2" fill="#c8c8c8"/>
<rect x="466" y="1201" width="1" height="2" fill="#c8c8c8"/>
<rect x="477" y="1201" width="1" height="2" fill="#c8c8c8"/>
<rect x="488" y="1198" width="1" height="5" fill="#000"/>
<text x="487.3" y="1213.5" font-size="11" text-anchor="middle" fill="#000">16 Avr</text>
<rect x="499" y="1201" width="1" height="2" fill="#c8c8c8"/>
<rect x="510" y="1201" width="1" height="2" fill="#c8c8c8"/>
<rect x="521" y="1201" width="1" height="2" fill="#c8c8c8"/>
<rect x="532" y="1201" width="1" height="2" fill="#c8c8c8"/>
<rect x="542" y="1198" width="1" height="5" fill="#000"/>
<text x="541.3" y="1213.5" font-size="11" text-anchor="middle" fill="#000">25 Avr</text>
<rect x="553" y="1201" width="1" height="2" fill="#c8c8c8"/>
<rect x="564" y="1201" width="1" height="2" fill="#c8c8c8"/>
<rect x="575" y="1201" width="1" height="2" fill="#c8c8c8"/>
<rect x="586" y="1201" width="1" height="2" fill="#c8c8c8"/>
<rect x="597" y="1198" width="1" height="5" fill="#000"/>
<text x="596.3" y="1213.5" font-size="11" text-anchor="middle" fill="#000">3 Mai</text>
<rect x="608" y="1201" width="1" height="2" fill="#c8c8c8"/>
<rect x="619" y="1201" width="1" height="2" fill="#c8c8c8"/>
<rect x="630" y="1201" width="1" height="2" fill="#c8c8c8"/>
<rect x="641" y="1201" width="1" height="2" fill="#c8c8c8"/>
<rect x="652" y="1198" width="1" height="5" fill="#000"/>
<text x="651.3" y="1213.5" font-size="11" text-anchor="middle" fill="#000">10 Mai</text>
<rect x="663" y="1201" width="1" height="2" fill="#c8c8c8"/>
<rect x="674" y="1201" width="1" height="2" fill="#c8c8c8"/>
<rect x="685" y="1201" width="1" height="2" fill="#c8c8c8"/>
<rect x="696" y="1201" width="1" height="2" fill="#c8c8c8"/>
<rect x="707" y="1198" width="1" height="5" fill="#000"/>
<text x="706.3" y="1213.5" font-size="11" text-anchor="middle" fill="#000">17 Mai</text>
<rect x="717" y="1201" width="1" height="2" fill="#c8c8c8"/>
<rect x="728" y="1201" width="1" height="2" fill="#c8c8c8"/>
<rect x="739" y="1201" width="1" height="2" fill="#c8c8c8"/>
<rect x="750" y="1201" width="1" height="2" fill="#c8c8c8"/>
<rect x="761" y="1198" width="1" height="5" fill="#000"/>
<text x="760.3" y="1213.5" font-size="11" text-anchor="middle" fill="#000">24 Mai</text>
<rect x="772" y="1201" width="1" height="2" fill="#c8c8c8"/>
<rect x="783" y="1201" width="1" height="2" fill="#c8c8c8"/>
<rect x="794" y="1201" width="1" height="2" fill="#c8c8c8"/>
<rect x="805" y="1201" width="1" height="2" fill="#c8c8c8"/>
<rect x="816" y="1198" width="1" height="5" fill="#000"/>
<text x="815.3" y="1213.5" font-size="11" text-anchor="middle" fill="#000">31 Mai</text>
<rect x="827" y="1201" width="1" height="2" fill="#c8c8c8"/>
<rect x="838" y="1201" width="1" height="2" fill="#c8c8c8"/>
<rect x="849" y="1201" width="1" height="2" fill="#c8c8c8"/>
<rect x="860" y="1201" width="1" height="2" fill="#c8c8c8"/>
<rect x="871" y="1198" width="1" height="5" fill="#000"/>
<text x="870.3" y="1213.5" font-size="11" text-anchor="middle" fill="#000">7 Juin</text>
<rect x="882" y="1201" width="1" height="2" fill="#c8c8c8"/>
<rect x="892" y="1201" width="1" height="2" fill="#c8c8c8"/>
<rect x="903" y="1201" width="1" height="2" fill="#c8c8c8"/>
<rect x="914" y="1201" width="1" height="2" fill="#c8c8c8"/>
<rect x="925" y="1198" width="1" height="5" fill="#000"/>
<text x="924.3" y="1213.5" font-size="11" text-anchor="middle" fill="#000">14 Juin</text>
<rect x="936" y="1201" width="1" height="2" fill="#c8c8c8"/>
<rect x="947" y="1201" width="1" height="2" fill="#c8c8c8"/>
<rect x="958" y="1201" width="1" height="2" fill="#c8c8c8"/>
<rect x="969" y="1201" width="1" height="2" fill="#c8c8c8"/>
<rect x="980" y="1198" width="1" height="5" fill="#000"/>
<text x="979.3" y="1213.5" font-size="11" text-anchor="middle" fill="#000">21 Juin</text>
<rect x="991" y="1201" width="1" height="2" fill="#c8c8c8"/>
<rect x="1002" y="1201" width="1" height="2" fill="#c8c8c8"/>
<rect x="1013" y="1201" width="1" height="2" fill="#c8c8c8"/>
<rect x="1024" y="1201" width="1" height="2" fill="#c8c8c8"/>
<rect x="1035" y="1198" width="1" height="5" fill="#000"/>
<text x="1034.3" y="1213.5" font-size="11" text-anchor="middle" fill="#000">28 Juin</text>
<rect x="1046" y="1201" width="1" height="2" fill="#c8c8c8"/>
<rect x="1057" y="1201" width="1" height="2" fill="#c8c8c8"/>
<rect x="1067" y="1201" width="1" height="2" fill="#c8c8c8"/>
<rect x="1078" y="1201" width="1" height="2" fill="#c8c8c8"/>
<rect x="1089" y="1198" width="1" height="5" fill="#000"/>
<text x="1088.3" y="1213.5" font-size="11" text-anchor="middle" fill="#000">5 Juil</text>
<rect x="1100" y="1201" width="1" height="2" fill="#c8c8c8"/>
<rect x="1111" y="1201" width="1" height="2" fill="#c8c8c8"/>
<rect x="1122" y="1201" width="1" height="2" fill="#c8c8c8"/>
<rect x="1133" y="1201" width="1" height="2" fill="#c8c8c8"/>
<rect x="1144" y="1198" width="1" height="5" fill="#000"/>
<text x="1143.3" y="1213.5" font-size="11" text-anchor="middle" fill="#000">12 Juil</text>
<text x="503.6" y="1226.5" font-size="11" fill="#000" textLength="241.8" lengthAdjust="spacingAndGlyphs">Date (du 26 Février 2019 au 12 Juillet 2019)</text>
<text transform="translate(55,1112.5) rotate(-90)" font-size="11" text-anchor="middle" fill="#000" textLength="20.5" lengthAdjust="spacingAndGlyphs">RSI</text>
<text x="111.25" y="1294" font-size="24" fill="#000" textLength="67.00" lengthAdjust="spacingAndGlyphs">Vinci:</text>
<text x="186.51" y="1294" font-size="24" fill="#000" textLength="121.13" lengthAdjust="spacingAndGlyphs">graphique</text>
<text x="315.48" y="1294" font-size="24" fill="#000" textLength="30.99" lengthAdjust="spacingAndGlyphs">du</text>
<text x="353.98" y="1294" font-size="24" fill="#000" textLength="73.49" lengthAdjust="spacingAndGlyphs">MACD</text>
<text x="436.00" y="1294" font-size="24" fill="#000">-</text>
<text x="453.96" y="1294" font-size="24" fill="#000" textLength="190.38" lengthAdjust="spacingAndGlyphs">MACD(12,26,9)</text>
<text x="653.30" y="1294" font-size="24" fill="#000">-</text>
<text x="669.30" y="1294" font-size="24" fill="#000" textLength="208.09" lengthAdjust="spacingAndGlyphs">AnalyBourse.com</text>
<rect x="101" y="1441" width="1050" height="29" fill="#f8f8f8"/>
<rect x="101" y="1383" width="1050" height="29" fill="#f8f8f8"/>
<rect x="101" y="1325" width="1050" height="29" fill="#f8f8f8"/>
<line x1="116.5" y1="1325" x2="116.5" y2="1500" stroke="#f5f5f5" stroke-width="1" stroke-dasharray="6,6" stroke-dashoffset="1"/>
<line x1="127.5" y1="1325" x2="127.5" y2="1500" stroke="#f5f5f5" stroke-width="1" stroke-dasharray="6,6" stroke-dashoffset="1"/>
<line x1="138.5" y1="1325" x2="138.5" y2="1500" stroke="#f5f5f5" stroke-width="1" stroke-dasharray="6,6" stroke-dashoffset="1"/>
<line x1="149.5" y1="1325" x2="149.5" y2="1500" stroke="#f5f5f5" stroke-width="1" stroke-dasharray="6,6" stroke-dashoffset="1"/>
<line x1="171.5" y1="1325" x2="171.5" y2="1500" stroke="#f5f5f5" stroke-width="1" stroke-dasharray="6,6" stroke-dashoffset="1"/>
<line x1="182.5" y1="1325" x2="182.5" y2="1500" stroke="#f5f5f5" stroke-width="1" stroke-dasharray="6,6" stroke-dashoffset="1"/>
<line x1="192.5" y1="1325" x2="192.5" y2="1500" stroke="#f5f5f5" stroke-width="1" stroke-dasharray="6,6" stroke-dashoffset="1"/>
<line x1="203.5" y1="1325" x2="203.5" y2="1500" stroke="#f5f5f5" stroke-width="1" stroke-dasharray="6,6" stroke-dashoffset="1"/>
<line x1="225.5" y1="1325" x2="225.5" y2="1500" stroke="#f5f5f5" stroke-width="1" stroke-dasharray="6,6" stroke-dashoffset="1"/>
<line x1="236.5" y1="1325" x2="236.5" y2="1500" stroke="#f5f5f5" stroke-width="1" stroke-dasharray="6,6" stroke-dashoffset="1"/>
<line x1="247.5" y1="1325" x2="247.5" y2="1500" stroke="#f5f5f5" stroke-width="1" stroke-dasharray="6,6" stroke-dashoffset="1"/>
<line x1="258.5" y1="1325" x2="258.5" y2="1500" stroke="#f5f5f5" stroke-width="1" stroke-dasharray="6,6" stroke-dashoffset="1"/>
<line x1="280.5" y1="1325" x2="280.5" y2="1500" stroke="#f5f5f5" stroke-width="1" stroke-dasharray="6,6" stroke-dashoffset="1"/>
<line x1="291.5" y1="1325" x2="291.5" y2="1500" stroke="#f5f5f5" stroke-width="1" stroke-dasharray="6,6" stroke-dashoffset="1"/>
<line x1="302.5" y1="1325" x2="302.5" y2="1500" stroke="#f5f5f5" stroke-width="1" stroke-dasharray="6,6" stroke-dashoffset="1"/>
<line x1="313.5" y1="1325" x2="313.5" y2="1500" stroke="#f5f5f5" stroke-width="1" stroke-dasharray="6,6" stroke-dashoffset="1"/>
<line x1="335.5" y1="1325" x2="335.5" y2="1500" stroke="#f5f5f5" stroke-width="1" stroke-dasharray="6,6" stroke-dashoffset="1"/>
<line x1="346.5" y1="1325" x2="346.5" y2="1500" stroke="#f5f5f5" stroke-width="1" stroke-dasharray="6,6" stroke-dashoffset="1"/>
<line x1="357.5" y1="1325" x2="357.5" y2="1500" stroke="#f5f5f5" stroke-width="1" stroke-dasharray="6,6" stroke-dashoffset="1"/>
<line x1="367.5" y1="1325" x2="367.5" y2="1500" stroke="#f5f5f5" stroke-width="1" stroke-dasharray="6,6" stroke-dashoffset="1"/>
<line x1="389.5" y1="1325" x2="389.5" y2="1500" stroke="#f5f5f5" stroke-width="1" stroke-dasharray="6,6" stroke-dashoffset="1"/>
<line x1="400.5" y1="1325" x2="400.5" y2="1500" stroke="#f5f5f5" stroke-width="1" stroke-dasharray="6,6" stroke-dashoffset="1"/>
<line x1="411.5" y1="1325" x2="411.5" y2="1500" stroke="#f5f5f5" stroke-width="1" stroke-dasharray="6,6" stroke-dashoffset="1"/>
<line x1="422.5" y1="1325" x2="422.5" y2="1500" stroke="#f5f5f5" stroke-width="1" stroke-dasharray="6,6" stroke-dashoffset="1"/>
<line x1="444.5" y1="1325" x2="444.5" y2="1500" stroke="#f5f5f5" stroke-width="1" stroke-dasharray="6,6" stroke-dashoffset="1"/>
<line x1="455.5" y1="1325" x2="455.5" y2="1500" stroke="#f5f5f5" stroke-width="1" stroke-dasharray="6,6" stroke-dashoffset="1"/>
<line x1="466.5" y1="1325" x2="466.5" y2="1500" stroke="#f5f5f5" stroke-width="1" stroke-dasharray="6,6" stroke-dashoffset="1"/>
<line x1="477.5" y1="1325" x2="477.5" y2="1500" stroke="#f5f5f5" stroke-width="1" stroke-dasharray="6,6" stroke-dashoffset="1"/>
<line x1="499.5" y1="1325" x2="499.5" y2="1500" stroke="#f5f5f5" stroke-width="1" stroke-dasharray="6,6" stroke-dashoffset="1"/>
<line x1="510.5" y1="1325" x2="510.5" y2="1500" stroke="#f5f5f5" stroke-width="1" stroke-dasharray="6,6" stroke-dashoffset="1"/>
<line x1="521.5" y1="1325" x2="521.5" y2="1500" stroke="#f5f5f5" stroke-width="1" stroke-dasharray="6,6" stroke-dashoffset="1"/>
<line x1="532.5" y1="1325" x2="532.5" y2="1500" stroke="#f5f5f5" stroke-width="1" stroke-dasharray="6,6" stroke-dashoffset="1"/>
<line x1="553.5" y1="1325" x2="553.5" y2="1500" stroke="#f5f5f5" stroke-width="1" stroke-dasharray="6,6" stroke-dashoffset="1"/>
<line x1="564.5" y1="1325" x2="564.5" y2="1500" stroke="#f5f5f5" stroke-width="1" stroke-dasharray="6,6" stroke-dashoffset="1"/>
<line x1="575.5" y1="1325" x2="575.5" y2="1500" stroke="#f5f5f5" stroke-width="1" stroke-dasharray="6,6" stroke-dashoffset="1"/>
<line x1="586.5" y1="1325" x2="586.5" y2="1500" stroke="#f5f5f5" stroke-width="1" stroke-dasharray="6,6" stroke-dashoffset="1"/>
<line x1="608.5" y1="1325" x2="608.5" y2="1500" stroke="#f5f5f5" stroke-width="1" stroke-dasharray="6,6" stroke-dashoffset="1"/>
<line x1="619.5" y1="1325" x2="619.5" y2="1500" stroke="#f5f5f5" stroke-width="1" stroke-dasharray="6,6" stroke-dashoffset="1"/>
<line x1="630.5" y1="1325" x2="630.5" y2="1500" stroke="#f5f5f5" stroke-width="1" stroke-dasharray="6,6" stroke-dashoffset="1"/>
<line x1="641.5" y1="1325" x2="641.5" y2="1500" stroke="#f5f5f5" stroke-width="1" stroke-dasharray="6,6" stroke-dashoffset="1"/>
<line x1="663.5" y1="1325" x2="663.5" y2="1500" stroke="#f5f5f5" stroke-width="1" stroke-dasharray="6,6" stroke-dashoffset="1"/>
<line x1="674.5" y1="1325" x2="674.5" y2="1500" stroke="#f5f5f5" stroke-width="1" stroke-dasharray="6,6" stroke-dashoffset="1"/>
<line x1="685.5" y1="1325" x2="685.5" y2="1500" stroke="#f5f5f5" stroke-width="1" stroke-dasharray="6,6" stroke-dashoffset="1"/>
<line x1="696.5" y1="1325" x2="696.5" y2="1500" stroke="#f5f5f5" stroke-width="1" stroke-dasharray="6,6" stroke-dashoffset="1"/>
<line x1="717.5" y1="1325" x2="717.5" y2="1500" stroke="#f5f5f5" stroke-width="1" stroke-dasharray="6,6" stroke-dashoffset="1"/>
<line x1="728.5" y1="1325" x2="728.5" y2="1500" stroke="#f5f5f5" stroke-width="1" stroke-dasharray="6,6" stroke-dashoffset="1"/>
<line x1="739.5" y1="1325" x2="739.5" y2="1500" stroke="#f5f5f5" stroke-width="1" stroke-dasharray="6,6" stroke-dashoffset="1"/>
<line x1="750.5" y1="1325" x2="750.5" y2="1500" stroke="#f5f5f5" stroke-width="1" stroke-dasharray="6,6" stroke-dashoffset="1"/>
<line x1="772.5" y1="1325" x2="772.5" y2="1500" stroke="#f5f5f5" stroke-width="1" stroke-dasharray="6,6" stroke-dashoffset="1"/>
<line x1="783.5" y1="1325" x2="783.5" y2="1500" stroke="#f5f5f5" stroke-width="1" stroke-dasharray="6,6" stroke-dashoffset="1"/>
<line x1="794.5" y1="1325" x2="794.5" y2="1500" stroke="#f5f5f5" stroke-width="1" stroke-dasharray="6,6" stroke-dashoffset="1"/>
<line x1="805.5" y1="1325" x2="805.5" y2="1500" stroke="#f5f5f5" stroke-width="1" stroke-dasharray="6,6" stroke-dashoffset="1"/>
<line x1="827.5" y1="1325" x2="827.5" y2="1500" stroke="#f5f5f5" stroke-width="1" stroke-dasharray="6,6" stroke-dashoffset="1"/>
<line x1="838.5" y1="1325" x2="838.5" y2="1500" stroke="#f5f5f5" stroke-width="1" stroke-dasharray="6,6" stroke-dashoffset="1"/>
<line x1="849.5" y1="1325" x2="849.5" y2="1500" stroke="#f5f5f5" stroke-width="1" stroke-dasharray="6,6" stroke-dashoffset="1"/>
<line x1="860.5" y1="1325" x2="860.5" y2="1500" stroke="#f5f5f5" stroke-width="1" stroke-dasharray="6,6" stroke-dashoffset="1"/>
<line x1="882.5" y1="1325" x2="882.5" y2="1500" stroke="#f5f5f5" stroke-width="1" stroke-dasharray="6,6" stroke-dashoffset="1"/>
<line x1="892.5" y1="1325" x2="892.5" y2="1500" stroke="#f5f5f5" stroke-width="1" stroke-dasharray="6,6" stroke-dashoffset="1"/>
<line x1="903.5" y1="1325" x2="903.5" y2="1500" stroke="#f5f5f5" stroke-width="1" stroke-dasharray="6,6" stroke-dashoffset="1"/>
<line x1="914.5" y1="1325" x2="914.5" y2="1500" stroke="#f5f5f5" stroke-width="1" stroke-dasharray="6,6" stroke-dashoffset="1"/>
<line x1="936.5" y1="1325" x2="936.5" y2="1500" stroke="#f5f5f5" stroke-width="1" stroke-dasharray="6,6" stroke-dashoffset="1"/>
<line x1="947.5" y1="1325" x2="947.5" y2="1500" stroke="#f5f5f5" stroke-width="1" stroke-dasharray="6,6" stroke-dashoffset="1"/>
<line x1="958.5" y1="1325" x2="958.5" y2="1500" stroke="#f5f5f5" stroke-width="1" stroke-dasharray="6,6" stroke-dashoffset="1"/>
<line x1="969.5" y1="1325" x2="969.5" y2="1500" stroke="#f5f5f5" stroke-width="1" stroke-dasharray="6,6" stroke-dashoffset="1"/>
<line x1="991.5" y1="1325" x2="991.5" y2="1500" stroke="#f5f5f5" stroke-width="1" stroke-dasharray="6,6" stroke-dashoffset="1"/>
<line x1="1002.5" y1="1325" x2="1002.5" y2="1500" stroke="#f5f5f5" stroke-width="1" stroke-dasharray="6,6" stroke-dashoffset="1"/>
<line x1="1013.5" y1="1325" x2="1013.5" y2="1500" stroke="#f5f5f5" stroke-width="1" stroke-dasharray="6,6" stroke-dashoffset="1"/>
<line x1="1024.5" y1="1325" x2="1024.5" y2="1500" stroke="#f5f5f5" stroke-width="1" stroke-dasharray="6,6" stroke-dashoffset="1"/>
<line x1="1046.5" y1="1325" x2="1046.5" y2="1500" stroke="#f5f5f5" stroke-width="1" stroke-dasharray="6,6" stroke-dashoffset="1"/>
<line x1="1057.5" y1="1325" x2="1057.5" y2="1500" stroke="#f5f5f5" stroke-width="1" stroke-dasharray="6,6" stroke-dashoffset="1"/>
<line x1="1067.5" y1="1325" x2="1067.5" y2="1500" stroke="#f5f5f5" stroke-width="1" stroke-dasharray="6,6" stroke-dashoffset="1"/>
<line x1="1078.5" y1="1325" x2="1078.5" y2="1500" stroke="#f5f5f5" stroke-width="1" stroke-dasharray="6,6" stroke-dashoffset="1"/>
<line x1="1100.5" y1="1325" x2="1100.5" y2="1500" stroke="#f5f5f5" stroke-width="1" stroke-dasharray="6,6" stroke-dashoffset="1"/>
<line x1="1111.5" y1="1325" x2="1111.5" y2="1500" stroke="#f5f5f5" stroke-width="1" stroke-dasharray="6,6" stroke-dashoffset="1"/>
<line x1="1122.5" y1="1325" x2="1122.5" y2="1500" stroke="#f5f5f5" stroke-width="1" stroke-dasharray="6,6" stroke-dashoffset="1"/>
<line x1="1133.5" y1="1325" x2="1133.5" y2="1500" stroke="#f5f5f5" stroke-width="1" stroke-dasharray="6,6" stroke-dashoffset="1"/>
<line x1="105.5" y1="1325" x2="105.5" y2="1500" stroke="#dcdcdc" stroke-width="1" stroke-dasharray="4,4" stroke-dashoffset="1"/>
<line x1="160.5" y1="1325" x2="160.5" y2="1500" stroke="#dcdcdc" stroke-width="1" stroke-dasharray="4,4" stroke-dashoffset="1"/>
<line x1="214.5" y1="1325" x2="214.5" y2="1500" stroke="#dcdcdc" stroke-width="1" stroke-dasharray="4,4" stroke-dashoffset="1"/>
<line x1="269.5" y1="1325" x2="269.5" y2="1500" stroke="#dcdcdc" stroke-width="1" stroke-dasharray="4,4" stroke-dashoffset="1"/>
<line x1="324.5" y1="1325" x2="324.5" y2="1500" stroke="#dcdcdc" stroke-width="1" stroke-dasharray="4,4" stroke-dashoffset="1"/>
<line x1="378.5" y1="1325" x2="378.5" y2="1500" stroke="#dcdcdc" stroke-width="1" stroke-dasharray="4,4" stroke-dashoffset="1"/>
<line x1="433.5" y1="1325" x2="433.5" y2="1500" stroke="#dcdcdc" stroke-width="1" stroke-dasharray="4,4" stroke-dashoffset="1"/>
<line x1="488.5" y1="1325" x2="488.5" y2="1500" stroke="#dcdcdc" stroke-width="1" stroke-dasharray="4,4" stroke-dashoffset="1"/>
<line x1="542.5" y1="1325" x2="542.5" y2="1500" stroke="#dcdcdc" stroke-width="1" stroke-dasharray="4,4" stroke-dashoffset="1"/>
<line x1="597.5" y1="1325" x2="597.5" y2="1500" stroke="#dcdcdc" stroke-width="1" stroke-dasharray="4,4" stroke-dashoffset="1"/>
<line x1="652.5" y1="1325" x2="652.5" y2="1500" stroke="#dcdcdc" stroke-width="1" stroke-dasharray="4,4" stroke-dashoffset="1"/>
<line x1="707.5" y1="1325" x2="707.5" y2="1500" stroke="#dcdcdc" stroke-width="1" stroke-dasharray="4,4" stroke-dashoffset="1"/>
<line x1="761.5" y1="1325" x2="761.5" y2="1500" stroke="#dcdcdc" stroke-width="1" stroke-dasharray="4,4" stroke-dashoffset="1"/>
<line x1="816.5" y1="1325" x2="816.5" y2="1500" stroke="#dcdcdc" stroke-width="1" stroke-dasharray="4,4" stroke-dashoffset="1"/>
<line x1="871.5" y1="1325" x2="871.5" y2="1500" stroke="#dcdcdc" stroke-width="1" stroke-dasharray="4,4" stroke-dashoffset="1"/>
<line x1="925.5" y1="1325" x2="925.5" y2="1500" stroke="#dcdcdc" stroke-width="1" stroke-dasharray="4,4" stroke-dashoffset="1"/>
<line x1="980.5" y1="1325" x2="980.5" y2="1500" stroke="#dcdcdc" stroke-width="1" stroke-dasharray="4,4" stroke-dashoffset="1"/>
<line x1="1035.5" y1="1325" x2="1035.5" y2="1500" stroke="#dcdcdc" stroke-width="1" stroke-dasharray="4,4" stroke-dashoffset="1"/>
<line x1="1089.5" y1="1325" x2="1089.5" y2="1500" stroke="#dcdcdc" stroke-width="1" stroke-dasharray="4,4" stroke-dashoffset="1"/>
<line x1="1144.5" y1="1325" x2="1144.5" y2="1500" stroke="#dcdcdc" stroke-width="1" stroke-dasharray="4,4" stroke-dashoffset="1"/>
<line x1="101" y1="1500.5" x2="1151" y2="1500.5" stroke="#dcdcdc" stroke-width="1" stroke-dasharray="4,4" stroke-dashoffset="2"/>
<line x1="101" y1="1470.5" x2="1151" y2="1470.5" stroke="#dcdcdc" stroke-width="1" stroke-dasharray="4,4" stroke-dashoffset="2"/>
<line x1="101" y1="1441.5" x2="1151" y2="1441.5" stroke="#dcdcdc" stroke-width="1" stroke-dasharray="4,4" stroke-dashoffset="2"/>
<line x1="101" y1="1412.5" x2="1151" y2="1412.5" stroke="#dcdcdc" stroke-width="1" stroke-dasharray="4,4" stroke-dashoffset="2"/>
<line x1="101" y1="1383.5" x2="1151" y2="1383.5" stroke="#dcdcdc" stroke-width="1" stroke-dasharray="4,4" stroke-dashoffset="2"/>
<line x1="101" y1="1354.5" x2="1151" y2="1354.5" stroke="#dcdcdc" stroke-width="1" stroke-dasharray="4,4" stroke-dashoffset="2"/>
<line x1="101" y1="1325.5" x2="1151" y2="1325.5" stroke="#dcdcdc" stroke-width="1" stroke-dasharray="4,4" stroke-dashoffset="2"/>
<defs><clipPath id="ca"><rect x="0" y="0" width="1200" height="1384"/></clipPath><clipPath id="cb"><rect x="0" y="1384" width="1200" height="400"/></clipPath></defs>
<polygon points="104.95,1384.00 104.95,1336.88 106.75,1337.55 115.75,1342.50 121.38,1341.38 126.55,1340.25 131.50,1343.62 137.12,1349.92 145.00,1354.88 152.88,1360.05 160.75,1364.33 165.25,1367.25 170.88,1372.20 177.62,1375.12 183.25,1377.38 190.00,1379.17 197.88,1379.62 203.50,1380.30 209.12,1383.67 217.00,1390.88 224.20,1398.75 230.50,1393.12 237.25,1387.50 244.00,1383.67 250.75,1378.95 257.50,1375.12 262.00,1375.80 267.62,1379.62 272.80,1383.67 280.00,1387.50 286.75,1390.20 291.25,1392.45 296.88,1399.88 303.62,1410.00 311.50,1420.80 319.38,1419.00 325.00,1416.75 334.00,1414.05 338.50,1414.95 345.25,1418.55 352.00,1414.50 358.75,1409.55 370.62,1397.62 376.25,1390.88 381.88,1383.67 388.62,1372.88 393.12,1370.62 399.88,1368.38 407.75,1365.45 413.38,1365.67 419.00,1367.25 424.62,1372.88 432.50,1383.67 434.75,1383.67 437.00,1382.55 442.62,1382.10 461.75,1382.10 466.25,1383.00 468.50,1383.67 475.25,1388.62 484.25,1389.30 491.00,1390.88 500.00,1394.25 506.75,1398.30 513.50,1405.50 519.80,1415.62 524.75,1414.05 531.50,1411.58 536.00,1414.50 542.75,1419.67 551.75,1419.67 558.50,1420.12 561.88,1420.80 566.38,1419.00 570.88,1415.62 576.50,1412.92 582.12,1414.05 587.75,1416.75 594.50,1422.38 603.50,1431.38 609.12,1439.25 614.75,1449.38 621.50,1456.12 634.50,1468.50 640.12,1475.25 648.00,1474.80 654.75,1475.25 661.50,1477.50 667.12,1473.00 672.75,1459.50 678.38,1442.62 684.00,1425.75 689.62,1411.12 696.38,1396.50 704.25,1383.67 706.50,1378.50 715.50,1372.20 724.50,1365.00 731.25,1361.17 739.12,1358.25 744.75,1362.75 750.38,1366.58 756.00,1362.30 765.00,1354.42 772.88,1351.05 778.50,1352.62 785.25,1358.25 789.75,1366.12 794.25,1375.12 801.00,1378.50 807.75,1383.67 815.62,1388.62 823.50,1390.42 832.50,1389.08 841.50,1386.83 850.50,1386.38 857.25,1387.50 864.00,1383.67 870.75,1376.25 879.75,1370.17 893.25,1365.67 898.38,1366.58 905.12,1369.50 914.12,1378.05 924.25,1383.67 926.50,1383.67 932.12,1385.25 937.75,1384.80 938.20,1383.67 946.75,1374.00 955.75,1356.00 962.50,1348.12 968.12,1345.20 973.75,1349.25 980.50,1358.25 989.50,1361.62 1000.75,1362.08 1005.25,1366.12 1009.75,1374.00 1014.25,1383.67 1022.12,1398.75 1033.38,1408.88 1045.75,1410.00 1057.00,1410.67 1061.50,1406.62 1068.25,1392.00 1078.38,1384.12 1086.25,1385.25 1098.62,1393.12 1111.00,1397.62 1120.00,1404.38 1133.50,1414.50 1143.62,1408.88 1144.08,1383.67 1144.08,1384.00" fill="#98fb98" clip-path="url(#ca)"/>
<polygon points="104.95,1384.00 104.95,1336.88 106.75,1337.55 115.75,1342.50 121.38,1341.38 126.55,1340.25 131.50,1343.62 137.12,1349.92 145.00,1354.88 152.88,1360.05 160.75,1364.33 165.25,1367.25 170.88,1372.20 177.62,1375.12 183.25,1377.38 190.00,1379.17 197.88,1379.62 203.50,1380.30 209.12,1383.67 217.00,1390.88 224.20,1398.75 230.50,1393.12 237.25,1387.50 244.00,1383.67 250.75,1378.95 257.50,1375.12 262.00,1375.80 267.62,1379.62 272.80,1383.67 280.00,1387.50 286.75,1390.20 291.25,1392.45 296.88,1399.88 303.62,1410.00 311.50,1420.80 319.38,1419.00 325.00,1416.75 334.00,1414.05 338.50,1414.95 345.25,1418.55 352.00,1414.50 358.75,1409.55 370.62,1397.62 376.25,1390.88 381.88,1383.67 388.62,1372.88 393.12,1370.62 399.88,1368.38 407.75,1365.45 413.38,1365.67 419.00,1367.25 424.62,1372.88 432.50,1383.67 434.75,1383.67 437.00,1382.55 442.62,1382.10 461.75,1382.10 466.25,1383.00 468.50,1383.67 475.25,1388.62 484.25,1389.30 491.00,1390.88 500.00,1394.25 506.75,1398.30 513.50,1405.50 519.80,1415.62 524.75,1414.05 531.50,1411.58 536.00,1414.50 542.75,1419.67 551.75,1419.67 558.50,1420.12 561.88,1420.80 566.38,1419.00 570.88,1415.62 576.50,1412.92 582.12,1414.05 587.75,1416.75 594.50,1422.38 603.50,1431.38 609.12,1439.25 614.75,1449.38 621.50,1456.12 634.50,1468.50 640.12,1475.25 648.00,1474.80 654.75,1475.25 661.50,1477.50 667.12,1473.00 672.75,1459.50 678.38,1442.62 684.00,1425.75 689.62,1411.12 696.38,1396.50 704.25,1383.67 706.50,1378.50 715.50,1372.20 724.50,1365.00 731.25,1361.17 739.12,1358.25 744.75,1362.75 750.38,1366.58 756.00,1362.30 765.00,1354.42 772.88,1351.05 778.50,1352.62 785.25,1358.25 789.75,1366.12 794.25,1375.12 801.00,1378.50 807.75,1383.67 815.62,1388.62 823.50,1390.42 832.50,1389.08 841.50,1386.83 850.50,1386.38 857.25,1387.50 864.00,1383.67 870.75,1376.25 879.75,1370.17 893.25,1365.67 898.38,1366.58 905.12,1369.50 914.12,1378.05 924.25,1383.67 926.50,1383.67 932.12,1385.25 937.75,1384.80 938.20,1383.67 946.75,1374.00 955.75,1356.00 962.50,1348.12 968.12,1345.20 973.75,1349.25 980.50,1358.25 989.50,1361.62 1000.75,1362.08 1005.25,1366.12 1009.75,1374.00 1014.25,1383.67 1022.12,1398.75 1033.38,1408.88 1045.75,1410.00 1057.00,1410.67 1061.50,1406.62 1068.25,1392.00 1078.38,1384.12 1086.25,1385.25 1098.62,1393.12 1111.00,1397.62 1120.00,1404.38 1133.50,1414.50 1143.62,1408.88 1144.08,1383.67 1144.08,1384.00" fill="#fa9696" clip-path="url(#cb)"/>
<rect x="100" y="1318" width="1" height="183" fill="#000"/>
<path d="M100 1313h1v1h1v2h1v2h1v2h-7v-2h1v-2h1v-2h1z" fill="#000"/>
<rect x="100" y="1500" width="1062" height="1" fill="#000"/>
<path d="M1155 1497h2v1h2v1h2v1h1v1h-1v1h-2v1h-2v1h-2z" fill="#000"/>
<rect x="98" y="1500" width="5" height="1" fill="#000"/>
<text x="96" y="1504" font-size="11" text-anchor="end" fill="#000">-0.80</text>
<rect x="98" y="1485" width="2" height="1" fill="#f00"/>
<rect x="98" y="1470" width="5" height="1" fill="#000"/>
<text x="96" y="1474" font-size="11" text-anchor="end" fill="#000">-0.60</text>
<rect x="98" y="1456" width="2" height="1" fill="#f00"/>
<rect x="98" y="1441" width="5" height="1" fill="#000"/>
<text x="96" y="1445" font-size="11" text-anchor="end" fill="#000">-0.40</text>
<rect x="98" y="1427" width="2" height="1" fill="#f00"/>
<rect x="98" y="1412" width="5" height="1" fill="#000"/>
<text x="96" y="1416" font-size="11" text-anchor="end" fill="#000">-0.20</text>
<rect x="98" y="1397" width="2" height="1" fill="#f00"/>
<rect x="98" y="1383" width="5" height="1" fill="#000"/>
<text x="96" y="1387" font-size="11" text-anchor="end" fill="#000">0.00</text>
<rect x="98" y="1368" width="2" height="1" fill="#f00"/>
<rect x="98" y="1354" width="5" height="1" fill="#000"/>
<text x="96" y="1358" font-size="11" text-anchor="end" fill="#000">0.20</text>
<rect x="98" y="1339" width="2" height="1" fill="#f00"/>
<rect x="98" y="1325" width="5" height="1" fill="#000"/>
<text x="96" y="1329" font-size="11" text-anchor="end" fill="#000">0.40</text>
<rect x="105" y="1498" width="1" height="5" fill="#000"/>
<text x="104.3" y="1513.5" font-size="11" text-anchor="middle" fill="#000">26 Fév</text>
<rect x="116" y="1501" width="1" height="2" fill="#c8c8c8"/>
<rect x="127" y="1501" width="1" height="2" fill="#c8c8c8"/>
<rect x="138" y="1501" width="1" height="2" fill="#c8c8c8"/>
<rect x="149" y="1501" width="1" height="2" fill="#c8c8c8"/>
<rect x="160" y="1498" width="1" height="5" fill="#000"/>
<text x="159.3" y="1513.5" font-size="11" text-anchor="middle" fill="#000">5 Mars</text>
<rect x="171" y="1501" width="1" height="2" fill="#c8c8c8"/>
<rect x="182" y="1501" width="1" height="2" fill="#c8c8c8"/>
<rect x="192" y="1501" width="1" height="2" fill="#c8c8c8"/>
<rect x="203" y="1501" width="1" height="2" fill="#c8c8c8"/>
<rect x="214" y="1498" width="1" height="5" fill="#000"/>
<text x="213.3" y="1513.5" font-size="11" text-anchor="middle" fill="#000">12 Mars</text>
<rect x="225" y="1501" width="1" height="2" fill="#c8c8c8"/>
<rect x="236" y="1501" width="1" height="2" fill="#c8c8c8"/>
<rect x="247" y="1501" width="1" height="2" fill="#c8c8c8"/>
<rect x="258" y="1501" width="1" height="2" fill="#c8c8c8"/>
<rect x="269" y="1498" width="1" height="5" fill="#000"/>
<text x="268.3" y="1513.5" font-size="11" text-anchor="middle" fill="#000">19 Mars</text>
<rect x="280" y="1501" width="1" height="2" fill="#c8c8c8"/>
<rect x="291" y="1501" width="1" height="2" fill="#c8c8c8"/>
<rect x="302" y="1501" width="1" height="2" fill="#c8c8c8"/>
<rect x="313" y="1501" width="1" height="2" fill="#c8c8c8"/>
<rect x="324" y="1498" width="1" height="5" fill="#000"/>
<text x="323.3" y="1513.5" font-size="11" text-anchor="middle" fill="#000">26 Mars</text>
<rect x="335" y="1501" width="1" height="2" fill="#c8c8c8"/>
<rect x="346" y="1501" width="1" height="2" fill="#c8c8c8"/>
<rect x="357" y="1501" width="1" height="2" fill="#c8c8c8"/>
<rect x="367" y="1501" width="1" height="2" fill="#c8c8c8"/>
<rect x="378" y="1498" width="1" height="5" fill="#000"/>
<text x="377.3" y="1513.5" font-size="11" text-anchor="middle" fill="#000">2 Avr</text>
<rect x="389" y="1501" width="1" height="2" fill="#c8c8c8"/>
<rect x="400" y="1501" width="1" height="2" fill="#c8c8c8"/>
<rect x="411" y="1501" width="1" height="2" fill="#c8c8c8"/>
<rect x="422" y="1501" width="1" height="2" fill="#c8c8c8"/>
<rect x="433" y="1498" width="1" height="5" fill="#000"/>
<text x="432.3" y="1513.5" font-size="11" text-anchor="middle" fill="#000">9 Avr</text>
<rect x="444" y="1501" width="1" height="2" fill="#c8c8c8"/>
<rect x="455" y="1501" width="1" height="2" fill="#c8c8c8"/>
<rect x="466" y="1501" width="1" height="2" fill="#c8c8c8"/>
<rect x="477" y="1501" width="1" height="2" fill="#c8c8c8"/>
<rect x="488" y="1498" width="1" height="5" fill="#000"/>
<text x="487.3" y="1513.5" font-size="11" text-anchor="middle" fill="#000">16 Avr</text>
<rect x="499" y="1501" width="1" height="2" fill="#c8c8c8"/>
<rect x="510" y="1501" width="1" height="2" fill="#c8c8c8"/>
<rect x="521" y="1501" width="1" height="2" fill="#c8c8c8"/>
<rect x="532" y="1501" width="1" height="2" fill="#c8c8c8"/>
<rect x="542" y="1498" width="1" height="5" fill="#000"/>
<text x="541.3" y="1513.5" font-size="11" text-anchor="middle" fill="#000">25 Avr</text>
<rect x="553" y="1501" width="1" height="2" fill="#c8c8c8"/>
<rect x="564" y="1501" width="1" height="2" fill="#c8c8c8"/>
<rect x="575" y="1501" width="1" height="2" fill="#c8c8c8"/>
<rect x="586" y="1501" width="1" height="2" fill="#c8c8c8"/>
<rect x="597" y="1498" width="1" height="5" fill="#000"/>
<text x="596.3" y="1513.5" font-size="11" text-anchor="middle" fill="#000">3 Mai</text>
<rect x="608" y="1501" width="1" height="2" fill="#c8c8c8"/>
<rect x="619" y="1501" width="1" height="2" fill="#c8c8c8"/>
<rect x="630" y="1501" width="1" height="2" fill="#c8c8c8"/>
<rect x="641" y="1501" width="1" height="2" fill="#c8c8c8"/>
<rect x="652" y="1498" width="1" height="5" fill="#000"/>
<text x="651.3" y="1513.5" font-size="11" text-anchor="middle" fill="#000">10 Mai</text>
<rect x="663" y="1501" width="1" height="2" fill="#c8c8c8"/>
<rect x="674" y="1501" width="1" height="2" fill="#c8c8c8"/>
<rect x="685" y="1501" width="1" height="2" fill="#c8c8c8"/>
<rect x="696" y="1501" width="1" height="2" fill="#c8c8c8"/>
<rect x="707" y="1498" width="1" height="5" fill="#000"/>
<text x="706.3" y="1513.5" font-size="11" text-anchor="middle" fill="#000">17 Mai</text>
<rect x="717" y="1501" width="1" height="2" fill="#c8c8c8"/>
<rect x="728" y="1501" width="1" height="2" fill="#c8c8c8"/>
<rect x="739" y="1501" width="1" height="2" fill="#c8c8c8"/>
<rect x="750" y="1501" width="1" height="2" fill="#c8c8c8"/>
<rect x="761" y="1498" width="1" height="5" fill="#000"/>
<text x="760.3" y="1513.5" font-size="11" text-anchor="middle" fill="#000">24 Mai</text>
<rect x="772" y="1501" width="1" height="2" fill="#c8c8c8"/>
<rect x="783" y="1501" width="1" height="2" fill="#c8c8c8"/>
<rect x="794" y="1501" width="1" height="2" fill="#c8c8c8"/>
<rect x="805" y="1501" width="1" height="2" fill="#c8c8c8"/>
<rect x="816" y="1498" width="1" height="5" fill="#000"/>
<text x="815.3" y="1513.5" font-size="11" text-anchor="middle" fill="#000">31 Mai</text>
<rect x="827" y="1501" width="1" height="2" fill="#c8c8c8"/>
<rect x="838" y="1501" width="1" height="2" fill="#c8c8c8"/>
<rect x="849" y="1501" width="1" height="2" fill="#c8c8c8"/>
<rect x="860" y="1501" width="1" height="2" fill="#c8c8c8"/>
<rect x="871" y="1498" width="1" height="5" fill="#000"/>
<text x="870.3" y="1513.5" font-size="11" text-anchor="middle" fill="#000">7 Juin</text>
<rect x="882" y="1501" width="1" height="2" fill="#c8c8c8"/>
<rect x="892" y="1501" width="1" height="2" fill="#c8c8c8"/>
<rect x="903" y="1501" width="1" height="2" fill="#c8c8c8"/>
<rect x="914" y="1501" width="1" height="2" fill="#c8c8c8"/>
<rect x="925" y="1498" width="1" height="5" fill="#000"/>
<text x="924.3" y="1513.5" font-size="11" text-anchor="middle" fill="#000">14 Juin</text>
<rect x="936" y="1501" width="1" height="2" fill="#c8c8c8"/>
<rect x="947" y="1501" width="1" height="2" fill="#c8c8c8"/>
<rect x="958" y="1501" width="1" height="2" fill="#c8c8c8"/>
<rect x="969" y="1501" width="1" height="2" fill="#c8c8c8"/>
<rect x="980" y="1498" width="1" height="5" fill="#000"/>
<text x="979.3" y="1513.5" font-size="11" text-anchor="middle" fill="#000">21 Juin</text>
<rect x="991" y="1501" width="1" height="2" fill="#c8c8c8"/>
<rect x="1002" y="1501" width="1" height="2" fill="#c8c8c8"/>
<rect x="1013" y="1501" width="1" height="2" fill="#c8c8c8"/>
<rect x="1024" y="1501" width="1" height="2" fill="#c8c8c8"/>
<rect x="1035" y="1498" width="1" height="5" fill="#000"/>
<text x="1034.3" y="1513.5" font-size="11" text-anchor="middle" fill="#000">28 Juin</text>
<rect x="1046" y="1501" width="1" height="2" fill="#c8c8c8"/>
<rect x="1057" y="1501" width="1" height="2" fill="#c8c8c8"/>
<rect x="1067" y="1501" width="1" height="2" fill="#c8c8c8"/>
<rect x="1078" y="1501" width="1" height="2" fill="#c8c8c8"/>
<rect x="1089" y="1498" width="1" height="5" fill="#000"/>
<text x="1088.3" y="1513.5" font-size="11" text-anchor="middle" fill="#000">5 Juil</text>
<rect x="1100" y="1501" width="1" height="2" fill="#c8c8c8"/>
<rect x="1111" y="1501" width="1" height="2" fill="#c8c8c8"/>
<rect x="1122" y="1501" width="1" height="2" fill="#c8c8c8"/>
<rect x="1133" y="1501" width="1" height="2" fill="#c8c8c8"/>
<rect x="1144" y="1498" width="1" height="5" fill="#000"/>
<text x="1143.3" y="1513.5" font-size="11" text-anchor="middle" fill="#000">12 Juil</text>
<text x="503.6" y="1526.5" font-size="11" fill="#000" textLength="241.8" lengthAdjust="spacingAndGlyphs">Date (du 26 Février 2019 au 12 Juillet 2019)</text>
<text transform="translate(62,1412.5) rotate(-90)" font-size="11" text-anchor="middle" fill="#000">MACD</text>
</svg>
</body></html>
